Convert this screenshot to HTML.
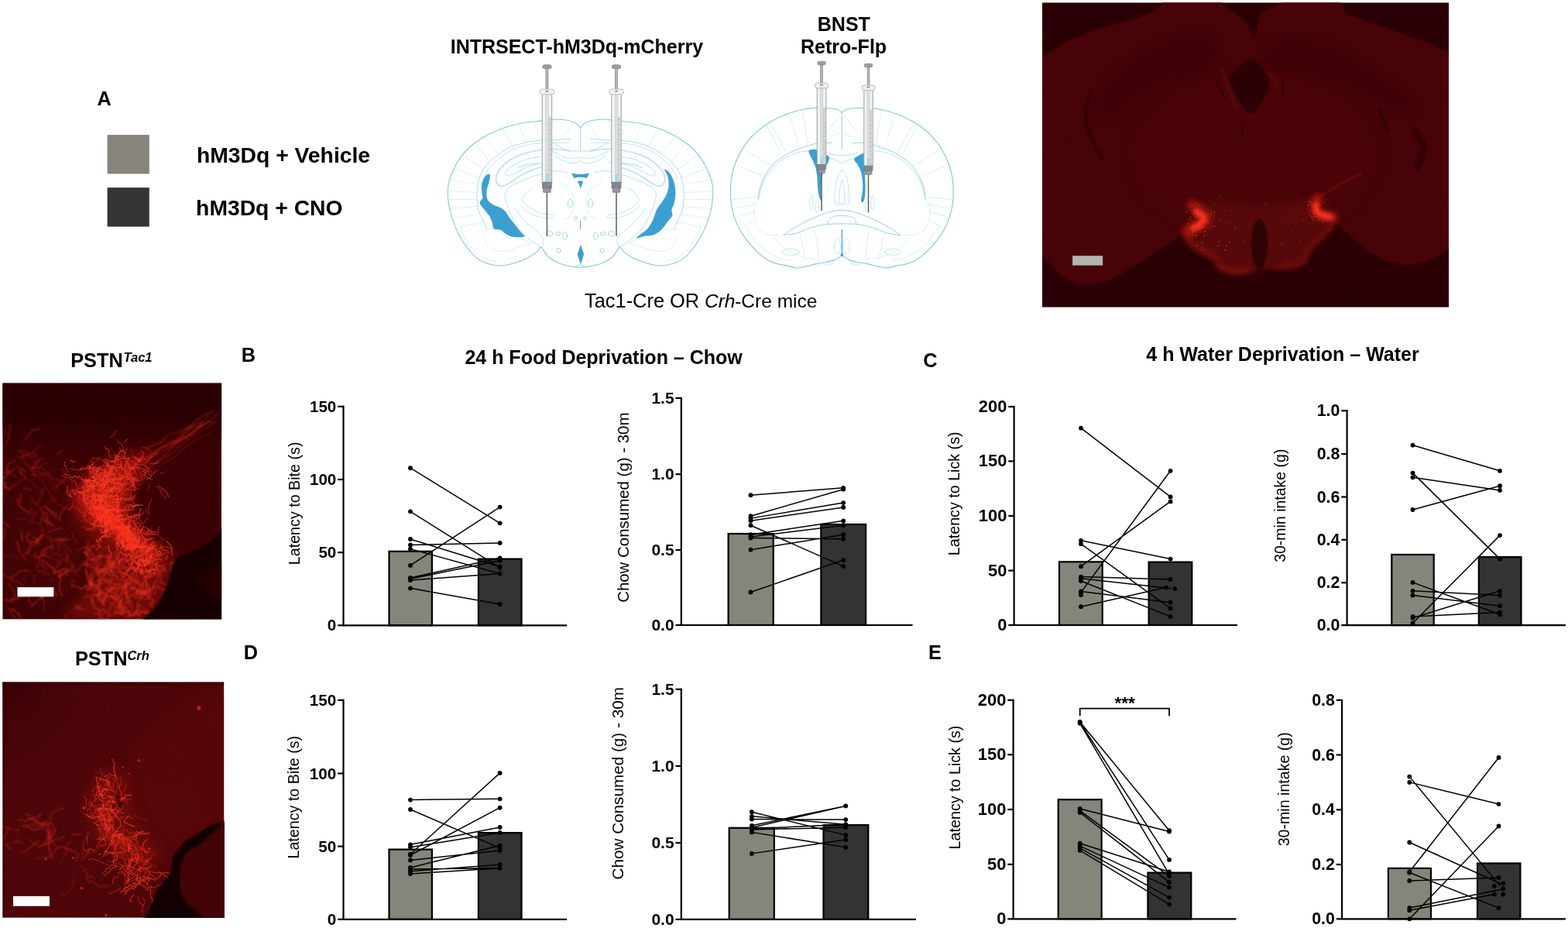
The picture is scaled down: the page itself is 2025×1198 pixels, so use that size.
<!DOCTYPE html>
<html lang="en"><head><meta charset="utf-8"><title>Figure</title>
<style>html,body{margin:0;padding:0;background:#fff}html{width:2025px;height:1198px}body{width:2025px;height:1198px;overflow:hidden}svg{display:block}text{font-family:"Liberation Sans",sans-serif;fill:#000}.b{font-weight:bold}.r{font-weight:normal}.tk{font-weight:bold;font-size:20.3px}.yl{font-weight:normal}</style></head><body>
<svg width="2025" height="1198" viewBox="0 0 2025 1198">
<rect width="2025" height="1198" fill="#fff"/>
<defs>
<filter id="s05" x="-60%" y="-60%" width="220%" height="220%" color-interpolation-filters="sRGB"><feGaussianBlur stdDeviation="0.5"/></filter>
<filter id="s1" x="-60%" y="-60%" width="220%" height="220%" color-interpolation-filters="sRGB"><feGaussianBlur stdDeviation="1"/></filter>
<filter id="s2" x="-60%" y="-60%" width="220%" height="220%" color-interpolation-filters="sRGB"><feGaussianBlur stdDeviation="2"/></filter>
<filter id="s3" x="-60%" y="-60%" width="220%" height="220%" color-interpolation-filters="sRGB"><feGaussianBlur stdDeviation="3"/></filter>
<filter id="s5" x="-60%" y="-60%" width="220%" height="220%" color-interpolation-filters="sRGB"><feGaussianBlur stdDeviation="5"/></filter>
<filter id="s8" x="-60%" y="-60%" width="220%" height="220%" color-interpolation-filters="sRGB"><feGaussianBlur stdDeviation="8"/></filter>
<filter id="s12" x="-60%" y="-60%" width="220%" height="220%" color-interpolation-filters="sRGB"><feGaussianBlur stdDeviation="12"/></filter>
<clipPath id="c1"><rect x="1346" y="3.3" width="525" height="393.4"/></clipPath>
<filter id="s07" x="-20%" y="-20%" width="140%" height="140%" color-interpolation-filters="sRGB"><feGaussianBlur stdDeviation="0.7"/></filter>
<radialGradient id="g2b" gradientUnits="userSpaceOnUse" cx="70" cy="705" r="130"><stop offset="0" stop-color="#5a0908" stop-opacity="0.45"/><stop offset="0.5" stop-color="#500706" stop-opacity="0.3"/><stop offset="1" stop-color="#4a0506" stop-opacity="0"/></radialGradient>
<filter id="nz2" x="0" y="0" width="100%" height="100%" color-interpolation-filters="sRGB"><feTurbulence type="fractalNoise" baseFrequency="0.3" numOctaves="2" seed="4"/><feColorMatrix type="matrix" values="0 0 0 0 0.7  0 0 0 0 0.06  0 0 0 0 0.05  2.4 0 0 0 -1.1"/></filter>
<filter id="nz3" x="0" y="0" width="100%" height="100%" color-interpolation-filters="sRGB"><feTurbulence type="fractalNoise" baseFrequency="0.32" numOctaves="2" seed="9"/><feColorMatrix type="matrix" values="0 0 0 0 0.8  0 0 0 0 0.08  0 0 0 0 0.06  2.4 0 0 0 -1.05"/></filter>
<radialGradient id="v3" gradientUnits="userSpaceOnUse" cx="3" cy="880" r="150"><stop offset="0" stop-color="#2e0005" stop-opacity="0.75"/><stop offset="0.45" stop-color="#380206" stop-opacity="0.4"/><stop offset="1" stop-color="#400308" stop-opacity="0"/></radialGradient>
</defs>
<g clip-path="url(#c1)">
<rect x="1346" y="3.3" width="525" height="393.4" fill="#290005"/>
<path d="M1330.44 80.78C1333.02 50.44 1338.74 77.08 1346 73C1353.26 68.92 1372.79 55.65 1384.89 50.19C1396.99 44.73 1423.95 36.19 1436.74 32.04C1449.53 27.89 1472.52 22.43 1480.82 19.07C1489.12 15.72 1494.82 10.07 1498.97 6.89C1503.12 3.71 1502.6 -3.22 1511.93 -4.78C1521.27 -6.33 1559.98 -6.16 1568.97 -4.78C1577.96 -3.4 1574.5 1.62 1579.34 5.59C1584.18 9.57 1600.26 20.2 1605.27 25.04C1610.28 29.88 1614.86 38.43 1616.94 41.89C1619.01 45.35 1619.89 52 1620.82 50.96C1621.76 49.93 1623.07 38.61 1623.94 34.11C1624.8 29.62 1624.61 20.72 1627.31 17.26C1630 13.8 1636.73 11.12 1644.16 8.19C1651.59 5.25 1672.33 -3.05 1683.05 -4.78C1693.77 -6.51 1717.96 -6.33 1724.53 -4.78C1731.1 -3.22 1729.89 3.71 1732.31 6.89C1734.73 10.07 1735.42 15.38 1742.68 19.07C1749.94 22.77 1773.97 30.14 1786.76 34.63C1799.55 39.12 1827.38 48.35 1838.61 52.78C1849.85 57.2 1864.8 64.78 1871.02 67.82C1877.24 70.86 1883.06 42.78 1885.28 75.6C1887.5 108.41 1889.15 281.25 1887.69 313.92C1886.23 346.59 1880.56 317.39 1874.33 320.6C1868.1 323.8 1849.84 335.2 1840.94 337.96C1832.03 340.72 1816.44 342.51 1807.54 341.3C1798.63 340.1 1783.05 334.16 1774.14 328.95C1765.24 323.74 1747.43 308.15 1740.75 302.23C1734.07 296.31 1726.24 287.39 1724.05 284.53C1721.87 281.67 1724.85 279.4 1724.36 280.76C1723.87 282.13 1723.02 290.78 1720.35 294.79C1717.68 298.79 1708.16 306.89 1704.33 310.81C1700.5 314.73 1694.04 320.61 1691.64 324.17C1689.24 327.73 1688.52 334.85 1686.3 337.52C1684.07 340.19 1680.2 342.92 1674.95 344.2C1669.69 345.48 1652.07 346.69 1646.9 347.14C1641.74 347.58 1639.25 347.31 1636.22 347.54C1633.19 347.77 1627.23 348.29 1624.2 348.87C1621.17 349.46 1617.61 351.36 1613.51 351.94C1609.42 352.53 1598.38 353.87 1593.48 353.28C1588.59 352.69 1579.82 349.82 1576.79 347.54C1573.76 345.26 1573.9 339.09 1570.78 336.19C1567.66 333.28 1558.19 328.94 1553.42 325.77C1548.65 322.6 1538.05 316.1 1534.99 312.41C1531.93 308.73 1531.51 299.48 1530.45 298.12C1529.39 296.77 1529.25 300.48 1527.02 302.23C1524.78 303.98 1520.78 306.48 1513.66 311.25C1506.53 316.01 1484.27 331.29 1473.58 337.96C1462.9 344.64 1443.3 357.33 1433.51 361.34C1423.71 365.35 1408.13 368.47 1400.11 368.02C1392.1 367.58 1380.61 363.21 1373.4 358C1366.18 352.79 1352.25 336.61 1346.01 328.95C1339.78 321.29 1328.72 333.65 1326.64 300.56C1324.57 267.47 1327.86 111.12 1330.44 80.78Z" fill="#460408" filter="url(#s1)"/>
<rect x="1346" y="3.3" width="525" height="393.4" filter="url(#nz2)" opacity="0.07"/>
<ellipse cx="1620" cy="200" rx="150" ry="95" fill="#4d0508" opacity="0.6" filter="url(#s12)"/>
<path d="M1413.41 137.82C1412.98 129.61 1423.35 111.89 1431.56 101.52C1439.77 91.15 1450.14 83.81 1462.67 75.6C1475.2 67.39 1491.62 57.88 1506.75 52.26C1521.87 46.64 1542.4 39.3 1553.42 41.89C1564.43 44.48 1572.86 59.17 1572.86 67.82C1572.86 76.46 1565.3 87.26 1553.42 93.74C1541.53 100.23 1516.69 101.09 1501.56 106.71C1486.44 112.33 1473.91 120.1 1462.67 127.45C1451.44 134.8 1442.36 149.05 1434.15 150.78C1425.94 152.51 1413.84 146.03 1413.41 137.82Z" fill="#38020688" filter="url(#s5)"/>
<path d="M1627.31 70.41C1629.47 63.71 1643.51 52.26 1657.12 49.67C1670.73 47.08 1691.69 49.67 1708.98 54.85C1726.26 60.04 1743.55 69.98 1760.83 80.78C1778.11 91.58 1801.45 108.44 1812.68 119.67C1823.92 130.91 1832.56 145.6 1828.24 148.19C1823.92 150.78 1802.31 141.71 1786.76 135.23C1771.2 128.75 1752.19 116 1734.9 109.3C1717.62 102.6 1698.17 98.28 1683.05 95.04C1667.93 91.8 1653.45 93.96 1644.16 89.86C1634.87 85.75 1625.15 77.11 1627.31 70.41Z" fill="#38020688" filter="url(#s5)"/>
<path d="M1408.22 117.08C1407.27 123.99 1399.93 143.87 1402.52 158.56C1405.11 173.25 1420.24 197.45 1423.78 205.23" stroke="#2b0104" stroke-width="4" fill="none" opacity="0.75" stroke-linecap="round" filter="url(#s1)"/>
<path d="M1825.65 168.93C1827.81 172.39 1837.75 181.9 1838.61 189.67C1839.48 197.45 1832.13 211.28 1830.83 215.6" stroke="#2b0104" stroke-width="9" fill="none" opacity="0.75" stroke-linecap="round" filter="url(#s1)"/>
<path d="M1781.57 143.01C1783.3 147.33 1790.21 164.61 1791.94 168.93" stroke="#2b0104" stroke-width="4" fill="none" opacity="0.75" stroke-linecap="round" filter="url(#s1)"/>
<path d="M1602.68 155.97C1603.11 159.86 1604.84 175.41 1605.27 179.3" stroke="#2b0104" stroke-width="2.5" fill="none" opacity="0.75" stroke-linecap="round" filter="url(#s1)"/>
<path d="M1568.97 101.52C1571.13 105.84 1579.77 123.13 1581.93 127.45" stroke="#2b0104" stroke-width="2.5" fill="none" opacity="0.75" stroke-linecap="round" filter="url(#s1)"/>
<path d="M1655.83 104.11C1656.04 107.14 1656.91 119.24 1657.12 122.26" stroke="#2b0104" stroke-width="2.5" fill="none" opacity="0.75" stroke-linecap="round" filter="url(#s1)"/>
<path d="M1587.12 101.52C1587.12 96.08 1598.05 88.93 1601.38 85.97C1604.71 83 1611.86 75.51 1615.64 76.11C1619.42 76.72 1631.07 86.98 1633.79 91.15C1636.51 95.33 1639.58 107.05 1638.97 111.89C1638.37 116.73 1631.33 128.55 1628.6 132.63C1625.88 136.72 1618.82 146.89 1615.64 146.89C1612.46 146.89 1604.71 137.93 1601.38 132.63C1598.05 127.34 1587.12 106.97 1587.12 101.52Z" fill="#2c0105" filter="url(#s1)"/>
<path d="M1578.05 88.56C1579.56 92.88 1584.1 106.28 1587.12 114.49C1590.14 122.7 1594.68 133.93 1596.19 137.82" stroke="#5a090b" stroke-width="3.5" fill="none" opacity="0.9" stroke-linecap="round" filter="url(#s1)"/>
<path d="M1635.08 92.45C1636.6 93.53 1641.78 95.69 1644.16 98.93C1646.54 102.17 1648.48 109.73 1649.34 111.89" stroke="#5a090b" stroke-width="3.5" fill="none" opacity="0.9" stroke-linecap="round" filter="url(#s1)"/>
<path d="M1530.45 298.12C1531.13 294.17 1537.36 287.31 1540.06 282.77C1542.77 278.23 1545.41 267.1 1550.75 264.07C1556.09 261.04 1571.76 260.06 1580.13 260.06C1588.5 260.06 1607.37 263.18 1613.51 264.07C1619.66 264.96 1622.64 266.74 1626.2 266.74C1629.76 266.74 1633.9 264.96 1640.22 264.07C1646.55 263.18 1665.95 260.95 1673.61 260.06C1681.27 259.17 1690.88 254.63 1697.65 257.39C1704.42 260.15 1721.33 275.78 1724.36 280.76C1727.39 285.75 1723.02 290.78 1720.35 294.79C1717.68 298.79 1708.16 306.89 1704.33 310.81C1700.5 314.73 1694.04 320.61 1691.64 324.17C1689.24 327.73 1688.52 334.85 1686.3 337.52C1684.07 340.19 1680.2 342.92 1674.95 344.2C1669.69 345.48 1652.07 346.69 1646.9 347.14C1641.74 347.58 1638.98 347.31 1636.22 347.54C1633.46 347.77 1629.23 348.29 1626.2 348.87C1623.17 349.46 1617.88 351.36 1613.51 351.94C1609.15 352.53 1598.38 353.87 1593.48 353.28C1588.59 352.69 1579.82 349.82 1576.79 347.54C1573.76 345.26 1573.9 339.09 1570.78 336.19C1567.66 333.28 1558.19 328.94 1553.42 325.77C1548.65 322.6 1538.05 316.1 1534.99 312.41C1531.93 308.73 1529.77 302.08 1530.45 298.12Z" fill="#5c0a0a" opacity="0.75" filter="url(#s5)"/>
<path d="M1532.05 300.13C1532.72 302.13 1532.5 308.14 1536.06 312.15C1539.62 316.15 1547.85 320.61 1553.42 324.17C1558.98 327.73 1565.55 330.06 1569.44 333.51C1573.34 336.96 1572.78 342.08 1576.79 344.87C1580.8 347.65 1587.36 349.47 1593.48 350.21C1599.6 350.94 1610.18 349.43 1613.51 349.27" stroke="#8c160e" stroke-width="9" fill="none" opacity="0.55" filter="url(#s3)"/>
<path d="M1721.69 284.1C1721.02 285.88 1720.91 290.56 1717.68 294.79C1714.45 299.02 1707 304.8 1702.32 309.48C1697.65 314.15 1692.64 318.49 1689.64 322.83C1686.63 327.17 1686.97 332.36 1684.29 335.52C1681.62 338.68 1679.84 340.24 1673.61 341.79C1667.38 343.35 1651.35 344.35 1646.9 344.87" stroke="#84140e" stroke-width="8" fill="none" opacity="0.45" filter="url(#s3)"/>
<path d="M1705.66 253.39C1709.22 251.16 1720.13 244.04 1727.03 240.03C1733.93 236.03 1741.56 232.24 1747.06 229.35C1752.56 226.45 1757.86 223.78 1760.02 222.67" stroke="#6e0d0c" stroke-width="3" fill="none" opacity="0.8" filter="url(#s1)"/>
<path d="M1626.2 282.1C1628.65 281.88 1631.66 287.33 1633.55 292.12C1635.44 296.9 1637.33 303.91 1637.55 310.81C1637.78 317.71 1636.44 327.28 1634.88 333.51C1633.32 339.75 1630.65 347.09 1628.21 348.21C1625.76 349.32 1622.24 345.53 1620.19 340.19C1618.14 334.85 1616.14 323.94 1615.92 316.15C1615.7 308.36 1617.14 299.13 1618.86 293.45C1620.57 287.78 1623.75 282.32 1626.2 282.1Z" fill="#2d0205" filter="url(#s1)"/>
<path d="M1540.06 265.41C1541.84 266.74 1547.85 270.97 1550.75 273.42C1553.64 275.87 1556.98 277.65 1557.43 280.1C1557.87 282.54 1555.64 285.88 1553.42 288.11C1551.19 290.33 1547.41 291.78 1544.07 293.45C1540.73 295.12 1535.17 297.35 1533.39 298.12" stroke="#e02414" stroke-width="15" fill="none" opacity="0.5" stroke-linecap="round" filter="url(#s3)"/>
<path d="M1545.41 273.42C1546.96 274.75 1553.86 278.98 1554.75 281.43C1555.64 283.88 1552.97 285.88 1550.75 288.11C1548.52 290.33 1542.96 293.67 1541.4 294.79" stroke="#ff3320" stroke-width="8" fill="none" opacity="0.9" stroke-linecap="round" filter="url(#s2)"/>
<path d="M1701.66 256.06C1701.21 257.62 1699.21 262.51 1698.99 265.41C1698.76 268.3 1698.54 271.19 1700.32 273.42C1702.1 275.64 1706.11 277.6 1709.67 278.76C1713.23 279.92 1719.68 280.1 1721.69 280.36" stroke="#e02414" stroke-width="13" fill="none" opacity="0.5" stroke-linecap="round" filter="url(#s3)"/>
<path d="M1699.65 264.07C1699.76 265.52 1698.87 270.41 1700.32 272.75C1701.77 275.09 1705.44 276.91 1708.33 278.09C1711.23 279.27 1716.12 279.54 1717.68 279.83" stroke="#ff3320" stroke-width="7.5" fill="none" opacity="0.9" stroke-linecap="round" filter="url(#s2)"/>
<g fill="#ff4a30" opacity="0.45" filter="url(#s07)"><circle cx="1549.9" cy="299.8" r="0.7"/><circle cx="1539.0" cy="276.6" r="0.4"/><circle cx="1566.1" cy="287.7" r="0.6"/><circle cx="1551.9" cy="322.1" r="0.7"/><circle cx="1554.3" cy="275.3" r="0.8"/><circle cx="1556.5" cy="298.7" r="1.0"/><circle cx="1534.4" cy="283.4" r="0.9"/><circle cx="1563.0" cy="293.3" r="0.8"/><circle cx="1548.3" cy="288.6" r="1.0"/><circle cx="1534.9" cy="289.0" r="1.0"/><circle cx="1544.5" cy="261.8" r="0.7"/><circle cx="1552.1" cy="274.7" r="1.1"/><circle cx="1552.0" cy="282.6" r="0.5"/><circle cx="1553.8" cy="313.9" r="0.7"/><circle cx="1543.7" cy="279.3" r="0.8"/><circle cx="1542.7" cy="292.7" r="0.8"/><circle cx="1532.2" cy="274.0" r="0.9"/><circle cx="1565.0" cy="276.6" r="1.1"/><circle cx="1546.5" cy="280.2" r="1.0"/><circle cx="1568.0" cy="280.7" r="0.8"/><circle cx="1547.6" cy="278.6" r="1.0"/><circle cx="1542.4" cy="282.0" r="0.4"/><circle cx="1565.6" cy="259.5" r="0.5"/><circle cx="1551.9" cy="275.3" r="0.5"/><circle cx="1544.8" cy="304.1" r="1.0"/><circle cx="1561.0" cy="290.2" r="0.4"/><circle cx="1547.4" cy="276.3" r="1.0"/><circle cx="1559.6" cy="284.4" r="1.1"/><circle cx="1547.7" cy="290.1" r="0.8"/><circle cx="1554.9" cy="287.4" r="0.7"/><circle cx="1545.0" cy="281.9" r="0.4"/><circle cx="1554.3" cy="279.0" r="1.1"/><circle cx="1556.0" cy="279.5" r="0.7"/><circle cx="1536.2" cy="284.0" r="0.8"/><circle cx="1537.3" cy="280.4" r="1.1"/><circle cx="1539.4" cy="285.5" r="0.9"/><circle cx="1549.6" cy="295.3" r="1.1"/><circle cx="1537.8" cy="284.2" r="0.4"/><circle cx="1538.8" cy="293.4" r="0.4"/><circle cx="1539.5" cy="275.7" r="0.4"/><circle cx="1542.0" cy="277.2" r="0.9"/><circle cx="1540.5" cy="299.8" r="0.9"/><circle cx="1552.2" cy="286.5" r="0.9"/><circle cx="1555.7" cy="284.1" r="0.7"/><circle cx="1542.4" cy="280.7" r="0.7"/><circle cx="1545.7" cy="295.8" r="0.8"/><circle cx="1546.3" cy="296.2" r="0.9"/><circle cx="1560.5" cy="288.4" r="0.9"/><circle cx="1546.6" cy="293.3" r="1.0"/><circle cx="1549.4" cy="293.1" r="0.7"/><circle cx="1547.7" cy="281.2" r="0.6"/><circle cx="1540.4" cy="304.0" r="0.7"/><circle cx="1552.4" cy="280.7" r="0.6"/><circle cx="1538.0" cy="267.5" r="0.7"/><circle cx="1549.7" cy="291.5" r="0.8"/><circle cx="1554.9" cy="304.6" r="1.0"/><circle cx="1551.9" cy="294.1" r="1.0"/><circle cx="1538.8" cy="270.5" r="0.6"/><circle cx="1554.1" cy="292.7" r="1.0"/><circle cx="1547.9" cy="296.1" r="0.7"/><circle cx="1540.9" cy="291.5" r="1.0"/><circle cx="1549.5" cy="286.9" r="1.1"/><circle cx="1568.3" cy="263.8" r="0.7"/><circle cx="1568.6" cy="278.2" r="0.6"/><circle cx="1548.5" cy="265.1" r="0.9"/><circle cx="1541.6" cy="284.9" r="0.6"/><circle cx="1549.5" cy="290.1" r="0.8"/><circle cx="1545.2" cy="305.5" r="0.4"/><circle cx="1560.4" cy="276.4" r="1.0"/><circle cx="1564.4" cy="271.7" r="0.8"/><circle cx="1715.8" cy="275.1" r="0.5"/><circle cx="1696.9" cy="285.2" r="0.8"/><circle cx="1682.8" cy="283.8" r="0.8"/><circle cx="1697.3" cy="279.1" r="1.0"/><circle cx="1685.4" cy="276.0" r="0.6"/><circle cx="1704.6" cy="283.4" r="1.0"/><circle cx="1708.6" cy="286.5" r="1.0"/><circle cx="1706.8" cy="260.0" r="0.4"/><circle cx="1688.6" cy="262.5" r="0.4"/><circle cx="1700.0" cy="280.3" r="0.8"/><circle cx="1692.0" cy="278.2" r="0.9"/><circle cx="1704.0" cy="274.0" r="0.5"/><circle cx="1703.4" cy="276.1" r="1.1"/><circle cx="1703.3" cy="271.3" r="0.8"/><circle cx="1697.9" cy="280.4" r="0.6"/><circle cx="1693.8" cy="265.5" r="0.7"/><circle cx="1703.9" cy="280.7" r="0.5"/><circle cx="1687.6" cy="269.7" r="0.7"/><circle cx="1705.9" cy="276.4" r="0.7"/><circle cx="1688.5" cy="265.5" r="0.7"/><circle cx="1705.0" cy="263.4" r="0.7"/><circle cx="1693.7" cy="280.7" r="0.9"/><circle cx="1688.8" cy="279.9" r="0.7"/><circle cx="1701.3" cy="283.9" r="0.9"/><circle cx="1709.5" cy="277.7" r="0.7"/><circle cx="1716.4" cy="261.1" r="0.7"/><circle cx="1713.8" cy="265.5" r="0.6"/><circle cx="1696.5" cy="274.9" r="1.0"/><circle cx="1691.2" cy="259.8" r="1.0"/><circle cx="1693.8" cy="262.7" r="0.8"/><circle cx="1710.6" cy="280.4" r="0.4"/><circle cx="1710.6" cy="284.8" r="0.4"/><circle cx="1704.5" cy="276.0" r="1.0"/><circle cx="1701.8" cy="275.6" r="1.0"/><circle cx="1713.5" cy="284.6" r="0.9"/><circle cx="1712.4" cy="257.1" r="0.8"/><circle cx="1701.7" cy="271.9" r="0.9"/><circle cx="1686.8" cy="273.1" r="0.5"/><circle cx="1700.9" cy="255.3" r="0.4"/><circle cx="1695.8" cy="283.2" r="1.0"/><circle cx="1701.3" cy="279.0" r="0.6"/><circle cx="1689.8" cy="265.1" r="0.7"/><circle cx="1694.9" cy="279.9" r="0.6"/><circle cx="1697.7" cy="275.6" r="0.8"/><circle cx="1710.2" cy="272.6" r="0.9"/><circle cx="1708.3" cy="284.4" r="0.9"/><circle cx="1696.0" cy="265.4" r="0.7"/><circle cx="1689.0" cy="260.6" r="0.5"/><circle cx="1713.3" cy="281.5" r="1.0"/><circle cx="1691.3" cy="273.1" r="0.9"/><circle cx="1703.8" cy="279.8" r="0.5"/><circle cx="1694.3" cy="270.4" r="0.6"/><circle cx="1692.9" cy="255.5" r="0.6"/><circle cx="1698.4" cy="266.1" r="1.0"/><circle cx="1694.9" cy="270.8" r="0.6"/><circle cx="1711.2" cy="275.3" r="0.7"/><circle cx="1705.0" cy="280.7" r="0.6"/><circle cx="1701.8" cy="269.6" r="1.1"/><circle cx="1688.9" cy="275.4" r="0.7"/><circle cx="1709.5" cy="261.2" r="0.8"/><circle cx="1540.1" cy="303.4" r="1.0"/><circle cx="1546.0" cy="317.2" r="1.1"/><circle cx="1559.4" cy="302.6" r="0.6"/><circle cx="1568.3" cy="273.6" r="1.1"/><circle cx="1584.9" cy="289.4" r="0.5"/><circle cx="1574.2" cy="311.6" r="0.9"/><circle cx="1604.8" cy="270.0" r="0.6"/><circle cx="1587.6" cy="288.3" r="0.7"/><circle cx="1573.8" cy="292.4" r="0.5"/><circle cx="1584.2" cy="287.1" r="0.6"/><circle cx="1546.1" cy="286.9" r="0.4"/><circle cx="1563.0" cy="316.6" r="0.7"/><circle cx="1582.2" cy="323.1" r="1.1"/><circle cx="1553.6" cy="314.3" r="0.5"/><circle cx="1570.0" cy="326.3" r="0.5"/><circle cx="1611.5" cy="274.4" r="0.5"/><circle cx="1594.9" cy="293.7" r="0.9"/><circle cx="1575.8" cy="284.9" r="0.9"/><circle cx="1552.4" cy="273.1" r="0.6"/><circle cx="1576.5" cy="254.1" r="0.9"/><circle cx="1564.5" cy="298.0" r="0.7"/><circle cx="1554.0" cy="322.9" r="0.9"/><circle cx="1562.3" cy="295.4" r="0.9"/><circle cx="1565.6" cy="291.7" r="1.0"/><circle cx="1568.7" cy="292.4" r="1.1"/><circle cx="1587.5" cy="312.5" r="0.9"/><circle cx="1552.1" cy="286.8" r="0.9"/><circle cx="1556.6" cy="304.1" r="0.5"/><circle cx="1606.7" cy="311.9" r="0.9"/><circle cx="1540.2" cy="292.1" r="0.7"/><circle cx="1572.8" cy="317.6" r="1.0"/><circle cx="1600.2" cy="305.6" r="0.6"/><circle cx="1577.4" cy="283.3" r="0.6"/><circle cx="1552.4" cy="312.8" r="0.9"/><circle cx="1549.3" cy="327.8" r="0.5"/><circle cx="1573.7" cy="308.2" r="0.5"/><circle cx="1581.4" cy="271.5" r="0.5"/><circle cx="1583.5" cy="317.3" r="0.9"/><circle cx="1589.7" cy="272.6" r="0.8"/><circle cx="1588.4" cy="314.4" r="0.5"/><circle cx="1646.9" cy="296.0" r="0.5"/><circle cx="1675.0" cy="331.4" r="0.4"/><circle cx="1690.2" cy="264.2" r="1.1"/><circle cx="1654.3" cy="315.3" r="0.8"/><circle cx="1634.7" cy="263.2" r="0.9"/><circle cx="1661.7" cy="334.0" r="0.7"/><circle cx="1646.5" cy="282.8" r="0.4"/><circle cx="1679.2" cy="273.7" r="0.7"/><circle cx="1650.8" cy="297.0" r="0.5"/><circle cx="1669.1" cy="299.1" r="0.8"/><circle cx="1660.5" cy="284.5" r="0.8"/><circle cx="1719.9" cy="290.3" r="0.5"/><circle cx="1683.1" cy="275.7" r="0.4"/><circle cx="1664.8" cy="310.1" r="0.5"/><circle cx="1625.8" cy="290.0" r="0.6"/><circle cx="1698.3" cy="279.8" r="0.5"/><circle cx="1693.8" cy="281.0" r="1.0"/><circle cx="1667.3" cy="271.1" r="0.6"/><circle cx="1692.8" cy="260.9" r="1.0"/><circle cx="1640.9" cy="311.7" r="0.7"/><circle cx="1680.0" cy="303.4" r="0.5"/><circle cx="1679.0" cy="310.1" r="0.7"/><circle cx="1666.4" cy="278.8" r="0.7"/><circle cx="1663.9" cy="287.6" r="0.7"/><circle cx="1676.0" cy="281.8" r="0.5"/><circle cx="1703.3" cy="283.0" r="0.7"/><circle cx="1656.4" cy="316.0" r="0.8"/><circle cx="1675.3" cy="301.3" r="0.5"/><circle cx="1677.5" cy="290.2" r="0.7"/><circle cx="1680.1" cy="311.6" r="0.5"/></g>
</g>
<rect x="1385.1" y="330.2" width="39.1" height="12.4" fill="#b4b4b4"/>
<clipPath id="k2"><rect x="3.3" y="494.5" width="282.9" height="305.1"/></clipPath>
<g clip-path="url(#k2)">
<rect x="3.3" y="494.5" width="282.9" height="305.1" fill="#380205"/>
<rect x="-20" y="460" width="330" height="100" fill="#290005" opacity="0.9" filter="url(#s12)"/>
<rect x="3.3" y="494.5" width="282.9" height="305.1" fill="url(#g2b)"/>
<rect x="3.3" y="494.5" width="282.9" height="305.1" filter="url(#nz2)" opacity="0.12"/>
<path d="M92.03 637.25C93.35 628.49 99.48 622.35 105.18 616.22C110.88 610.08 117.45 605.26 126.22 600.44C134.98 595.62 148.13 590.36 157.77 587.29C167.41 584.22 177.93 581.59 184.07 582.03C190.2 582.47 195.46 584.66 194.58 589.92C193.71 595.18 183.19 605.7 178.81 613.59C174.42 621.48 170.48 629.8 168.29 637.25C166.1 644.7 164.34 650.84 165.66 658.29C166.97 665.74 170.48 674.5 176.18 681.95C181.87 689.4 191.08 696.85 199.84 702.99C208.61 709.13 225.26 712.63 228.77 718.77C232.27 724.9 223.07 731.91 220.88 739.8C218.69 747.69 219.13 756.02 215.62 766.1C212.11 776.18 221.32 794.58 199.84 800.28C178.37 805.98 101.67 805.98 86.77 800.28C71.87 794.58 103.87 776.18 110.44 766.1C117.01 756.02 124.02 748.57 126.22 739.8C128.41 731.04 126.22 721.83 123.59 713.51C120.96 705.18 114.82 697.29 110.44 689.84C106.06 682.39 100.36 677.57 97.29 668.81C94.22 660.04 90.72 646.02 92.03 637.25Z" fill="#9a130c" opacity="0.5" filter="url(#s8)"/>
<path d="M97.29 639.88C98.61 631.99 104.74 622.79 113.07 616.22C121.4 609.64 136.3 603.95 147.25 600.44C158.21 596.93 174.86 590.8 178.81 595.18C182.75 599.56 173.55 616.22 170.92 626.73C168.29 637.25 166.97 650.4 163.03 658.29C159.08 666.18 153.83 671.44 147.25 674.07C140.68 676.69 130.6 675.82 123.59 674.07C116.57 672.31 109.56 669.24 105.18 663.55C100.8 657.85 95.98 647.77 97.29 639.88Z" fill="#d01e12" opacity="0.45" filter="url(#s8)"/>
<path d="M123.59 647.77C126.65 651.71 134.54 663.55 141.99 671.44C149.44 679.32 159.52 687.65 168.29 695.1C177.05 702.55 190.2 712.63 194.58 716.14" stroke="#e42416" stroke-width="30" fill="none" opacity="0.55" stroke-linecap="round" filter="url(#s8)"/>
<path d="M131.48 660.92C134.1 663.55 140.24 670.12 147.25 676.69C154.26 683.27 169.16 696.42 173.55 700.36" stroke="#ff2e1a" stroke-width="15" fill="none" opacity="0.7" stroke-linecap="round" filter="url(#s5)"/>
<g stroke-linecap="round" filter="url(#s07)">
<path d="M153.7 664.1Q153.9 661.1 153.6 658.1T155.3 655.6 156.6 652.9M190.1 715.7Q187.1 715.4 184.1 715.2M173.7 703.5Q176.0 705.5 179.0 705.8T181.5 707.4M160.3 674.4Q161.0 671.5 162.7 669.0M128.6 668.4Q125.8 669.5 122.9 670.0T121.3 672.6 121.0 675.6M141.1 650.3Q143.5 652.0 146.4 653.0T148.5 650.8 150.4 648.6 150.5 645.6M167.5 690.2Q170.2 688.9 173.1 688.1T175.9 687.0 178.9 686.9 181.3 685.2 183.8 683.5 186.0 681.4M139.9 650.9Q138.6 653.6 135.7 654.5T132.8 655.1M150.5 654.5Q148.0 652.8 145.1 653.5T142.5 655.0M124.3 661.8Q123.7 664.7 124.3 667.7T121.8 669.4 119.3 671.1 116.9 669.3" stroke="#ff3c26" stroke-width="0.8" stroke-opacity="0.3" fill="none"/><path d="M148.1 657.6Q150.9 658.8 153.8 658.4T156.8 658.3 159.8 658.6M111.3 617.1Q108.9 615.3 106.9 613.0T104.8 610.9M136.4 659.7Q139.4 659.4 142.1 658.3T145.1 657.9 148.0 657.2 151.0 657.2M166.2 696.7Q166.8 693.8 169.6 692.8T170.6 690.0 171.7 687.1 171.7 684.1 172.8 681.4 174.8 679.1M128.7 658.1Q126.0 656.7 123.7 654.8" stroke="#ff3c26" stroke-width="0.8" stroke-opacity="0.4" fill="none"/><path d="M162.2 709.0Q165.2 708.6 167.9 707.5T169.7 705.0 171.2 702.4M196.0 715.7Q193.8 713.7 192.3 711.1T190.2 709.0 187.2 709.0M137.5 665.5Q137.3 662.5 135.3 660.3T135.2 657.3 133.6 654.8M164.8 708.4Q162.4 706.7 159.6 705.7T157.6 703.4 155.0 701.9M129.0 634.0Q131.8 632.8 134.6 631.8T137.5 631.4M197.3 709.2Q194.6 707.8 191.9 706.7T188.9 706.6 185.9 706.1 183.0 705.4" stroke="#ff3c26" stroke-width="0.8" stroke-opacity="0.5" fill="none"/><path d="M158.7 666.5Q155.7 666.3 152.8 666.9T150.4 668.7 147.7 670.0 145.3 671.7 142.4 672.8 140.1 674.6M184.2 707.6Q185.4 704.9 187.0 702.3T189.1 700.2M186.6 714.7Q187.6 717.5 189.3 720.0T190.5 722.7 189.5 725.6 187.9 728.1M174.2 695.5Q177.1 694.6 179.5 696.4T182.4 695.7 185.4 696.1 188.4 696.6 191.2 697.6M152.1 622.4Q153.9 620.1 155.8 617.7M189.4 663.9Q188.9 661.0 189.1 658.0T188.0 655.2" stroke="#ff3c26" stroke-width="0.8" stroke-opacity="0.6" fill="none"/><path d="M164.1 693.2Q165.5 695.9 166.4 698.7T166.5 701.7 165.3 704.5M138.6 625.9Q135.7 625.3 132.7 624.7T130.1 623.4M148.9 625.5Q146.4 627.2 144.2 629.3T142.5 631.8 142.2 634.7 140.9 637.4M177.6 685.3Q180.6 685.0 183.5 684.2T186.3 685.3 189.1 686.3 190.5 688.9M202.7 723.6Q200.6 721.4 197.9 720.2T194.9 720.4" stroke="#ff3c26" stroke-width="0.8" stroke-opacity="0.7" fill="none"/><path d="M172.2 673.8Q173.2 671.0 173.6 668.0T175.8 666.0 178.3 664.5 179.3 661.6 180.9 659.1 181.9 656.2M183.9 678.4Q186.4 680.1 189.1 681.4T190.7 684.0 193.3 685.4 196.1 686.5 199.1 686.4 202.1 686.3" stroke="#ff3c26" stroke-width="0.8" stroke-opacity="0.8" fill="none"/><path d="M163.4 696.1Q162.2 693.3 159.9 691.4M119.3 604.6Q122.3 604.1 125.2 605.0T128.1 605.8 131.0 606.2 134.0 605.9 137.0 605.8M183.3 707.9Q181.9 710.6 181.0 713.5T179.5 716.0 176.6 717.0M133.2 628.9Q134.6 626.3 135.1 623.3T135.6 620.4M166.1 633.2Q166.1 630.2 168.1 628.0T170.9 626.9 173.6 625.7 174.7 622.9 177.4 621.5M134.0 637.5Q131.2 636.6 128.5 635.2T126.1 633.5 123.3 632.3 120.4 631.4M119.1 660.7Q119.2 663.7 118.9 666.7T116.8 668.9 113.9 669.5 111.3 671.0 108.3 671.6 105.5 672.6M140.5 658.3Q137.5 658.8 134.5 658.7T131.6 658.3 128.6 658.7 125.6 659.0 122.6 659.1M148.9 673.7Q148.8 670.7 150.2 668.0T152.4 666.0 155.0 664.5 158.0 664.9 160.7 666.2" stroke="#ff3c26" stroke-width="0.9" stroke-opacity="0.3" fill="none"/><path d="M190.9 709.4Q193.4 707.8 195.5 705.6T197.7 703.5 200.0 701.7 202.7 700.3 205.2 698.6 207.9 697.3M182.7 707.0Q179.8 706.2 176.8 706.7T173.8 706.7 171.5 704.8 168.5 705.1 165.5 704.7M121.6 645.7Q121.0 648.6 122.3 651.3M120.8 646.1Q120.0 643.2 118.6 640.6T117.3 637.9 118.0 634.9 120.4 633.2 123.0 634.7 124.0 637.6M193.1 719.4Q195.8 720.7 196.9 723.5T196.9 726.5 196.0 729.3 196.0 732.3M154.5 697.4Q156.5 695.2 159.1 693.7T161.0 691.4 163.6 689.9 165.4 687.5 167.1 684.9M157.3 698.4Q160.3 698.4 163.3 697.8T166.2 698.5M160.8 701.8Q160.2 704.8 159.2 707.6T157.7 710.2 155.7 712.4 153.4 714.4 153.3 717.4M130.0 665.6Q130.0 662.6 130.6 659.6T131.8 656.9 132.9 654.1 134.3 651.5 134.7 648.5M188.2 715.0Q189.2 717.8 190.2 720.6T191.8 723.2 194.5 724.5M140.1 623.4Q137.8 625.4 136.4 628.1T134.2 630.1M133.4 619.0Q133.4 616.0 134.2 613.1T134.7 610.1 136.6 607.8" stroke="#ff3c26" stroke-width="0.9" stroke-opacity="0.4" fill="none"/><path d="M153.5 653.2Q151.3 651.1 149.0 649.2T146.2 648.2 143.7 646.7 141.1 645.2 138.1 645.6 135.2 644.8M124.0 640.3Q121.4 641.9 119.4 644.1T117.4 646.3 115.2 648.3 112.3 649.2 110.3 651.4 110.9 654.3M123.5 641.9Q120.6 641.6 117.8 640.4M143.0 675.5Q143.2 672.5 141.4 670.2T138.7 668.7 135.7 668.5 132.8 668.3 130.0 667.2M137.1 633.8Q139.9 634.9 142.9 634.9M157.5 678.2Q159.6 680.3 161.8 682.4T163.3 685.0 165.2 687.3M143.0 647.9Q146.0 647.4 148.9 646.6T151.8 645.7 154.7 645.3 156.9 647.4 158.9 649.6M173.9 701.8Q171.9 699.5 170.1 697.1T168.0 695.0 165.6 693.1 163.6 690.9 162.1 688.3M161.0 625.2Q163.8 626.1 166.8 625.8T169.8 626.3 172.5 627.6 174.9 629.4 177.5 630.9 180.5 630.6M127.8 617.6Q126.7 620.4 128.6 622.7T130.7 624.9 133.5 625.8 135.7 627.8M189.8 709.3Q192.8 709.4 195.3 707.7T198.3 707.9M140.5 682.5Q138.6 684.7 137.2 687.4T135.7 690.0 133.4 692.0 131.2 694.0M170.3 640.7Q168.1 642.7 165.6 644.3M168.0 696.3Q169.3 699.0 171.4 701.1T172.6 703.9 173.4 706.8 173.5 709.8 171.9 712.3 169.2 713.7" stroke="#ff3c26" stroke-width="0.9" stroke-opacity="0.5" fill="none"/><path d="M143.9 682.0Q146.8 682.8 149.8 683.2T152.4 681.7 154.6 679.7M197.7 724.3Q195.0 723.0 192.3 724.3T189.3 724.6 186.3 725.1 184.1 723.2 181.2 722.3M140.0 663.8Q141.8 666.2 143.5 668.7T145.4 670.9M188.8 707.0Q186.0 708.1 184.7 710.8M203.1 727.6Q201.7 725.0 199.0 723.5M111.0 640.0Q113.8 638.8 116.8 638.3T119.7 638.0 121.2 640.6 123.4 642.6 125.7 644.6 128.0 646.5M176.1 693.3Q176.2 696.3 174.3 698.6T172.3 700.8 169.7 702.4 168.0 704.8 169.7 707.3 172.7 707.8M195.4 727.2Q192.4 727.5 189.6 728.6T187.2 726.8 186.0 724.0M225.2 725.4Q222.5 726.7 219.5 727.0M163.7 668.8Q165.7 671.1 168.6 671.7T171.6 672.3 174.6 671.9 176.3 669.5 178.5 667.4 181.4 668.1" stroke="#ff3c26" stroke-width="0.9" stroke-opacity="0.6" fill="none"/><path d="M130.0 645.2Q132.1 643.1 132.6 640.1M157.0 671.6Q159.7 670.2 162.0 668.3T164.9 667.5 167.8 668.3 170.7 669.0M204.1 718.2Q206.7 716.7 209.5 715.6T212.5 715.3 215.0 713.7 218.0 713.1 220.7 712.0M141.4 607.4Q143.3 609.7 143.3 612.7T140.4 613.3 137.5 614.1 134.7 613.0M143.9 631.5Q141.1 632.6 138.2 632.8T135.4 634.1M135.2 647.8Q138.2 648.4 141.0 647.5T144.0 647.7 146.9 648.5M120.2 645.7Q118.3 648.0 117.0 650.7T117.2 653.7 114.6 655.2 111.7 655.9M157.2 697.7Q158.3 700.6 159.0 703.5T160.3 706.2M200.5 728.4Q201.1 731.4 201.2 734.4T201.3 737.4 200.1 740.1M199.2 720.0Q200.1 717.2 202.3 715.2T205.2 716.0 207.9 714.7M128.1 676.1Q129.3 673.4 128.7 670.5T129.5 667.6 131.6 665.5M170.1 716.0Q172.9 714.8 175.2 712.8T177.8 711.3M168.6 635.8Q168.9 638.8 169.4 641.8T170.2 644.7 171.8 647.2 172.1 650.2 172.4 653.2 170.6 655.6M142.1 692.5Q139.1 692.4 136.9 694.4M167.7 695.5Q170.7 695.6 173.7 695.2T175.8 693.1 176.6 690.2 178.3 687.7 178.4 684.7 179.1 681.8M155.0 626.3Q156.6 623.8 159.2 622.4T161.6 620.5 164.2 619.0 166.7 617.3 169.6 616.8 172.4 615.7M173.5 705.0Q171.2 703.1 169.3 700.8" stroke="#ff3c26" stroke-width="0.9" stroke-opacity="0.7" fill="none"/><path d="M155.8 712.0Q158.2 713.8 160.0 716.2T159.1 719.1 156.9 721.1 154.8 723.3 154.0 726.2 153.2 729.1M182.0 705.3Q179.1 706.0 176.1 706.4T173.1 705.7 170.2 706.3 167.3 706.8 164.3 706.6 161.3 706.1M162.0 695.8Q160.7 698.5 157.9 699.6T155.3 701.1M126.2 648.1Q124.5 645.6 122.9 643.1T123.3 640.1M205.4 679.9Q204.5 682.7 204.5 685.7T204.1 688.7M217.5 710.2Q214.9 711.7 212.0 710.7T209.6 709.0 208.3 706.2 207.8 703.3M200.4 710.2Q198.0 708.4 197.1 705.6T195.6 703.0M136.5 677.6Q133.7 678.7 130.7 678.6T127.9 679.7 125.1 678.8 122.1 679.3 119.6 677.7 118.2 675.0" stroke="#ff3c26" stroke-width="0.9" stroke-opacity="0.8" fill="none"/><path d="M166.1 687.7Q168.8 689.1 171.1 691.0M192.7 683.2Q192.8 686.2 191.0 688.7T191.7 691.6 191.6 694.6 189.3 696.5 186.4 697.2M122.6 626.0Q121.1 628.5 118.9 630.6T119.7 633.5 120.1 636.5M152.4 658.8Q149.6 659.8 148.2 662.4T146.1 664.5 143.3 665.8 140.8 667.4M164.7 718.9Q167.5 717.8 168.6 715.0T169.3 712.0 170.7 709.4 173.6 708.9M174.9 709.0Q172.0 710.0 169.0 709.7T166.4 708.3 163.4 707.9 160.8 706.4M170.4 686.8Q172.9 688.3 175.0 690.4T176.3 693.1M142.9 660.6Q143.1 657.6 144.2 654.8T146.6 652.9 149.1 651.4 151.8 650.1M129.2 669.8Q126.5 668.4 123.5 668.4T120.6 667.5M159.4 716.8Q162.0 715.3 163.4 712.6T165.1 710.2 164.9 707.2" stroke="#ff3c26" stroke-width="1.0" stroke-opacity="0.3" fill="none"/><path d="M202.3 727.1Q199.4 727.6 196.6 726.6T193.9 725.2 191.0 726.0 188.1 726.6 185.5 728.2 183.1 730.0M138.0 648.9Q138.5 651.8 139.6 654.6T139.6 657.6 139.5 660.6 139.7 663.6M147.4 686.6Q144.9 688.2 142.6 690.2T140.7 692.4 138.0 693.9 135.0 693.6M131.6 656.7Q134.6 656.7 137.5 657.2M127.1 627.4Q124.2 628.1 121.6 626.7T119.0 625.2M139.0 667.2Q140.5 669.9 142.7 672.0T144.4 674.4 146.0 677.0 148.4 678.7 151.3 679.6M180.6 738.7Q183.6 739.1 186.5 739.8T188.9 737.9 191.4 736.4M128.8 657.9Q131.7 658.7 134.6 659.5T137.0 661.3 138.1 664.1M157.5 686.3Q157.9 689.2 160.9 688.8T162.8 686.5 165.7 686.0 168.7 686.4M177.5 687.9Q180.4 688.6 183.4 689.1T186.3 689.9 189.1 690.7 191.0 688.4 191.3 685.4M188.2 719.0Q189.9 721.5 190.6 724.4T191.9 727.1 193.4 729.7 195.5 731.9 197.4 734.2 200.3 735.1M128.6 659.9Q129.9 662.6 130.7 665.5T131.8 668.3 130.0 670.7 130.2 673.7 129.8 676.6 128.2 679.2M154.8 667.4Q152.1 666.1 151.4 663.2T152.5 660.4 155.1 658.9 157.2 656.7" stroke="#ff3c26" stroke-width="1.0" stroke-opacity="0.4" fill="none"/><path d="M124.8 654.2Q123.5 656.9 123.5 659.9T124.8 662.6 126.1 665.3M157.2 693.8Q158.7 691.2 159.9 688.5T159.8 685.5 159.3 682.5M114.4 670.4Q115.5 673.2 116.6 676.0T119.5 675.2M172.6 683.8Q175.6 683.9 178.6 684.3T181.4 685.2 184.3 684.4M171.4 704.6Q174.1 703.3 176.9 702.2T178.6 699.8 178.8 696.8 180.1 694.1 179.4 691.2 178.4 688.4M180.1 697.6Q178.0 699.7 175.6 701.4M142.1 615.9Q139.7 617.7 137.0 619.0T134.1 619.8M155.2 705.5Q152.5 704.1 150.6 701.8M164.0 704.5Q165.4 701.9 164.3 699.1T165.0 696.2 166.0 693.4 166.7 690.5 166.7 687.5 168.4 684.9M151.9 661.0Q154.8 660.1 157.5 658.9T159.5 656.6 161.0 654.0 163.4 652.3 166.4 651.7 169.3 650.9M193.1 664.8Q192.0 662.0 191.6 659.0T192.1 656.1 192.5 653.1 192.9 650.2 194.4 647.5 195.7 644.8M125.4 658.8Q124.4 655.9 124.6 652.9T126.7 650.8M134.5 638.8Q135.3 641.7 136.0 644.6T136.9 647.5M154.1 633.9Q156.5 632.1 158.4 629.8T160.8 628.0M113.1 674.0Q110.9 672.0 109.5 669.4T107.9 666.9 107.6 663.9 105.4 661.8 103.2 659.7 102.1 657.0M131.4 636.0Q134.4 636.1 136.7 638.0T137.6 640.9" stroke="#ff3c26" stroke-width="1.0" stroke-opacity="0.5" fill="none"/><path d="M154.3 670.3Q154.4 667.3 155.5 664.5T154.2 661.8 153.0 659.1 152.3 656.1 151.9 653.2M152.5 679.8Q155.4 679.1 157.8 680.8T160.8 681.3 163.7 682.3 165.8 684.4 168.6 685.5 171.0 687.2M136.3 649.3Q139.3 649.4 141.7 651.2T143.9 653.3 145.9 655.5 146.5 658.4M169.2 726.5Q170.0 729.4 171.4 732.1T172.7 734.8 175.1 736.6 176.7 739.1 176.5 742.1 174.2 744.0M129.8 675.4Q132.0 677.5 133.5 680.1T135.3 682.5 136.8 685.1 139.1 687.0 141.7 688.5 143.2 691.1M161.1 664.8Q160.8 661.9 160.5 658.9T161.5 656.1 163.9 654.3 166.9 654.3M107.7 620.2Q106.3 617.6 104.0 615.6T101.0 615.2 98.0 614.9 95.0 615.2 92.4 616.6M161.3 745.2Q158.4 744.7 155.9 743.0M115.4 605.0Q112.4 604.7 109.5 604.0T106.5 604.3 103.6 605.2M115.3 604.0Q114.5 606.9 115.5 609.7T116.4 612.6 114.9 615.1M160.5 682.1Q163.5 682.1 166.1 680.6M139.4 659.5Q142.0 657.8 144.9 658.2T147.6 659.5 150.6 658.9 153.4 658.0 156.4 657.8 159.4 658.2M172.0 713.9Q170.2 711.5 168.0 709.4M174.2 668.4Q176.5 670.4 179.3 669.6" stroke="#ff3c26" stroke-width="1.0" stroke-opacity="0.6" fill="none"/><path d="M198.6 723.0Q201.5 722.3 204.4 721.7T207.4 722.0 210.2 723.1M149.6 639.5Q151.5 637.2 153.2 634.7T153.7 631.8 154.3 628.8M177.8 688.9Q180.5 687.7 183.5 687.3T186.2 688.6 189.2 689.2 192.2 688.8 195.1 688.3 197.2 686.2M153.3 644.9Q152.5 642.0 151.5 639.2M135.7 678.0Q135.9 675.0 137.6 672.5T139.3 670.1 138.8 667.1 138.4 664.2 138.6 661.2 140.1 658.6M166.2 708.0Q164.1 705.8 161.3 704.9T158.3 705.0 157.0 702.2 156.5 699.3 157.2 696.4M122.6 640.0Q120.1 641.7 119.9 644.6T117.9 646.9M132.7 687.8Q134.8 685.7 136.5 683.2M170.5 693.6Q168.9 691.1 167.4 688.6T164.4 688.0M140.8 672.2Q143.3 673.9 143.9 676.8T146.2 678.8M173.3 690.8Q174.6 693.4 175.7 696.3T177.6 698.5M137.1 658.7Q140.0 658.1 143.0 657.5T145.9 656.7 148.8 657.1M136.9 646.3Q136.1 649.2 135.0 652.0T132.6 653.8" stroke="#ff3c26" stroke-width="1.0" stroke-opacity="0.7" fill="none"/><path d="M104.1 606.4Q107.1 606.3 109.9 605.4T112.8 604.6 115.3 602.9 117.3 600.6 119.8 598.9M134.2 638.4Q136.1 640.8 138.5 642.5M139.0 665.5Q140.8 668.0 141.7 670.8T142.3 673.8M137.0 630.1Q139.6 631.5 142.0 633.4T144.7 634.7 147.7 634.5M140.8 659.3Q143.8 659.1 146.8 659.2T149.7 660.1 152.5 661.1 155.5 661.2M139.6 704.2Q140.5 707.0 140.6 710.0T142.7 712.2 143.5 715.1 142.6 718.0 141.2 720.6M189.7 721.7Q189.4 724.7 188.2 727.5T186.9 730.2 187.5 733.1M148.8 675.9Q150.8 678.1 153.7 679.0T156.6 679.4 159.6 679.9M194.7 686.8Q192.9 684.4 191.5 681.8M145.8 665.4Q142.9 666.3 140.0 665.9T137.5 664.2 135.7 661.8 134.8 658.9 132.9 656.6M175.4 693.2Q173.3 695.3 170.4 696.2T167.9 697.8 166.0 700.1 165.9 703.1 166.2 706.1 165.1 708.9M134.5 627.1Q133.9 624.2 133.7 621.2T132.7 618.4 132.3 615.4 131.0 612.7M152.6 692.9Q150.2 694.7 148.2 697.0" stroke="#ff3c26" stroke-width="1.0" stroke-opacity="0.8" fill="none"/><path d="M126.7 625.9Q124.4 624.0 122.1 622.0T120.4 619.6M134.2 657.0Q136.9 658.4 138.3 661.0T140.0 663.6 140.5 666.5 140.0 669.5 140.4 672.5M180.9 705.7Q177.9 706.3 174.9 706.7T172.0 707.4 169.1 706.9 166.1 706.3 163.2 705.8 160.4 704.6M196.7 724.7Q197.6 727.6 197.5 730.6T197.8 733.5 198.9 736.4 198.7 739.4M139.6 654.3Q141.0 651.7 142.0 648.9T141.5 645.9 140.8 643.0 140.7 640.0 139.5 637.2 137.1 635.4" stroke="#ff3c26" stroke-width="1.1" stroke-opacity="0.3" fill="none"/><path d="M125.5 638.7Q128.5 639.2 131.4 638.5T134.0 637.0M168.4 712.5Q169.8 709.8 170.9 707.0T173.0 704.9 171.5 702.3 173.0 699.7 173.5 696.7 173.3 693.7M138.6 636.5Q138.5 639.5 137.3 642.3T136.1 645.0 134.6 647.6M137.0 661.5Q139.1 659.3 141.6 657.7T144.4 656.4 147.3 657.2 149.8 658.8 152.5 660.2 155.5 660.0M138.7 617.1Q137.1 614.6 136.0 611.8T134.8 609.0 135.0 606.1 134.3 603.2 132.8 600.5M180.1 704.1Q177.3 705.1 174.8 706.8T172.9 709.1 171.6 711.8 168.9 713.1M131.1 654.2Q134.1 654.8 137.1 654.7M196.4 722.7Q196.4 719.7 194.9 717.1T194.6 714.1 196.1 711.5 197.4 708.8 197.0 705.8M203.1 686.0Q200.3 687.0 198.2 689.1T195.8 690.9 192.8 690.7 190.4 688.9 187.4 688.4M168.4 688.9Q168.0 691.8 165.6 693.7T162.7 694.6 159.8 695.1M169.6 719.6Q170.8 716.9 173.7 716.0T176.7 716.4M148.3 662.9Q149.8 660.4 151.1 657.7T152.4 654.9 153.3 652.1 152.8 649.1 150.4 647.3 147.7 646.0M158.0 686.6Q161.0 686.4 163.6 687.9T166.6 688.2 169.5 687.4M113.4 653.7Q113.2 650.7 113.9 647.8T112.7 645.1" stroke="#ff3c26" stroke-width="1.1" stroke-opacity="0.4" fill="none"/><path d="M166.1 708.9Q168.6 707.3 171.5 706.3T174.3 705.4 177.3 705.5 179.9 703.9 182.5 702.4 185.1 700.9M140.7 666.3Q142.8 668.4 143.2 671.4T143.0 674.4 141.1 676.8 139.7 679.4M132.9 600.5Q135.9 600.4 138.6 601.6T140.7 603.7 143.6 604.3 146.6 604.4 149.6 603.9 152.5 604.8M205.1 736.9Q203.7 734.2 202.0 731.8T201.9 728.8M117.0 640.4Q114.1 641.3 111.5 639.8T109.8 637.3 109.0 634.4 108.3 631.5 107.4 628.7 109.2 626.3M162.4 682.4Q164.0 685.0 166.2 687.0T169.0 688.3 170.4 690.9 172.7 692.9M170.8 684.6Q173.7 683.7 175.9 681.7T175.6 678.7 173.6 676.4 174.7 673.7M134.3 627.8Q135.1 624.9 135.4 621.9M180.1 671.1Q179.5 668.2 179.8 665.2T180.3 662.3 181.3 659.4 181.8 656.5M172.2 666.0Q175.1 665.1 178.0 664.4T181.0 664.6 183.8 663.5 184.6 660.6M121.4 672.0Q121.6 675.0 122.5 677.9T121.4 680.7 119.7 683.2 116.7 683.6 113.8 683.4 110.8 683.4M142.9 655.7Q141.0 653.4 138.2 652.1T135.9 650.2M157.9 690.7Q160.3 692.5 162.9 693.9T164.3 696.6 166.0 699.0M140.6 628.6Q143.4 629.7 146.4 629.6T149.4 629.8 150.2 632.7 151.7 635.3 150.2 637.9 147.5 639.2M125.7 634.0Q127.0 631.3 128.4 628.7T129.9 626.0M122.7 658.4Q125.4 657.1 126.2 654.2T128.0 651.8 129.9 649.5 131.4 646.9M133.9 651.4Q136.3 653.3 137.3 656.1T137.3 659.1" stroke="#ff3c26" stroke-width="1.1" stroke-opacity="0.5" fill="none"/><path d="M133.0 639.7Q130.1 640.1 127.2 639.3T124.2 639.3 121.4 640.4 119.2 642.4 118.7 645.4M186.1 730.8Q188.5 729.0 191.1 727.4T193.4 725.5 192.7 722.6 191.7 719.8 191.5 716.8M134.0 663.4Q133.1 666.2 131.4 668.7T130.9 671.6 131.1 674.6 131.1 677.6 131.3 680.6M127.1 660.1Q129.0 662.4 130.0 665.2T132.6 666.8 134.6 669.0 135.5 671.9 134.6 674.7M123.4 710.8Q125.8 709.2 128.2 707.3T128.4 704.3 127.6 701.5 125.9 699.0 125.9 696.0M157.0 667.0Q157.9 669.8 159.0 672.6M144.3 668.1Q141.5 669.3 138.6 670.1M186.7 715.4Q188.7 713.2 190.2 710.6T192.5 708.7 195.0 707.1 196.8 704.7 199.3 703.0M158.7 703.3Q160.1 706.0 159.6 708.9M142.7 642.9Q145.4 644.1 147.1 646.6T149.5 648.4 151.0 651.0 151.9 653.8 152.8 656.7M130.8 634.1Q127.9 633.3 126.3 630.8T128.7 628.9M150.7 695.1Q151.6 692.2 153.2 689.7T155.3 687.5" stroke="#ff3c26" stroke-width="1.1" stroke-opacity="0.6" fill="none"/><path d="M141.2 619.7Q138.8 618.0 138.2 615.0T138.2 612.0 138.2 609.0M184.7 720.3Q185.3 723.3 185.4 726.3T185.4 729.3M189.3 714.7Q191.9 716.2 194.1 718.2T196.4 720.2M133.2 664.3Q135.9 665.6 137.2 668.3M174.4 737.2Q172.6 734.9 170.1 733.2T167.1 733.8 165.0 735.9 163.3 738.3 160.7 739.9M187.6 734.6Q189.4 737.0 192.3 737.8T194.8 739.4 197.6 740.5 200.3 741.9M136.3 678.9Q134.7 676.3 134.9 673.3T135.0 670.3 134.3 667.4 135.3 664.6" stroke="#ff3c26" stroke-width="1.1" stroke-opacity="0.7" fill="none"/><path d="M143.7 682.9Q140.8 683.5 138.3 685.2T136.3 687.4 133.3 687.9 130.7 686.4 129.2 683.8M165.9 659.1Q166.0 656.1 167.4 653.4T170.3 652.6 173.3 652.9 176.2 652.1 179.1 651.5M161.8 664.2Q164.6 665.2 167.0 667.0T169.8 668.2 172.5 666.8 175.2 665.6 178.1 664.7 181.0 665.5M168.4 719.8Q170.2 717.4 172.2 715.1M117.4 626.1Q119.6 628.2 121.3 630.6T120.8 633.5 120.4 636.5 121.2 639.4M133.3 671.2Q130.7 669.8 128.1 668.2T125.7 666.5 124.4 663.8 121.4 663.7 118.4 663.8M153.7 656.4Q151.1 657.8 148.1 657.8T145.1 657.8 142.2 658.5 139.3 659.1 137.1 661.2 134.3 662.0M144.2 681.7Q147.2 682.2 150.0 681.2T152.9 681.8 154.9 684.1" stroke="#ff3c26" stroke-width="1.1" stroke-opacity="0.8" fill="none"/><path d="M145.8 683.1Q143.6 681.0 141.5 679.0T139.8 676.5 136.9 675.7 134.0 676.6 131.2 677.4M117.3 621.0Q116.6 623.9 116.8 626.9T118.0 629.6 119.1 632.4 118.7 635.4 118.6 638.4M194.3 689.8Q195.9 687.3 195.9 684.3T195.6 681.3 196.2 678.4M121.2 663.7Q121.6 660.8 120.6 658.0T122.5 655.7 122.0 652.7M206.8 737.4Q206.1 740.4 207.7 742.9T208.4 745.8 208.1 748.8 208.2 751.8 210.9 753.2M213.0 697.9Q210.5 696.3 208.2 694.3T206.1 692.2 203.4 690.9 200.5 690.0 197.7 689.1M199.1 738.9Q196.4 740.1 193.4 740.6" stroke="#ff3c26" stroke-width="1.2" stroke-opacity="0.3" fill="none"/><path d="M168.2 628.6Q170.5 630.4 171.7 633.2M164.5 665.4Q164.8 662.4 164.0 659.5T163.3 656.6 162.2 653.8M159.5 705.3Q158.9 702.4 157.3 699.8T155.4 697.5 154.1 694.8 153.9 691.8 152.1 689.4M128.3 619.2Q126.3 616.9 123.3 617.3T120.5 618.5M117.4 664.5Q118.2 661.6 120.0 659.3T121.3 656.5 122.3 653.7M190.5 706.9Q187.9 708.5 187.2 711.4M192.2 710.8Q189.2 710.7 186.5 711.9T185.1 714.6 184.3 717.5 184.6 720.5 183.0 723.0 181.8 725.7M123.6 675.0Q125.7 672.9 128.1 671.1T130.2 669.0 133.0 668.0M185.3 676.0Q186.5 673.2 188.8 671.4T189.5 668.5M171.4 703.1Q173.2 700.8 175.9 699.4M148.3 656.6Q147.3 659.4 145.4 661.7T145.2 664.7 146.4 667.5 148.8 669.2M155.9 667.1Q153.0 667.7 150.2 666.6T147.5 665.4M203.3 720.4Q203.8 717.4 204.1 714.5T205.2 711.6 206.4 708.9 209.1 707.6" stroke="#ff3c26" stroke-width="1.2" stroke-opacity="0.4" fill="none"/><path d="M167.5 714.6Q168.2 717.6 168.5 720.5T170.6 722.7 170.9 725.7 171.2 728.7M186.4 712.6Q189.3 711.8 192.2 711.2M152.8 631.1Q149.8 631.0 146.9 630.8T144.0 631.7M167.2 714.6Q164.5 716.0 162.7 718.4M181.8 715.8Q182.7 718.7 182.2 721.6T180.3 724.0 178.5 726.4M131.2 652.1Q128.3 652.8 126.5 655.2T123.5 655.5 120.5 655.9 117.6 656.6 114.9 657.7 112.2 659.1M194.4 689.3Q197.4 689.2 200.4 689.3T203.2 690.4M205.7 707.4Q208.3 705.9 211.3 705.9T214.3 706.0 217.2 706.7 220.1 707.5 222.8 708.7M128.6 664.4Q126.8 666.7 125.7 669.5T124.6 672.3M174.7 638.9Q173.1 641.4 170.4 642.8T167.6 643.7 165.0 645.3 162.1 645.9 159.1 646.5M173.2 689.4Q173.2 686.4 175.9 685.0T178.3 683.3 179.6 680.6 181.2 678.0 182.8 675.5 181.8 672.6M159.6 694.0Q161.1 691.4 161.9 688.5M196.4 732.8Q193.7 734.2 192.6 737.0T192.3 740.0 194.6 741.9 195.3 744.8 193.3 747.0M173.4 722.3Q174.3 725.2 175.5 728.0T178.4 728.4 181.4 728.6M199.2 727.9Q202.1 728.7 204.8 729.9T207.6 731.1 210.4 730.2 212.9 728.6" stroke="#ff3c26" stroke-width="1.2" stroke-opacity="0.5" fill="none"/><path d="M179.6 722.3Q182.4 723.3 185.3 724.1T188.2 723.5 190.8 725.1 193.7 724.3M147.2 680.6Q150.2 680.4 153.2 680.2T155.9 681.5 158.9 681.7 161.6 680.3M195.3 715.6Q195.8 718.5 194.7 721.3T193.2 723.9 191.6 726.4 190.2 729.1 187.5 730.4M201.8 703.9Q199.4 705.7 196.5 706.6T193.6 707.4 191.6 709.6 190.5 712.4 190.0 715.4M132.1 664.0Q134.2 661.9 137.2 662.0T140.2 661.7 143.1 662.2 145.4 664.2 148.2 665.2M136.2 633.4Q139.0 632.3 141.9 631.5T144.7 632.6 147.2 634.1M129.9 648.7Q128.4 651.3 129.0 654.2T128.9 657.2 127.7 660.0 127.1 662.9M173.4 719.3Q170.6 718.4 168.1 716.6T165.1 716.4 162.1 716.7 159.3 715.7 157.0 713.8 154.2 712.7M121.3 653.9Q122.1 651.1 122.4 648.1T122.8 645.1 123.7 642.2M136.2 665.5Q133.2 665.9 130.9 667.8T128.2 669.2 125.6 670.7 123.0 672.2 121.8 674.9 119.0 676.1M194.9 707.2Q197.9 707.1 200.4 708.7T202.6 710.8 205.4 711.7 207.2 714.2M182.5 705.8Q181.6 708.7 179.7 711.0T177.5 713.1 175.6 715.4 174.7 718.3 172.8 720.5 171.3 723.1M143.9 669.2Q142.1 671.6 139.9 673.6T137.1 674.6 134.3 675.8M202.3 733.2Q201.6 736.1 198.7 736.5T195.7 736.9 192.8 737.7 189.8 737.8 187.0 736.8M161.7 669.4Q160.0 671.8 159.4 674.8T157.2 676.8 155.8 679.5 153.0 680.5M141.0 654.6Q139.4 652.1 136.9 650.4T134.9 648.1 132.1 647.0 130.9 644.3 130.2 641.4 128.2 639.2M214.6 722.4Q215.5 719.6 216.1 716.6" stroke="#ff3c26" stroke-width="1.2" stroke-opacity="0.6" fill="none"/><path d="M132.8 633.6Q134.3 631.0 134.6 628.0T136.6 625.8M159.1 665.5Q156.1 665.4 153.3 666.7T151.9 669.3 151.0 672.2 149.2 674.6 147.9 677.2 145.3 678.8M169.7 710.9Q170.0 707.9 168.6 705.2T167.9 702.3 167.9 699.3 167.8 696.3M131.4 602.0Q128.7 603.3 125.9 604.3M186.4 704.1Q189.4 704.6 191.7 706.5M144.6 658.9Q147.3 657.5 149.7 655.8T151.8 653.7 153.2 651.0 154.4 648.3 155.8 645.6 156.2 642.6M152.7 658.9Q155.6 659.9 158.5 659.8T161.4 659.0 164.4 658.6 167.4 658.5 170.4 658.2 173.3 657.6M222.7 717.2Q222.3 714.3 222.0 711.3T221.8 708.3 220.7 705.5 219.2 702.9 217.1 700.8 215.2 698.5" stroke="#ff3c26" stroke-width="1.2" stroke-opacity="0.7" fill="none"/><path d="M97.0 639.0Q94.9 636.8 94.0 633.9M169.6 704.6Q172.4 705.5 175.2 704.4T178.1 705.2 181.1 705.4 184.1 706.0 187.0 706.8M120.1 645.4Q123.0 645.6 126.0 645.8T129.0 646.2 131.6 644.7 134.2 643.2 136.2 641.0M126.6 622.0Q126.0 625.0 128.2 627.1M158.9 695.1Q157.8 697.9 158.3 700.8T159.0 703.8 157.5 706.4 155.4 708.5M124.5 647.8Q122.2 649.6 120.3 652.0T118.3 654.2 117.3 657.1 117.1 660.1M169.0 691.5Q168.9 688.5 168.1 685.6T166.1 683.4 164.7 680.7 162.5 678.7 159.8 677.4M158.0 688.0Q159.3 685.3 161.5 683.4T163.3 680.9 165.9 679.5 168.6 678.1M196.8 695.2Q193.9 696.0 191.0 696.8T188.8 698.8 186.9 701.2 186.6 704.1 184.8 706.6M126.9 634.5Q128.5 631.9 130.8 630.0T133.6 628.8 135.8 626.8M153.0 689.9Q155.1 692.1 152.6 693.8T152.5 696.8 152.8 699.8 152.8 702.8 152.5 705.8M192.7 721.8Q195.2 720.1 195.9 717.2T198.4 715.6M185.0 680.2Q183.3 682.7 182.3 685.5T180.6 687.9M141.2 689.5Q139.4 691.9 136.4 692.1T133.5 692.7 130.9 694.3 128.4 696.0 126.6 698.4 124.2 700.2M187.3 728.0Q185.4 730.3 182.5 730.8T179.7 729.7 177.7 727.4 175.3 725.5 172.4 726.2 170.1 728.1M183.4 726.5Q186.3 725.9 187.6 723.1T187.7 720.1M167.3 645.0Q164.5 643.9 161.5 643.7T158.5 643.4 155.5 643.6 152.6 644.3 149.6 644.7 146.6 644.7" stroke="#ff3c26" stroke-width="1.2" stroke-opacity="0.8" fill="none"/><path d="M103.7 636.5Q103.7 639.5 101.7 641.8T101.1 644.7 102.4 647.4 103.5 650.2M193.6 740.2Q191.8 742.6 189.3 744.3T186.7 745.8 185.9 748.7 185.2 751.6 185.2 754.6 183.7 757.2M135.6 640.6Q137.2 643.1 138.6 645.8T140.4 648.1 143.2 649.2 146.0 648.1M201.8 731.3Q202.5 728.4 204.3 726.0M156.9 677.3Q159.2 679.3 161.9 680.5T163.3 683.2 162.7 686.1 161.2 688.7 158.6 690.2 156.8 692.6M115.9 635.9Q113.4 634.3 111.0 632.4T109.1 630.1 106.3 628.9M169.0 699.3Q171.2 701.4 173.0 703.8T172.0 706.6 171.7 709.6M198.7 697.3Q198.6 700.3 199.6 703.1T200.8 705.9 201.9 708.6 201.5 711.6 201.2 714.6 201.2 717.6M188.6 735.0Q185.7 734.3 183.4 736.3M138.5 676.7Q139.0 679.7 139.2 682.6T140.5 685.4M139.0 676.7Q141.2 674.8 143.0 672.3T145.1 670.2 148.1 670.0 150.6 671.6M146.0 633.2Q143.6 635.0 140.7 635.6T137.7 636.0 134.9 635.0 131.9 635.1" stroke="#ff3c26" stroke-width="1.3" stroke-opacity="0.3" fill="none"/><path d="M179.3 673.6Q177.5 675.9 174.6 676.4T171.9 675.0 169.5 673.3 169.4 670.3 170.2 667.4 171.5 664.7M162.6 740.0Q164.6 742.3 166.8 744.3T167.8 747.1 170.5 748.4 173.5 748.1 175.9 746.4M136.5 638.7Q139.5 639.0 142.5 639.4T145.3 640.6 148.2 641.3 150.8 642.7 153.4 641.2 156.4 640.9M161.5 720.4Q159.1 722.2 156.3 723.3T153.3 722.9 150.3 722.9 148.0 724.7 145.8 726.8M175.5 663.4Q172.9 664.9 170.0 665.6T167.1 666.5 164.5 668.0M149.4 662.5Q152.4 662.9 153.3 665.8T154.2 668.6 155.9 671.1 157.4 673.7 158.5 676.5 159.8 679.2M121.7 603.5Q121.1 606.4 119.4 608.9T119.9 611.8 120.7 614.7 121.2 617.7 120.4 620.5 121.0 623.5M141.8 656.4Q142.9 659.2 144.4 661.8M173.9 675.1Q176.8 674.9 179.6 676.0T182.5 676.9M151.1 615.0Q150.3 617.8 148.5 620.2T147.6 623.1M133.5 665.6Q136.0 663.9 137.0 661.1T138.0 658.2 139.2 655.5 141.5 653.6M200.4 713.1Q203.3 713.8 206.3 714.3T209.0 713.0M157.3 681.7Q158.0 684.6 158.7 687.5T161.0 689.4 163.3 691.4 166.1 692.4M163.2 696.2Q164.7 698.8 166.3 701.3T166.8 704.2 167.3 707.2 165.3 709.5 162.5 710.4M111.1 649.1Q112.4 651.8 113.7 654.5T115.2 657.1 116.7 659.7 117.7 662.5M136.6 677.0Q139.5 677.7 142.5 678.1M168.3 695.4Q169.9 698.0 172.9 697.7T175.8 696.9 178.3 698.5 178.8 701.5 179.2 704.5 180.5 707.2M197.2 709.3Q194.3 708.9 191.3 708.6T189.0 706.6 186.1 705.8 183.6 704.3 180.6 704.4M184.6 705.8Q183.6 702.9 184.5 700.1T184.7 697.1M149.6 671.8Q148.4 669.0 146.0 667.3T145.2 664.4 143.2 662.1 141.1 660.0 138.7 658.2M184.3 708.2Q182.7 710.7 182.0 713.7T181.3 716.6 179.3 718.8 176.7 720.3 173.7 720.3" stroke="#ff3c26" stroke-width="1.3" stroke-opacity="0.4" fill="none"/><path d="M134.4 641.8Q133.6 644.7 132.1 647.3T129.9 649.3M191.3 744.3Q188.7 745.9 188.0 748.8T188.4 751.8 188.5 754.8 189.4 757.7M162.8 714.2Q163.4 717.2 163.3 720.2M180.7 721.4Q178.2 723.1 177.2 725.9T178.0 728.8 178.1 731.8 179.5 734.5 181.2 737.0M152.7 656.3Q152.0 659.2 151.8 662.2T151.8 665.2 151.1 668.2 149.0 670.3 146.2 671.4 143.5 672.6M188.3 719.4Q189.9 721.9 192.0 724.1M112.2 641.7Q113.7 644.3 115.6 646.7T118.3 647.9 119.6 650.6 120.5 653.5 121.2 656.4M150.8 700.7Q153.7 701.4 156.7 701.1T159.3 702.4 162.3 703.0" stroke="#ff3c26" stroke-width="1.3" stroke-opacity="0.5" fill="none"/><path d="M139.6 658.4Q136.7 659.1 134.8 661.4M135.5 682.3Q133.3 680.2 130.6 678.9T127.6 679.0 124.7 678.4M194.5 710.8Q191.9 712.4 189.0 713.3M151.7 649.5Q151.2 646.6 151.3 643.6T151.8 640.6M127.3 643.2Q129.7 641.4 132.5 640.2T135.4 639.7M160.6 705.5Q163.4 704.4 166.4 704.0T169.0 702.4" stroke="#ff3c26" stroke-width="1.3" stroke-opacity="0.6" fill="none"/><path d="M143.3 681.1Q144.0 678.1 145.1 675.4M138.7 683.1Q136.2 684.8 136.9 687.7T136.0 690.6M147.7 617.2Q147.5 620.2 144.9 621.7T141.9 621.5 138.9 620.8 135.9 620.8M162.1 694.4Q163.9 692.0 165.5 689.5T164.9 686.5 165.0 683.5 165.3 680.5 166.3 677.7 167.9 675.2M179.8 692.7Q180.3 695.7 179.7 698.6T178.5 701.4M135.5 654.5Q132.5 654.1 129.5 654.4T126.6 655.1 123.7 654.8 122.1 652.3M136.7 657.3Q138.4 659.7 141.0 661.2T143.5 662.9 146.1 664.4M150.3 669.1Q151.1 672.0 153.7 673.5T156.5 674.4M172.1 710.8Q173.5 708.1 173.9 705.2T176.0 703.0 176.9 700.1 175.5 697.5 174.3 694.7M185.0 714.5Q182.4 716.1 180.3 718.1T177.6 719.6 175.2 717.8M151.9 710.5Q151.2 707.6 150.6 704.6T150.6 701.6 150.9 698.7 151.5 695.7M129.7 625.2Q127.0 623.8 124.1 623.0T121.6 621.4 118.7 620.4 115.8 621.1 112.9 620.4 110.9 618.2M129.1 642.5Q130.9 644.9 130.7 647.9T131.4 650.9 130.6 653.8 128.8 656.2 126.1 657.5 123.3 656.4M182.2 740.9Q182.7 738.0 183.2 735.0T184.3 732.2" stroke="#ff3c26" stroke-width="1.3" stroke-opacity="0.7" fill="none"/><path d="M183.3 706.3Q182.8 709.3 183.8 712.1M144.6 638.8Q145.0 635.8 143.8 633.1T145.7 630.7M135.9 690.5Q133.1 691.5 131.0 693.6T129.9 696.4 130.2 699.4M125.0 622.7Q128.0 622.2 130.2 620.2T132.6 618.4 134.6 616.2 135.1 613.2M152.7 639.5Q149.8 639.3 147.0 640.6T144.1 641.2 141.4 642.5M197.7 700.0Q195.2 701.7 193.9 704.4T193.7 707.3 191.8 709.7M199.9 735.0Q196.9 734.6 194.3 736.0T191.7 737.6M111.7 651.9Q111.0 648.9 108.6 647.1T108.2 644.1 107.9 641.1 107.9 638.1 105.5 636.4 103.0 634.8" stroke="#ff3c26" stroke-width="1.3" stroke-opacity="0.8" fill="none"/><path d="M195.3 717.0Q193.4 719.4 191.4 721.6T188.8 723.0 185.9 723.8 182.9 724.2 180.0 723.5 177.0 722.9" stroke="#ff3c26" stroke-width="1.4" stroke-opacity="0.3" fill="none"/><path d="M104.8 636.5Q102.3 634.8 99.6 633.4T96.7 632.7 93.8 633.0 91.4 634.9 90.4 637.7 90.1 640.7M122.9 678.5Q123.2 675.5 124.0 672.6T127.0 672.3 129.9 673.0 132.7 674.1" stroke="#ff3c26" stroke-width="1.4" stroke-opacity="0.4" fill="none"/><path d="M110.0 661.4Q109.4 664.3 109.6 667.3M156.5 700.7Q155.7 697.8 154.6 695.0T154.8 692.0 155.7 689.1 156.5 686.2 157.8 683.5 155.3 681.9M154.8 671.3Q151.8 671.2 150.0 673.6T148.0 675.8 146.5 678.4 145.2 681.1 143.9 683.8M153.7 671.2Q154.8 674.0 157.1 675.8T158.2 678.7 158.7 681.6 161.5 682.5M167.0 646.6Q169.9 645.8 172.2 643.8T173.9 641.4M167.0 691.9Q164.0 691.9 161.4 690.5T159.0 688.7 157.0 686.4M136.5 654.0Q139.5 653.8 142.4 653.2T145.4 653.6 147.6 655.6 150.6 656.0 153.2 654.5 154.6 651.9M166.6 678.4Q168.8 680.5 171.5 681.8T174.1 683.2 175.8 680.7 173.9 678.3M171.1 726.5Q172.0 723.6 174.2 721.6T175.8 719.1 178.4 717.5" stroke="#ff3c26" stroke-width="1.4" stroke-opacity="0.5" fill="none"/><path d="M153.3 673.4Q155.0 670.9 157.8 669.9M120.9 658.2Q123.6 659.6 124.9 662.3T126.5 664.8 128.8 666.8 130.0 669.5 131.0 672.3M169.5 702.6Q172.5 703.1 173.9 705.7T175.2 708.4M169.6 655.3Q172.6 654.6 175.1 652.9T178.0 652.2 181.0 652.2 184.0 652.1M165.8 673.0Q165.4 676.0 166.9 678.6T166.7 681.6 165.4 684.2 164.4 687.1M194.9 709.8Q193.3 707.3 191.2 705.1T189.3 702.7M175.6 689.1Q172.8 690.2 170.4 691.9T167.8 693.5 165.3 695.1 163.2 697.3 161.3 699.6 159.7 702.1M147.2 657.7Q149.6 659.6 152.4 660.6M149.4 671.6Q152.1 670.1 155.1 670.1T158.1 669.9 161.0 670.6 163.9 669.9 166.8 670.7 166.6 673.7" stroke="#ff3c26" stroke-width="1.4" stroke-opacity="0.6" fill="none"/><path d="M164.1 702.9Q162.9 705.7 163.2 708.7T161.0 710.8M174.7 735.9Q177.3 734.3 179.2 732.0T180.8 729.5 182.6 727.0M132.7 657.5Q130.0 656.2 129.0 653.4T129.0 650.4 129.5 647.4 128.1 644.8 126.4 642.3 126.1 639.4M182.1 690.7Q183.9 693.2 186.4 694.8T187.9 697.4 187.5 700.4M146.1 667.3Q149.1 667.3 151.8 666.0T154.7 665.2 157.3 663.7M172.0 731.5Q174.1 733.5 176.7 735.0" stroke="#ff3c26" stroke-width="1.4" stroke-opacity="0.7" fill="none"/><path d="M138.4 671.6Q138.2 674.6 137.8 677.5T136.2 680.0 138.0 682.4 137.1 685.3 136.6 688.2" stroke="#ff3c26" stroke-width="1.4" stroke-opacity="0.8" fill="none"/>
<path d="M166.2 582.2Q168.0 584.6 170.6 586.0T172.8 588.1 174.1 590.8 176.9 591.9 179.8 591.4M136.5 606.3Q133.8 607.5 130.9 608.3" stroke="#ff3c26" stroke-width="0.8" stroke-opacity="0.3" fill="none"/><path d="M124.2 618.5Q126.5 616.6 129.3 615.5T131.8 613.9 133.2 611.2 135.0 608.8 136.3 606.1 138.4 604.0M172.6 606.2Q170.8 603.8 169.9 601.0T170.3 598.0 170.7 595.0 170.4 592.1 171.6 589.3M145.2 630.1Q146.6 632.8 148.4 635.1T150.8 637.0 153.8 637.1 156.3 638.8 157.5 641.5 158.7 644.3M94.2 632.5Q91.6 633.9 88.6 633.7T86.0 635.2M148.1 596.2Q145.1 596.4 142.2 595.6M125.8 624.6Q124.0 622.3 121.3 620.9M98.8 639.4Q98.9 636.4 98.7 633.4T100.6 631.0 103.2 629.6 106.2 629.4 108.7 631.0" stroke="#ff3c26" stroke-width="0.8" stroke-opacity="0.4" fill="none"/><path d="M129.1 624.7Q131.9 625.6 134.9 625.2T137.7 624.2 140.7 624.9 143.4 626.2 145.8 628.0 148.4 629.4M153.0 625.0Q156.0 624.7 158.8 625.8T161.8 625.9 164.5 624.8M193.6 624.7Q192.0 627.2 191.3 630.1T192.2 633.0M163.9 633.1Q161.1 632.1 159.0 629.9T157.0 627.7 154.9 625.6 154.4 622.6M160.5 618.1Q160.8 621.1 160.5 624.1T159.2 626.8 157.0 628.8 154.6 630.7M122.2 615.5Q119.2 615.4 116.8 617.2T114.0 618.3 111.9 620.3 111.9 623.3 112.8 626.2 113.0 629.2M152.2 626.8Q151.8 623.8 150.7 621.1T148.1 619.7 145.4 618.2M159.8 632.4Q158.2 629.8 157.0 627.1T154.8 625.0 153.4 622.4M157.8 629.9Q156.2 632.4 153.2 632.9T150.5 631.7" stroke="#ff3c26" stroke-width="0.8" stroke-opacity="0.5" fill="none"/><path d="M125.9 626.6Q122.9 627.3 120.1 628.2T117.1 628.2 114.1 628.4 111.1 628.4 108.3 629.6 105.4 630.3M130.1 638.1Q129.3 641.0 128.8 644.0T129.8 646.8M180.7 606.3Q178.0 605.1 175.7 603.2M120.2 593.6Q119.2 596.4 120.0 599.3T122.1 601.5 123.3 604.3 124.1 607.2 124.5 610.1 125.2 613.1M169.3 610.1Q168.0 612.8 167.6 615.8T168.6 618.7 169.4 621.6 170.4 624.4 169.9 627.3M104.7 622.8Q107.6 623.6 110.2 625.1T113.2 624.7 114.2 621.9 115.1 619.0" stroke="#ff3c26" stroke-width="0.8" stroke-opacity="0.6" fill="none"/><path d="M157.3 627.9Q159.6 626.0 162.1 624.3T163.3 621.6 165.1 619.2 167.2 617.1M153.4 615.7Q155.4 613.5 158.1 612.3" stroke="#ff3c26" stroke-width="0.8" stroke-opacity="0.7" fill="none"/><path d="M176.2 625.7Q178.9 624.3 181.7 625.2T184.7 625.1M155.2 625.8Q157.6 627.6 160.2 629.1T162.4 627.0M150.8 592.7Q149.2 590.2 147.8 587.6T146.4 584.9 145.6 582.0 143.9 579.6 143.1 576.7M122.8 615.4Q125.2 617.1 128.2 617.0T131.2 617.2" stroke="#ff3c26" stroke-width="0.9" stroke-opacity="0.3" fill="none"/><path d="M157.1 604.5Q157.1 607.5 155.6 610.1T154.0 612.6M98.3 643.2Q96.1 645.2 94.3 647.6T93.2 650.4 94.6 653.0 97.0 654.8 99.5 656.5 101.0 659.1M120.5 631.7Q117.7 632.8 114.8 633.2T112.3 634.8 110.8 637.5 110.1 640.4 109.5 643.3 108.4 646.1M123.5 628.3Q120.5 628.6 117.8 630.0T115.5 631.9M122.2 637.7Q120.0 639.7 117.2 640.8T114.4 641.9M160.4 590.0Q160.8 587.0 161.5 584.1M164.0 590.0Q161.0 590.4 158.8 588.3T157.2 585.8 154.8 584.0 152.1 582.7M133.7 655.3Q130.7 655.2 128.2 653.6M183.3 577.7Q186.2 577.2 189.1 578.0T191.2 580.2 193.7 581.8 194.2 584.7 195.3 587.5M174.8 613.5Q175.7 616.4 175.6 619.4T177.2 621.9 179.1 624.2 180.3 626.9M182.0 620.6Q182.8 617.7 182.5 614.7T181.3 611.9 180.2 609.1 178.6 606.6 176.6 604.3 173.9 603.0" stroke="#ff3c26" stroke-width="0.9" stroke-opacity="0.4" fill="none"/><path d="M105.5 645.3Q108.4 645.7 111.2 644.5T113.6 642.8 116.3 641.4 119.2 642.3 122.2 642.4M112.6 626.9Q115.3 625.6 118.1 624.3M112.8 629.6Q115.4 628.2 117.3 625.9M149.6 599.7Q152.5 599.2 155.5 599.5M122.6 609.8Q124.7 612.0 127.5 612.9T130.3 611.9 133.2 611.2 135.7 609.5M153.3 612.7Q151.7 610.2 150.0 607.7T147.1 606.9 144.1 606.6 141.7 608.4 141.5 611.4 139.4 613.5M145.9 603.9Q143.5 602.1 140.6 601.4T137.8 600.3 135.9 598.0 134.1 595.5 131.6 593.9 129.0 592.4M147.9 589.8Q150.9 590.1 153.9 590.1T156.7 589.1 159.5 590.2 161.8 592.1M140.1 619.7Q140.0 622.7 139.0 625.6T139.6 628.5 141.1 631.1 140.0 633.9 138.4 636.4M137.7 600.5Q137.4 603.5 137.0 606.5T136.1 609.3 135.5 612.3 133.5 614.5M152.7 627.2Q151.1 629.8 148.5 631.3T146.4 633.4 143.5 634.2 140.7 635.4 137.8 634.6 135.0 635.6" stroke="#ff3c26" stroke-width="0.9" stroke-opacity="0.5" fill="none"/><path d="M140.4 613.6Q143.4 613.8 146.2 614.9T149.2 615.2M139.0 634.5Q137.1 636.8 135.4 639.3T133.4 641.5 133.5 644.5 133.2 647.5M160.0 585.1Q159.3 582.2 159.6 579.3T158.5 576.5 157.1 573.8 154.9 571.8 152.4 570.1 151.4 567.3M163.2 630.6Q165.9 631.9 168.7 632.9T171.7 632.6 174.5 633.7M123.4 636.2Q122.0 638.9 122.1 641.9T123.7 644.4M150.8 626.1Q153.1 628.0 154.2 630.8T156.5 632.7 158.3 635.1M137.0 617.3Q137.3 620.2 137.6 623.2M172.1 583.9Q169.3 582.9 169.4 579.9M128.8 591.0Q126.5 592.9 124.4 595.0T121.7 596.3 120.0 598.8 118.5 601.4M137.1 621.6Q137.1 624.6 136.0 627.3T133.6 629.2 132.0 631.7M154.6 582.1Q157.5 582.7 160.5 582.5T163.1 581.0 165.0 578.6M172.6 598.2Q175.6 598.7 178.5 599.6M102.6 617.3Q105.4 618.3 108.3 619.2T111.3 619.5 114.2 620.0" stroke="#ff3c26" stroke-width="0.9" stroke-opacity="0.6" fill="none"/><path d="M152.7 595.5Q150.7 597.8 147.8 597.0T145.0 595.9 142.6 594.2M89.7 637.4Q91.7 639.6 93.0 642.3M119.4 630.2Q117.2 628.1 116.2 625.3T115.0 622.6 113.1 620.2M129.4 621.6Q129.4 618.6 129.4 615.6T129.6 612.6M117.8 630.1Q115.0 631.1 112.4 632.5T109.7 633.9 106.8 634.0 104.1 635.4 101.3 636.4M153.6 621.7Q151.0 623.2 148.4 624.7T147.6 627.6 146.5 630.4 144.4 632.5 142.2 634.5 140.8 637.1M150.6 620.8Q147.8 619.8 145.3 618.2T142.7 616.7 141.4 614.0 140.1 611.3 139.7 608.3" stroke="#ff3c26" stroke-width="0.9" stroke-opacity="0.7" fill="none"/><path d="M107.5 639.5Q110.4 640.4 113.3 639.7T115.9 638.1M114.5 650.1Q117.5 650.7 120.4 650.3T122.8 648.5 125.0 646.4 128.0 646.0 130.1 644.0M166.1 594.7Q169.1 595.3 172.0 596.0T174.2 598.1 175.7 600.7 177.6 603.0M132.7 610.2Q133.8 607.4 136.6 606.3M170.6 620.2Q168.9 617.7 168.0 614.8T168.6 611.9 168.4 608.9 169.4 606.1M182.8 596.4Q179.8 595.9 177.0 595.0" stroke="#ff3c26" stroke-width="1.0" stroke-opacity="0.3" fill="none"/><path d="M139.0 616.0Q139.5 618.9 139.9 621.9T139.8 624.9 141.2 627.5M167.4 605.0Q169.0 602.5 172.0 601.8T174.6 600.5 177.6 600.0M137.5 628.4Q140.5 628.3 143.4 629.1T146.1 630.4 148.7 631.8 151.6 631.1M124.6 624.6Q123.4 627.4 120.6 628.6T117.7 628.9 115.1 627.5 112.7 625.7 110.5 623.6 107.7 622.4M187.0 616.6Q185.3 619.1 183.7 621.7T182.9 624.6M112.7 634.1Q113.9 636.8 113.7 639.8T111.9 642.2 109.6 644.2 108.8 647.1 107.5 649.8M173.4 590.7Q173.4 593.7 174.9 596.3T176.5 598.8 175.0 601.4 173.3 603.8 171.6 606.3M146.2 617.3Q143.4 616.2 140.5 616.9T138.4 619.0M186.7 596.6Q187.6 599.5 188.4 602.4T190.8 604.0 193.4 605.7 194.5 608.4 195.7 611.2M144.8 638.9Q146.4 636.4 147.3 633.5T149.4 631.4 152.3 630.8 155.2 629.8 157.3 627.7M192.7 606.4Q194.9 608.4 197.7 609.6T200.2 611.2M148.0 632.7Q149.6 635.2 152.5 634.5T155.4 635.3M118.8 626.7Q121.7 625.9 124.6 626.2T127.4 627.3M112.9 631.3Q111.0 633.6 108.1 634.2T105.5 635.7 102.6 636.1 99.6 636.3 96.6 636.5M116.3 636.1Q115.7 633.2 116.0 630.2" stroke="#ff3c26" stroke-width="1.0" stroke-opacity="0.4" fill="none"/><path d="M139.2 606.6Q136.5 607.8 134.4 610.0T131.4 610.3M160.0 623.7Q162.9 623.1 165.9 623.6T168.6 622.4 171.3 621.1 173.3 618.9 176.3 618.2 179.0 619.4M148.0 616.4Q148.2 613.4 148.6 610.4T150.2 607.9 151.6 605.2M148.8 630.9Q145.8 630.5 142.9 631.0M139.2 600.5Q138.9 603.5 141.5 605.0T144.5 605.2 147.5 604.9 150.0 606.5M155.3 601.3Q153.6 603.8 154.3 606.7T155.0 609.6 153.9 612.4 153.7 615.4 152.7 618.2 151.5 621.0M141.3 608.0Q144.2 608.9 146.9 610.2M151.9 586.6Q153.6 589.0 155.4 591.5T156.8 594.1 157.0 597.1 158.3 599.8M130.2 633.2Q129.5 630.3 130.4 627.5T131.9 624.9 133.2 622.2 133.3 619.2M128.4 609.4Q125.4 609.3 122.5 608.5M157.7 615.8Q160.5 614.9 163.2 616.2T165.1 618.6 168.0 619.0 171.0 619.5M109.9 628.6Q112.2 630.4 113.7 633.1T113.6 636.1M158.3 603.0Q155.5 602.0 152.5 602.4" stroke="#ff3c26" stroke-width="1.0" stroke-opacity="0.5" fill="none"/><path d="M90.2 604.5Q93.0 605.6 96.0 606.0T99.0 606.2 101.9 606.9 104.6 605.7 106.8 603.6M162.6 602.6Q162.7 599.6 162.3 596.6T162.0 593.6 160.6 591.0 160.5 588.0 162.2 585.5M126.2 645.6Q129.2 645.3 132.2 645.2T135.2 645.1 137.9 643.8 140.9 643.3 143.8 643.9 146.8 643.8M102.3 616.2Q99.4 616.9 96.9 615.4T94.0 616.2 91.0 616.4M178.2 615.0Q175.9 613.0 175.3 610.1T174.0 607.3 173.4 604.4M143.5 564.3Q146.2 563.2 147.7 560.5T148.5 557.6 150.8 555.7M164.8 593.4Q165.2 596.4 166.4 599.2T167.7 601.9 168.1 604.8 168.5 607.8 167.3 610.5 167.0 613.5M112.7 630.8Q112.2 633.7 110.8 636.4M130.3 614.5Q133.3 614.5 136.2 613.8T139.2 614.4 142.1 613.6 144.8 612.3 147.3 610.6M183.5 588.5Q185.6 590.7 187.1 593.3T189.3 595.2 189.2 598.2M145.1 612.4Q144.5 609.4 144.2 606.5T146.2 604.2 148.2 601.9M140.9 619.7Q138.2 621.2 136.4 623.6T134.7 626.1M174.0 620.4Q177.0 620.9 180.0 620.6T182.6 619.2 185.3 617.8 187.3 615.6 187.7 612.6 187.0 609.7M142.7 610.0Q140.4 611.9 138.8 614.4T137.2 617.0 135.9 619.7 135.2 622.6" stroke="#ff3c26" stroke-width="1.0" stroke-opacity="0.6" fill="none"/><path d="M140.2 601.9Q139.9 598.9 137.9 596.6T137.3 593.7 134.4 593.1M142.8 611.4Q140.0 610.3 137.0 610.8M141.6 607.2Q140.9 610.2 140.2 613.1T139.2 615.9 139.6 618.9 141.3 621.3 143.2 623.7 143.6 626.6M145.3 619.4Q147.6 617.5 150.6 617.3T153.6 617.4 156.6 616.9 159.5 616.4 162.4 615.6 165.3 616.4M114.6 610.8Q116.7 608.7 119.6 608.0T122.6 607.8 125.5 608.4 128.4 609.3 131.1 610.7M170.0 629.3Q171.9 626.9 172.4 623.9T172.9 621.0 172.7 618.0 170.6 615.8 170.6 612.8M143.3 604.2Q145.4 602.0 147.1 599.6T150.1 599.5 153.1 599.7" stroke="#ff3c26" stroke-width="1.0" stroke-opacity="0.7" fill="none"/><path d="M124.0 603.6Q126.8 604.7 129.7 605.5T132.7 605.7 135.2 607.3 137.7 609.0M131.0 621.3Q130.5 624.3 130.7 627.3M130.2 604.0Q128.3 606.3 125.6 607.6T124.8 610.5 125.2 613.5 125.8 616.4 127.1 619.1M136.8 608.7Q134.8 606.5 131.8 606.0M85.8 619.4Q88.4 620.9 90.6 623.0T93.2 624.4M122.2 624.4Q119.6 623.0 116.8 622.0T113.8 621.6 110.8 621.6M138.9 597.8Q138.5 600.8 139.0 603.8T141.9 604.5 144.9 604.8 147.6 603.5M164.4 607.5Q162.1 605.6 161.8 602.6T162.5 599.7 163.2 596.8 162.8 593.8M136.6 602.0Q136.5 605.0 134.8 607.5M166.3 613.7Q163.4 614.6 160.7 615.8T158.2 617.5 155.7 619.1 152.9 620.3" stroke="#ff3c26" stroke-width="1.1" stroke-opacity="0.3" fill="none"/><path d="M108.4 627.0Q111.0 625.4 112.9 623.2T114.1 620.4M127.4 642.8Q128.8 645.4 128.7 648.4T129.4 651.4 128.4 654.2 126.6 656.6M108.5 638.6Q107.7 641.5 108.2 644.4M160.7 618.5Q163.5 617.5 166.3 618.6T168.2 620.9 170.7 622.6M131.2 626.0Q131.0 629.0 131.1 632.0T131.8 635.0 133.4 637.5 136.2 638.4 139.2 638.6 142.2 639.2M141.9 609.3Q139.9 611.6 141.1 614.4T143.0 616.8 144.8 619.1 146.4 621.7 147.0 624.6 148.0 627.4M122.2 607.5Q125.1 606.7 128.0 605.9T131.0 606.5 133.8 607.4 135.8 609.7 137.6 612.1M148.9 605.4Q151.2 607.4 152.3 610.2T154.6 612.2 157.4 613.3 160.4 613.4 163.3 612.8 166.3 612.6M135.9 624.3Q135.3 621.3 135.7 618.3" stroke="#ff3c26" stroke-width="1.1" stroke-opacity="0.4" fill="none"/><path d="M191.4 596.3Q192.5 593.5 194.4 591.1T196.9 589.4 199.4 587.8 202.1 586.5 204.7 585.0M144.9 630.7Q147.5 629.1 149.5 626.9M129.8 619.4Q131.9 617.3 134.8 616.6T136.9 614.4M119.6 635.9Q122.1 637.5 125.1 637.6T128.0 638.4 131.0 638.7 134.0 638.9 136.3 640.8M162.7 604.2Q162.4 607.2 161.2 609.9T160.0 612.6 158.0 614.9 156.6 617.5 155.3 620.2M137.7 626.8Q140.0 628.7 142.0 631.0T144.4 632.8M171.3 588.8Q174.0 590.1 176.4 591.9T178.9 593.5 181.7 594.6M167.0 606.9Q168.9 604.5 171.9 604.3T174.8 603.7 177.7 603.1 180.1 601.3 182.6 599.6 185.0 597.8M165.7 604.4Q164.4 607.1 162.7 609.6T162.5 612.6 162.6 615.6 161.3 618.3M142.6 638.1Q145.2 639.7 146.9 642.1T148.9 644.4 150.8 646.7M141.3 611.4Q138.5 610.4 136.1 608.6T133.4 607.3 130.5 606.4 127.7 605.4 125.2 603.7M183.9 590.3Q182.7 593.1 180.4 594.9M125.7 608.7Q123.5 606.6 120.7 605.7T118.0 604.2 116.0 602.0 113.8 599.9M188.5 610.9Q187.1 608.2 184.1 608.1M152.9 588.8Q150.5 590.6 149.9 593.5T147.4 595.2 144.4 595.8 141.5 596.4 139.0 594.7" stroke="#ff3c26" stroke-width="1.1" stroke-opacity="0.5" fill="none"/><path d="M140.3 606.3Q141.8 608.9 143.8 611.2T145.3 613.8M204.1 627.2Q206.1 629.4 209.0 630.4T211.3 632.2 213.5 634.3 215.9 636.1 216.8 639.0 216.9 642.0M142.7 590.9Q141.7 588.1 140.6 585.3T141.0 582.3 139.0 580.1 136.5 578.5 135.4 575.7M160.5 571.0Q163.1 569.5 164.5 566.8M87.6 616.8Q84.6 616.7 82.3 614.8T79.7 613.2M156.3 602.9Q155.3 600.1 153.1 598.1T152.3 595.2 151.7 592.2 151.5 589.2M135.5 628.3Q132.7 627.3 129.8 626.6M114.7 626.5Q117.7 626.3 120.4 627.6M88.7 609.5Q86.6 607.4 85.6 604.6T84.2 601.9 83.2 599.1 84.1 596.3M145.9 605.9Q144.0 603.6 144.2 600.6M159.6 616.4Q157.4 614.3 154.7 612.9M126.4 612.6Q127.4 615.4 128.8 618.0T131.0 620.1 132.8 622.5 135.8 622.7 138.7 623.3M110.0 642.6Q111.9 644.9 111.9 647.9T114.0 650.1 116.7 651.4 117.8 654.2" stroke="#ff3c26" stroke-width="1.1" stroke-opacity="0.6" fill="none"/><path d="M125.7 640.2Q128.4 641.4 131.4 642.1T134.3 641.9 137.3 641.5 140.2 640.6 143.2 640.7M184.4 584.0Q184.9 587.0 183.6 589.7T181.5 591.8 179.3 593.9 177.4 596.2M170.6 618.7Q171.4 621.6 172.1 624.5T173.1 627.3 173.7 630.3 175.1 632.9M166.2 591.5Q163.3 592.0 160.3 591.7T157.3 591.4 154.5 592.4 151.5 592.8 149.5 595.0 147.6 597.3M166.4 618.5Q166.6 615.5 166.4 612.5T166.5 609.5 167.5 606.7 170.0 605.0 172.7 603.7M143.3 605.1Q145.4 607.1 146.6 609.9T147.6 612.7 148.9 615.5 150.4 618.1 153.2 619.0" stroke="#ff3c26" stroke-width="1.1" stroke-opacity="0.7" fill="none"/><path d="M115.7 608.1Q115.8 605.1 116.7 602.2T118.0 599.5M112.0 655.4Q110.6 658.1 108.4 660.1M147.4 616.6Q146.3 619.4 145.1 622.2T143.1 624.4 140.3 625.5M138.6 608.8Q135.7 609.6 132.8 610.3T130.1 611.6 127.1 612.1 124.6 613.8 122.9 616.2 124.1 619.0" stroke="#ff3c26" stroke-width="1.2" stroke-opacity="0.3" fill="none"/><path d="M145.7 618.6Q146.0 621.6 146.8 624.5T148.2 627.2 149.8 629.7 151.9 631.9 153.8 634.2 155.6 636.6M127.7 614.5Q128.4 611.6 127.6 608.7M166.3 629.9Q163.9 631.7 161.4 633.5T159.8 636.0 157.2 637.5M202.3 627.8Q203.8 630.5 206.5 631.7T207.8 634.4 208.6 637.3 210.8 639.4 212.9 641.5 214.2 644.2M140.6 629.5Q137.8 630.6 135.2 629.1T133.3 626.8M187.2 584.0Q184.2 584.0 182.0 582.1M181.6 610.8Q184.0 612.7 186.7 614.1T189.5 614.9 192.0 616.6 194.7 617.8 196.9 619.8M211.6 610.1Q208.7 609.8 206.3 611.7M144.3 647.5Q146.1 649.9 148.7 651.4T151.6 652.2 154.3 653.6M146.9 655.3Q144.2 656.8 142.7 659.3M153.7 629.1Q155.9 631.1 156.1 634.1T157.4 636.7 159.9 638.5 162.9 638.3 165.7 639.5M120.9 639.2Q123.9 639.2 126.6 638.0T129.2 636.5 132.0 635.4 135.0 634.7 136.2 632.0M150.9 635.3Q153.6 633.9 156.4 632.8T159.1 634.1" stroke="#ff3c26" stroke-width="1.2" stroke-opacity="0.4" fill="none"/><path d="M142.9 619.5Q140.0 618.7 138.6 616.1T137.6 613.2 137.1 610.3M100.1 628.8Q98.5 626.2 97.7 623.3T95.7 621.1 92.8 620.4 90.6 618.3 89.1 615.8M171.0 619.1Q173.9 619.8 176.7 618.8T179.3 617.3 182.1 616.2 184.6 614.6 186.9 612.7 188.0 609.9M90.1 656.7Q92.6 655.1 94.2 652.5M151.0 607.7Q149.0 605.4 146.7 603.5T143.9 602.3 141.1 601.4 139.8 598.7 140.0 595.7 138.7 593.0M151.4 612.1Q148.4 612.1 145.5 612.8T142.5 612.9M130.6 640.6Q132.6 638.4 135.5 637.7T137.1 635.1 139.7 633.6M157.7 619.3Q154.8 619.7 151.8 619.1M161.7 599.5Q161.4 602.5 160.7 605.4T162.1 608.1 164.7 609.6 165.3 612.5M112.6 624.3Q113.5 627.1 113.8 630.1T114.7 633.0M156.8 598.4Q155.6 601.1 157.0 603.7T159.4 605.5 160.6 608.3 163.2 609.6M137.1 618.3Q136.4 621.2 134.5 623.6T132.5 625.8 131.2 628.5 132.6 631.1 134.4 633.5M174.7 617.9Q171.8 618.7 169.5 616.7M184.5 599.5Q187.2 600.9 189.3 603.0T190.6 605.7 190.7 608.7 192.1 611.4 194.0 613.6 196.5 615.4M149.9 625.7Q148.2 623.3 146.7 620.7T146.5 617.7M154.2 578.1Q155.0 581.0 157.5 582.6T160.2 584.1 163.2 584.5M124.9 617.4Q127.0 615.3 128.7 612.8T131.3 611.3 134.1 612.4M202.1 607.2Q199.9 609.3 198.0 611.6T195.4 613.1 194.1 615.8 191.7 617.5 189.5 619.6M142.0 619.6Q144.5 618.0 147.4 617.0T150.2 618.0 153.2 618.4 155.6 620.1 156.2 623.1" stroke="#ff3c26" stroke-width="1.2" stroke-opacity="0.5" fill="none"/><path d="M148.6 590.9Q149.2 588.0 152.0 587.0T154.1 584.9 156.2 582.7 158.0 580.3M92.3 615.1Q89.9 613.4 86.9 613.1T84.2 611.9M153.8 614.6Q156.2 616.5 158.3 618.5M147.4 587.5Q150.3 588.3 153.2 589.2M108.0 619.5Q110.7 620.9 113.3 622.3T115.8 624.0 118.8 624.4 121.6 625.5 121.3 628.5 118.8 630.2M159.2 626.7Q156.2 627.0 153.2 627.4T150.2 627.9 147.9 629.8M116.2 617.3Q115.5 620.3 113.8 622.7T111.9 625.0 109.8 627.2M144.1 611.0Q142.4 608.6 142.2 605.6T142.4 602.6 140.5 600.3 138.3 598.3 135.8 596.5 133.8 594.4M116.9 627.6Q114.0 628.4 111.0 628.0M121.6 614.1Q120.4 616.8 121.1 619.8T122.9 622.1 124.3 624.8 124.6 627.8M136.0 618.8Q133.4 620.4 131.1 622.2M87.8 627.4Q87.0 630.3 86.8 633.3T85.8 636.1 87.7 638.4 89.9 640.4 92.8 641.0M109.2 631.8Q108.7 634.8 106.8 637.1M152.6 587.9Q150.8 590.3 149.1 592.8T147.5 595.3 144.5 595.8" stroke="#ff3c26" stroke-width="1.2" stroke-opacity="0.6" fill="none"/><path d="M164.3 617.1Q163.7 614.1 164.3 611.2M181.5 596.3Q179.4 594.1 176.9 592.4T175.2 589.9M124.6 621.9Q127.1 623.4 128.8 625.9T131.6 626.9 134.0 625.1 136.9 624.3 139.4 622.7 141.5 620.5M113.9 661.6Q116.7 662.8 119.5 663.7T121.3 666.1 123.6 668.1 126.4 669.2 128.7 671.0 131.7 671.7M125.2 619.2Q122.8 620.9 119.8 620.6T116.9 619.9 113.9 619.7 111.4 621.5 109.1 623.3" stroke="#ff3c26" stroke-width="1.2" stroke-opacity="0.7" fill="none"/><path d="M131.1 617.5Q129.2 615.2 126.7 613.6T124.2 611.9 121.6 610.4 118.6 610.5" stroke="#ff3c26" stroke-width="1.3" stroke-opacity="0.3" fill="none"/><path d="M134.7 615.0Q133.1 617.6 132.3 620.4M174.3 627.8Q173.1 625.1 172.8 622.1M116.5 605.2Q119.2 603.9 122.2 604.0M125.6 614.1Q124.6 616.9 123.3 619.6T121.4 621.9 120.4 624.8 118.8 627.3 118.4 630.3 116.8 632.8M116.0 597.5Q117.6 595.0 118.9 592.3T121.7 591.4 124.7 591.5 127.5 592.7M169.0 613.8Q171.3 611.8 173.1 609.4T173.2 606.4 172.9 603.5 172.8 600.5M123.9 631.1Q121.4 629.5 119.8 627.0T118.8 624.1 116.0 623.1M144.6 649.7Q146.5 652.0 149.0 653.6T151.1 651.4 152.2 648.6 152.4 645.7 151.7 642.7" stroke="#ff3c26" stroke-width="1.3" stroke-opacity="0.4" fill="none"/><path d="M148.6 591.0Q151.3 592.3 153.7 594.0T155.7 596.3 157.5 598.6M125.9 606.5Q124.0 604.1 121.3 602.8T118.3 603.2 115.4 602.8 112.4 603.1M178.9 603.3Q181.4 605.1 184.3 605.5T187.1 606.7 189.8 608.0 192.5 609.3M125.5 620.1Q123.0 618.3 121.1 616.1T119.2 613.7 117.5 611.2 117.1 608.3 115.6 605.7" stroke="#ff3c26" stroke-width="1.3" stroke-opacity="0.5" fill="none"/><path d="M154.0 603.5Q151.0 603.5 148.3 602.4T145.3 602.0M116.1 604.0Q119.1 604.1 120.3 606.9T120.8 609.8 123.0 611.9M193.8 598.4Q196.7 598.8 199.7 598.4T202.6 597.8 204.5 595.5M124.7 618.6Q122.8 620.9 120.7 623.0T117.8 623.9 116.5 626.6 115.6 629.5 114.3 632.2 114.4 635.2M155.2 622.3Q152.3 623.0 149.3 623.5M106.2 619.7Q108.6 621.5 111.6 621.6T114.6 621.7M144.4 621.2Q142.0 619.4 139.4 617.8T136.6 616.8" stroke="#ff3c26" stroke-width="1.3" stroke-opacity="0.6" fill="none"/><path d="M96.6 595.9Q93.6 596.0 90.9 594.7M128.8 604.0Q126.5 606.0 125.4 608.8T124.2 611.5 122.6 614.1 120.5 616.2 117.6 615.3M158.3 624.2Q155.4 625.1 152.4 625.0T149.6 624.1 146.6 623.9 145.0 621.3 143.2 618.9M173.6 604.2Q170.7 603.5 167.7 603.7T165.7 601.5 164.6 598.7 164.5 595.7 165.6 592.9 167.7 590.8M155.7 600.7Q156.6 603.6 158.0 606.2" stroke="#ff3c26" stroke-width="1.3" stroke-opacity="0.7" fill="none"/>
</g><g stroke-linecap="round" filter="url(#s1)">
<path d="M125.8 734.4Q127.7 731.5 129.3 728.5T129.8 725.2 129.7 721.8 131.5 718.9M125.1 767.5Q126.8 770.5 129.7 772.3M146.3 777.9Q147.4 781.2 148.6 784.3T149.0 787.7M100.9 735.8Q97.6 735.0 94.2 735.8T90.9 735.6 87.6 734.4 84.3 734.1M143.7 805.6Q145.2 808.6 147.3 811.3T150.2 813.0 153.6 813.8M121.4 730.7Q121.3 734.1 121.0 737.5T119.3 740.5M122.2 714.0Q124.5 716.5 127.4 718.3T130.8 718.2 134.1 719.1 137.5 719.3 140.7 720.2 143.4 718.0M117.3 730.5Q117.8 727.1 118.4 723.8T119.6 720.6 122.4 718.8 125.7 717.8" stroke="#f43422" stroke-width="1.0" stroke-opacity="0.4" fill="none"/><path d="M167.5 705.4Q164.6 707.3 161.7 709.1T159.5 711.6 157.5 714.3 156.2 717.5M188.6 763.7Q190.9 761.2 191.8 757.9T190.3 754.9 188.7 751.9 187.7 748.7 187.5 745.3M230.6 751.6Q233.7 753.0 236.7 751.5T240.1 751.7 243.5 751.7 246.8 751.1 250.1 750.2 252.9 748.2M118.5 746.6Q118.7 743.2 117.8 740.0T117.4 736.6 118.6 733.4 119.7 730.1M178.0 782.2Q178.2 778.8 180.0 776.0T180.3 772.6 177.4 770.8M170.6 728.4Q167.9 730.5 164.8 732.0T161.4 732.1 158.1 732.9 154.7 733.2 151.3 732.9M141.6 785.0Q140.7 788.3 139.7 791.5T139.7 794.9M131.9 745.0Q129.2 742.8 125.9 742.4T122.7 743.5 119.3 743.1 115.9 743.4 112.5 742.9M142.5 760.4Q140.4 763.1 139.1 766.3T137.8 769.4 135.7 772.1 133.2 774.4 131.5 777.3M118.7 682.1Q115.3 682.2 111.9 682.2T108.8 681.0 105.8 679.4M126.1 712.8Q129.4 713.7 131.9 711.5T133.2 708.3 136.2 706.8 139.5 707.6 142.8 708.5" stroke="#f43422" stroke-width="1.0" stroke-opacity="0.5" fill="none"/><path d="M166.1 757.3Q168.6 759.7 171.1 762.0T172.9 764.9M172.7 731.1Q169.8 729.4 167.2 727.2T164.3 725.4 162.4 722.6 162.9 719.3 162.7 715.9 160.5 713.3M182.4 736.4Q184.4 739.2 185.9 742.2T188.9 743.9 192.2 744.8M144.6 761.8Q141.3 762.7 138.7 764.9T135.6 766.2 132.3 766.9 128.9 767.1 125.8 768.5 123.6 771.2M133.6 742.8Q131.1 740.6 128.1 738.8T124.9 740.0M152.0 767.8Q148.6 768.3 145.7 770.1T142.8 771.9 140.1 774.0 136.9 775.0 133.5 775.6 130.3 776.6M107.2 723.6Q108.6 726.7 111.0 729.2T113.5 731.5 116.5 733.0M151.1 740.4Q153.6 738.1 155.9 735.6T158.6 733.5 162.0 733.6 165.2 734.6M145.6 791.9Q148.7 790.5 151.9 791.5T155.3 791.6 158.7 791.5 162.1 791.4" stroke="#f43422" stroke-width="1.0" stroke-opacity="0.6" fill="none"/><path d="M212.4 760.8Q212.5 764.2 213.4 767.5T213.5 770.9 215.6 773.5M157.0 721.3Q153.7 720.3 150.3 720.3T147.1 721.4 144.0 720.2 141.4 718.0 138.0 718.4M143.7 727.8Q141.1 730.0 137.9 731.0T135.3 733.3 132.4 735.1" stroke="#f43422" stroke-width="1.0" stroke-opacity="0.7" fill="none"/><path d="M208.9 709.0Q209.2 705.6 209.5 702.3M193.4 745.7Q190.2 746.9 187.7 749.1M187.9 763.7Q185.0 765.4 181.6 765.2T178.7 763.5 175.5 762.2M140.3 762.6Q137.1 761.5 133.7 761.5T130.4 760.4M205.7 737.6Q208.7 739.3 210.9 741.9T214.2 742.6M144.0 755.5Q146.6 757.6 150.0 756.8T153.0 755.2 156.3 754.4 158.7 752.0 161.5 750.2M188.9 786.3Q188.3 789.7 189.5 792.9M181.9 801.5Q184.9 799.9 186.6 797.0T189.7 795.6 193.0 795.0M113.6 722.1Q111.9 725.0 110.7 728.2T107.3 728.9 104.6 731.0 102.8 733.8 100.0 735.8 98.9 739.0M80.0 717.9Q77.1 716.1 73.8 715.3T70.4 715.5 67.3 714.1M207.2 775.1Q207.5 771.7 209.0 768.7T209.6 765.3 208.8 762.0 206.9 759.2 205.3 756.2M111.7 742.7Q111.6 739.3 110.0 736.3M194.5 742.8Q191.2 743.8 187.9 744.6T184.7 743.5 182.8 740.7 181.7 737.5 179.4 734.9M153.3 776.9Q155.4 779.5 157.5 782.2T159.6 784.9 162.1 787.2M64.6 741.7Q61.5 740.5 58.1 741.1T55.7 738.7 52.6 737.3 49.5 736.0M173.8 701.6Q176.1 704.1 178.9 706.0T181.8 707.7 184.2 710.1 184.9 713.4 184.8 716.8 185.1 720.2" stroke="#f43422" stroke-width="1.1" stroke-opacity="0.4" fill="none"/><path d="M193.2 741.0Q193.0 737.6 193.8 734.3T194.4 730.9 194.2 727.5 195.9 724.6 197.3 721.5 198.2 718.2M169.7 759.2Q170.1 755.8 173.0 754.0M158.9 756.4Q156.0 758.2 152.7 759.2T149.4 760.0 146.1 759.3 143.0 757.8 141.5 754.8 139.5 752.0M181.1 747.6Q184.3 746.3 186.9 744.2T190.3 744.0 193.7 744.2 197.1 743.7 200.4 744.5M71.3 721.9Q73.8 724.2 76.8 725.8T79.3 723.5 82.5 722.3 85.8 721.9M141.1 722.1Q142.3 725.3 145.2 727.0T148.6 726.9 151.8 725.7 154.9 724.3 158.3 724.4 161.0 726.5M201.4 761.6Q200.2 764.8 200.9 768.1M88.5 715.3Q88.5 718.7 86.4 721.4T85.5 724.7 87.0 727.8 89.0 730.5 92.2 731.5 95.5 730.7M134.0 740.0Q131.3 737.9 128.3 736.3T126.3 733.5 126.6 730.1 126.5 726.7 125.4 723.5 123.9 720.5M186.9 811.3Q183.6 812.1 181.7 814.9T180.3 818.0 180.2 821.4 181.6 824.5 183.8 827.1M164.5 796.5Q161.3 795.4 158.3 793.9T155.6 791.8 152.6 790.2 149.3 789.3M122.9 741.4Q125.7 739.5 128.4 737.4T131.6 736.4 135.0 735.8 138.0 734.2M172.6 761.5Q173.4 758.2 175.2 755.3T176.1 752.0M122.9 734.9Q124.1 731.7 124.4 728.3T124.6 724.9 125.7 721.7 127.2 718.7 129.7 716.4 132.1 713.9M126.0 731.3Q122.8 730.2 120.0 728.3T116.6 727.8 113.2 728.1 109.9 728.5 106.5 728.9M168.5 734.1Q168.8 730.7 168.4 727.4M140.4 729.9Q138.0 732.3 135.5 734.5" stroke="#f43422" stroke-width="1.1" stroke-opacity="0.5" fill="none"/><path d="M142.8 721.8Q144.9 724.4 146.4 727.5T147.9 730.5 149.5 733.6 150.5 736.8 150.3 740.2M167.5 789.3Q164.3 790.5 160.9 790.1T158.0 788.4 155.2 786.4 152.7 784.1 149.8 782.3M161.0 729.3Q157.6 729.3 154.2 729.1T150.9 730.1 148.2 732.2 145.8 734.6M168.2 732.9Q166.4 735.8 164.5 738.5T162.5 741.3 160.0 743.6 156.7 744.3M104.3 781.2Q101.5 783.3 98.3 784.2T95.2 785.7M135.0 790.0Q132.6 792.4 131.4 795.6T132.6 798.7 135.3 800.9 137.8 803.2M125.7 759.0Q123.7 756.2 120.6 754.8T118.6 752.0 115.8 750.1M182.0 789.3Q181.0 792.5 179.3 795.4T178.7 798.8M106.4 785.8Q103.3 784.6 100.1 783.4T98.0 780.7M135.1 739.9Q135.8 743.3 135.7 746.6M129.2 726.8Q131.5 729.3 134.9 729.5T137.7 727.6 139.1 724.5 140.3 721.3 139.8 718.0 139.9 714.6M209.8 735.0Q212.2 737.5 215.3 738.8M113.2 809.3Q110.0 808.4 106.7 807.4T103.6 808.7 100.2 809.3 96.9 809.9M127.4 729.8Q125.5 732.6 124.0 735.7T121.6 738.1 119.0 740.3 116.3 742.3M180.9 771.3Q182.7 768.4 184.0 765.3T187.3 764.2 190.6 764.6 194.0 765.2" stroke="#f43422" stroke-width="1.1" stroke-opacity="0.6" fill="none"/><path d="M189.1 739.0Q185.7 738.9 182.5 737.7T179.3 736.6 176.2 735.2 172.8 735.6M173.9 807.0Q177.1 806.1 180.1 804.4T182.6 802.1 185.7 800.6 189.1 800.4 191.6 798.1 193.9 795.6M111.5 718.4Q111.3 715.0 109.8 711.9M158.2 763.6Q160.2 760.8 161.6 757.7T163.0 754.6 164.0 751.3 164.7 748.0" stroke="#f43422" stroke-width="1.1" stroke-opacity="0.7" fill="none"/><path d="M174.8 750.9Q177.9 752.4 180.2 754.9T181.1 758.2 182.4 761.3 184.5 764.0M157.2 760.7Q157.6 764.1 156.6 767.3T154.4 769.9 151.4 771.4M113.1 770.4Q112.2 767.1 113.0 763.8T114.1 760.6 114.1 757.2M182.9 755.4Q184.2 758.5 183.2 761.8T181.6 764.8 180.0 767.8 178.3 770.7M154.4 775.1Q152.6 772.2 151.1 769.2T149.4 766.2 148.5 763.0 145.6 761.2 142.4 760.2 139.2 758.8M173.4 790.4Q170.2 789.1 166.8 789.3M63.6 749.0Q67.0 749.1 69.3 746.6M93.9 727.6Q94.3 731.0 93.5 734.3T94.8 737.4 96.7 740.2 99.8 741.6M146.3 759.0Q143.3 760.5 139.9 760.9T136.9 759.3M83.2 733.0Q80.4 735.0 77.9 737.3T74.6 738.2 71.2 738.6 68.2 737.2M99.2 701.2Q97.5 698.3 95.8 695.3T94.4 692.2 93.9 688.9 92.8 685.6M90.4 749.7Q93.8 749.1 96.7 750.9M141.3 761.7Q144.1 759.7 147.4 759.4T150.8 759.6 154.2 759.7 157.4 758.5 160.8 758.0 163.5 755.9M125.3 808.6Q127.7 811.0 130.2 813.3T132.1 816.1 132.4 819.5" stroke="#f43422" stroke-width="1.2" stroke-opacity="0.4" fill="none"/><path d="M208.2 795.6Q206.0 792.9 203.3 791.0T199.9 790.3 197.3 788.2M92.8 759.4Q92.1 756.1 93.0 752.8M136.5 754.5Q137.3 751.2 137.3 747.8M145.6 765.3Q148.8 764.1 151.7 762.3T153.8 759.7 157.0 758.6M160.6 739.5Q163.6 737.9 165.9 735.4T169.2 734.8M141.4 777.9Q144.6 779.0 147.0 781.4T150.2 782.5 153.3 783.9 155.5 786.6 158.4 788.2 161.5 789.8M170.7 775.4Q167.6 777.0 164.4 778.0T161.0 777.9 159.0 780.7 159.9 784.0 158.8 787.2 157.3 790.3M105.5 714.0Q108.7 712.9 112.1 713.0T115.1 711.4 116.2 708.1 119.0 706.3 122.4 706.0M152.4 763.5Q150.6 766.4 151.1 769.7T153.2 772.4 154.1 775.7 154.2 779.1 153.5 782.4M109.0 755.6Q111.6 757.8 114.1 760.1T117.5 759.8 120.7 760.9 124.0 761.8 126.9 763.6 128.9 766.3M141.9 762.4Q139.2 764.5 136.5 766.5T133.6 768.3 131.8 771.2 130.7 774.4 131.6 777.6 133.0 780.8M121.6 726.2Q122.0 722.8 120.6 719.7T120.0 716.4 119.1 713.1 117.4 710.1M146.9 738.5Q146.3 741.8 144.5 744.7T142.2 747.2 138.9 748.0 135.7 749.2 133.1 751.4 129.9 752.5M157.7 783.7Q155.7 781.0 155.8 777.6T157.3 774.5M112.1 724.7Q112.9 721.4 113.0 718.0T112.7 714.6 112.9 711.2 113.4 707.8 111.8 704.9M168.9 746.6Q171.7 744.7 173.8 742.0T175.7 739.2M203.6 757.0Q206.1 759.2 209.3 760.5T212.6 761.3 215.4 763.3M131.9 751.9Q128.6 752.4 126.2 754.8T124.6 757.9 122.6 760.6 121.8 763.9 121.8 767.3 123.7 770.2M170.5 745.8Q173.0 748.1 174.9 751.0T177.3 753.4 179.9 755.6" stroke="#f43422" stroke-width="1.2" stroke-opacity="0.5" fill="none"/><path d="M163.8 761.2Q162.8 757.9 161.7 754.7T160.8 751.4M68.5 705.7Q65.1 706.2 61.8 707.0T58.6 708.2 55.9 710.2 54.0 713.1 52.1 715.8M161.6 787.4Q160.1 790.5 157.1 792.0T153.9 790.9 150.6 790.2 148.2 792.7 145.5 794.7M229.2 767.9Q231.8 770.1 233.4 773.2T236.4 774.7 239.7 775.5 243.1 775.6 245.9 777.6M135.9 740.3Q139.2 739.5 142.3 738.0T145.6 737.1M141.3 793.6Q138.6 791.7 136.5 788.9T133.8 787.0 130.4 787.6 128.3 790.2 125.7 792.5 122.5 793.5M191.3 761.9Q194.3 760.3 196.8 757.9T198.9 755.2 200.2 752.1 201.1 748.8M143.7 792.3Q142.0 795.3 139.8 797.9T136.5 798.6 133.2 799.5 131.2 802.2 129.2 805.0M185.1 773.5Q188.5 773.6 191.6 772.4M148.4 746.3Q145.8 748.5 143.5 751.0T141.9 754.0M187.2 763.8Q184.5 765.8 181.1 766.2T177.7 765.6 176.1 768.6 174.8 771.7M196.9 774.2Q196.1 777.5 197.0 780.8M159.9 757.2Q162.9 755.7 165.3 753.3M182.9 730.0Q180.8 727.3 177.6 726.2T174.5 724.8 171.5 723.3 168.2 722.4 165.2 723.9 162.5 726.1M164.6 774.0Q163.2 770.9 162.4 767.6T162.8 764.2 165.4 762.0M86.4 743.4Q85.1 740.3 84.4 736.9" stroke="#f43422" stroke-width="1.2" stroke-opacity="0.6" fill="none"/><path d="M180.1 786.7Q178.7 789.8 176.6 792.5T174.1 794.8 170.7 795.0 167.7 793.6M161.1 753.0Q164.5 752.8 167.9 752.7T170.7 750.8 173.9 749.4 177.2 749.2 180.6 748.8M189.7 736.5Q190.4 739.8 189.9 743.2M163.5 755.4Q160.3 756.5 157.0 755.5T153.7 755.1M154.7 748.1Q158.1 748.5 161.5 748.2T164.8 748.8 167.8 750.5 171.0 751.7 174.3 752.2 177.7 752.5M146.0 748.4Q144.0 751.2 140.7 750.2T137.3 750.0 134.3 748.5 131.0 747.8 127.7 748.7 125.9 751.5M198.2 760.2Q201.3 758.7 203.3 756.0T205.4 753.3" stroke="#f43422" stroke-width="1.2" stroke-opacity="0.7" fill="none"/><path d="M142.5 732.4Q145.9 732.8 149.3 733.0T152.7 732.8M183.7 758.1Q182.9 761.4 183.7 764.7M151.3 714.3Q148.1 713.1 145.0 714.3T141.7 715.3M161.2 756.4Q159.4 759.3 157.5 762.1T157.2 765.5 154.5 767.5 155.3 770.8M156.8 732.8Q155.0 729.9 153.7 726.8T153.8 723.4 152.8 720.1 151.4 717.0 150.2 713.8 150.0 710.4M181.9 768.3Q185.1 766.9 188.4 766.1T191.2 764.2 194.4 763.1 197.3 765.0 199.8 767.2M161.7 749.9Q164.3 752.0 167.0 754.2T169.5 756.4 172.5 758.1M172.7 769.5Q175.2 771.9 178.3 773.2M162.6 805.1Q164.1 802.0 166.6 799.7" stroke="#f43422" stroke-width="1.3" stroke-opacity="0.4" fill="none"/><path d="M171.3 758.8Q169.4 761.6 167.1 764.1T164.8 766.6 164.4 770.0 165.6 773.2 166.0 776.6 166.1 780.0M191.0 770.2Q188.8 767.6 188.1 764.3T188.4 760.9 188.5 757.5 190.0 754.4 188.5 751.4M168.9 743.9Q170.9 741.2 173.1 738.6T174.7 735.6 176.5 732.6 177.0 729.3M135.8 757.1Q137.1 760.2 139.4 762.7T142.3 764.5 145.5 765.6 148.5 767.2 151.5 768.8M126.0 738.6Q124.0 735.8 121.7 733.3T118.7 731.9 115.7 730.2 112.6 728.8 109.6 727.2M163.4 763.6Q163.3 767.0 163.1 770.3T162.5 773.7M155.8 725.2Q158.6 727.2 159.6 730.4T162.3 732.4 165.0 734.5M83.2 794.2Q85.5 796.8 85.3 800.2T83.0 802.7 79.9 804.0 76.6 804.8M177.6 788.1Q174.9 790.1 172.5 792.6T170.6 795.4M190.2 748.3Q187.0 749.7 185.0 752.4T182.4 754.5 180.0 757.0M137.8 727.8Q141.2 727.8 144.6 728.6T147.9 727.8 151.0 726.4 153.9 724.7 157.2 723.8M112.9 741.4Q111.6 738.2 111.3 734.8T112.2 731.5 114.3 728.9M233.9 745.5Q233.2 748.8 232.0 752.0T230.2 754.8 228.3 757.7M138.6 774.3Q135.2 774.2 132.4 772.2M194.7 799.1Q191.4 800.1 188.1 800.6T185.5 802.8 182.9 805.0 181.0 807.8 178.4 810.0 176.0 812.4M233.4 769.7Q230.8 772.0 229.5 775.1T227.4 777.8 224.7 779.8 221.4 780.8M141.5 777.1Q141.1 780.4 142.6 783.5T143.3 786.8M129.3 734.3Q129.6 737.7 130.8 740.8M168.4 776.9Q170.1 779.9 170.6 783.2T171.0 786.6" stroke="#f43422" stroke-width="1.3" stroke-opacity="0.5" fill="none"/><path d="M123.8 755.5Q120.5 754.7 117.1 755.2M116.1 742.1Q116.2 745.5 117.6 748.6T117.4 752.0 117.2 755.4 118.2 758.6 116.8 761.7M113.8 699.4Q114.7 702.7 112.7 705.4T113.8 708.6 116.3 710.9 117.3 714.2 119.7 716.6 122.7 718.2M183.3 766.1Q186.2 764.4 189.3 762.8T192.4 761.5 195.7 760.9 197.9 758.2 198.2 754.9 198.8 751.5M189.5 734.6Q191.4 737.4 193.6 740.0T193.7 743.4M162.5 767.7Q163.6 764.5 162.3 761.3T161.1 758.2M159.5 759.1Q161.7 756.4 165.0 755.6T168.1 754.3M127.4 760.7Q128.1 764.1 128.2 767.5T127.8 770.8 129.5 773.8 132.1 775.9 133.2 779.2M134.7 742.5Q132.7 745.2 130.6 747.9T128.7 750.7 126.8 753.5 126.8 756.9 126.6 760.3M253.8 742.5Q252.8 745.7 251.0 748.6T249.6 751.7 246.9 753.8 244.5 756.2 241.7 758.1M192.7 774.3Q191.4 771.2 191.6 767.8T192.3 764.5 192.9 761.1 192.1 757.8 192.2 754.4M147.6 753.6Q150.9 753.8 154.0 755.3M110.5 737.6Q112.1 740.6 112.8 744.0T114.2 747.1 115.6 750.1 118.3 752.2M205.8 746.4Q204.5 743.2 203.4 740.0T203.8 736.6 204.4 733.3 207.4 731.6 210.6 732.7 214.0 732.6M155.6 784.5Q156.4 781.2 155.2 778.1M227.3 723.0Q224.9 725.4 222.3 727.6T220.4 730.4 220.7 733.8 218.9 736.7M137.8 808.9Q134.6 807.7 132.3 805.3T129.8 803.0 129.5 799.6 129.2 796.2 128.7 792.8 128.8 789.4" stroke="#f43422" stroke-width="1.3" stroke-opacity="0.6" fill="none"/><path d="M129.4 762.9Q132.5 764.4 135.5 765.9T136.6 769.1 134.9 772.1 134.8 775.5 134.3 778.8 134.1 782.2M155.8 778.5Q157.6 775.6 158.7 772.4M160.0 723.5Q163.4 723.3 166.7 722.6T169.5 720.7 171.9 718.2M178.1 793.6Q181.1 792.0 184.0 790.2T187.4 790.5 190.6 791.6 193.9 792.3 197.1 791.2 200.5 791.6" stroke="#f43422" stroke-width="1.3" stroke-opacity="0.7" fill="none"/><path d="M116.2 754.9Q119.2 753.3 122.5 752.4M166.1 746.4Q169.5 746.1 172.8 745.6M129.8 786.6Q133.2 787.1 136.5 787.8M156.3 783.3Q154.2 780.7 151.2 779.0T148.3 777.3 144.9 777.2M100.4 709.5Q103.8 709.7 106.6 707.7T109.9 707.0 113.3 707.1M169.3 780.4Q166.6 782.6 163.4 783.4T160.5 785.3 157.2 785.5 153.8 785.5 150.7 786.9 147.3 787.5M189.4 726.6Q186.4 724.9 183.8 722.8T180.6 721.5 178.2 719.1M157.2 769.4Q159.1 766.6 160.7 763.6T162.4 760.6 164.1 757.7M216.3 757.2Q214.2 754.6 210.9 753.6T208.6 751.2 205.4 750.0 202.2 748.7M195.7 792.6Q193.6 789.9 190.6 788.3T187.5 786.9 184.8 784.8 182.2 782.6 179.3 780.9 176.2 779.4M121.5 683.2Q123.6 680.6 125.3 677.6T128.0 675.6 131.0 674.0M145.1 742.7Q148.4 742.0 151.5 743.5T151.9 746.8 153.1 750.0 154.2 753.2M152.7 718.2Q149.5 717.4 146.1 717.6T142.9 718.9 139.6 719.8 136.4 718.8 133.1 717.7 129.9 718.8M159.2 778.8Q162.5 777.9 165.5 776.2T168.2 774.2M139.2 720.7Q139.6 724.1 141.9 726.6T145.0 727.8 148.4 728.0 151.8 728.4M167.5 723.0Q164.2 722.4 160.8 722.2M169.8 802.7Q168.7 805.9 168.1 809.3T170.4 811.8 171.4 815.1 170.3 818.3M182.4 753.7Q185.0 756.0 185.9 759.2T187.3 762.3 188.5 765.5 189.5 768.8" stroke="#f43422" stroke-width="1.4" stroke-opacity="0.4" fill="none"/><path d="M125.2 732.3Q125.3 735.7 126.4 738.9T127.3 742.2 128.8 745.3 128.8 748.7 129.9 751.9 131.1 755.1M125.3 767.9Q128.2 766.1 131.2 764.5M199.9 777.6Q197.7 775.0 195.0 773.0T193.8 769.8 194.1 766.4M149.4 753.2Q146.0 752.6 142.7 753.3T139.3 753.8M160.7 782.1Q163.5 784.0 164.7 787.2T164.4 790.5 167.3 792.3 168.5 795.5M187.5 745.8Q185.9 742.8 184.1 739.9T181.2 738.2 177.8 738.1 174.4 738.3 171.3 739.8 169.1 742.5M142.8 730.2Q141.7 733.4 143.1 736.5T144.5 739.6 147.0 741.9 149.6 744.1 151.8 746.7M148.5 815.7Q151.8 816.7 155.1 815.8T158.2 814.4 160.9 812.4M171.4 733.1Q168.6 735.1 165.7 736.9T162.8 738.6 159.6 739.8 156.6 741.5M147.5 723.6Q145.1 726.0 144.6 729.4T143.0 732.4 139.7 733.4 136.5 734.3 133.9 736.5M117.3 758.7Q115.5 755.8 114.3 752.6T114.5 749.2 112.5 746.4" stroke="#f43422" stroke-width="1.4" stroke-opacity="0.5" fill="none"/><path d="M130.7 705.7Q127.7 704.2 124.3 704.6T120.9 705.2 117.6 704.6M127.1 743.7Q127.5 740.3 129.0 737.3T131.6 735.1 134.0 732.7M165.7 765.7Q162.4 765.9 159.0 765.9M210.0 822.0Q212.9 820.2 216.3 820.2T219.6 819.4M143.1 764.2Q144.7 761.2 146.2 758.1T147.2 754.9M137.4 737.8Q138.6 734.6 141.0 732.2T144.4 731.8 146.9 729.5M111.5 755.3Q109.8 758.2 106.6 759.5T103.2 759.3 100.1 757.9 96.9 756.7 93.6 756.4M128.8 753.1Q127.2 756.1 128.7 759.2T128.5 762.6 128.3 765.9 127.8 769.3 126.8 772.5 126.1 775.9M118.5 770.2Q118.8 773.6 120.5 776.5T121.9 779.6M196.7 784.2Q195.1 781.1 193.5 778.2M168.5 749.2Q167.5 745.9 165.7 743.1T162.5 742.0 159.4 740.5 156.3 739.1 154.0 736.6M130.2 717.3Q127.0 718.6 124.2 720.4T121.1 721.9 117.8 722.6 114.4 723.1 111.9 725.4M128.5 755.8Q125.5 757.3 122.1 757.2T119.0 755.8 116.5 753.5 115.9 750.2 118.0 747.5 120.2 744.9M117.4 771.5Q118.0 774.9 119.0 778.1T120.4 781.2 122.0 784.2 124.9 786.1 127.7 787.9M152.4 757.9Q149.1 758.9 145.9 759.9T142.5 759.7 139.3 758.6M181.8 788.5Q184.8 790.1 188.1 791.0T191.2 792.4" stroke="#f43422" stroke-width="1.4" stroke-opacity="0.6" fill="none"/><path d="M188.8 766.8Q185.9 768.6 183.4 770.9T180.9 773.2M168.4 758.8Q171.8 758.9 175.1 759.9T177.5 762.3 180.9 762.8 184.3 762.9 186.5 765.5M180.8 758.9Q179.8 762.2 177.1 764.3T174.6 766.5 171.3 767.5 168.5 769.5 165.6 771.2M178.8 781.4Q177.4 784.5 176.7 787.9T175.9 791.2 173.0 792.9M123.1 725.9Q120.6 723.6 117.8 721.7T115.9 718.9 113.7 716.2 111.0 714.2 110.5 710.8" stroke="#f43422" stroke-width="1.4" stroke-opacity="0.7" fill="none"/><path d="M128.6 734.5Q131.6 736.1 135.0 735.7T138.4 735.3 141.6 736.5 144.7 737.8 148.1 737.3M125.5 818.8Q127.3 815.9 128.1 812.6T128.6 809.3 127.7 806.0 129.1 802.9M100.1 785.2Q103.3 786.5 106.6 787.1T110.0 786.8M142.2 724.8Q145.5 725.8 148.4 724.0T150.3 721.2 152.2 718.4 153.1 715.1 152.7 711.7 152.1 708.4M160.4 742.6Q157.6 740.7 155.5 738.0T154.3 734.9 153.0 731.7M127.4 723.3Q128.2 720.0 129.9 717.1M176.3 748.5Q179.1 750.4 181.7 752.6T184.4 754.7" stroke="#f43422" stroke-width="1.5" stroke-opacity="0.4" fill="none"/><path d="M201.7 737.9Q200.0 740.8 197.6 743.2M177.5 745.7Q180.0 743.4 182.2 740.8T183.8 737.8 184.4 734.5M145.1 738.8Q143.3 735.9 142.9 732.5T142.6 729.1 140.4 726.5 138.8 723.5M174.5 760.9Q176.7 763.5 179.3 765.8T182.7 765.8 185.8 767.2M159.5 773.0Q157.0 775.3 155.0 778.1T154.6 781.5 154.8 784.9M203.3 745.7Q205.1 742.8 206.3 739.6T207.2 736.3 210.4 735.1 213.3 736.9" stroke="#f43422" stroke-width="1.5" stroke-opacity="0.5" fill="none"/><path d="M185.5 737.6Q183.0 735.3 179.8 734.1T178.3 731.1 178.5 727.7 181.2 725.6 184.4 724.5 187.7 725.3M198.2 809.2Q201.6 809.0 205.0 808.8T208.3 808.0 210.9 805.8 213.3 803.3 215.5 800.7M143.5 743.8Q141.0 741.6 138.4 739.3T135.2 738.4 132.1 736.9M165.8 799.4Q166.3 796.1 166.8 792.7T168.7 789.9M124.9 768.9Q128.1 767.7 130.9 765.9M164.2 723.3Q166.4 725.9 167.3 729.2T170.1 731.1" stroke="#f43422" stroke-width="1.5" stroke-opacity="0.6" fill="none"/><path d="M152.1 775.2Q149.8 772.6 147.1 770.6T143.8 769.9 140.4 769.7 137.0 770.1 134.8 772.6M150.1 775.9Q148.2 773.1 145.4 771.1T143.6 768.3M90.6 736.9Q87.4 737.9 84.1 738.9T81.3 740.9 78.5 742.7 75.5 744.4" stroke="#f43422" stroke-width="1.5" stroke-opacity="0.7" fill="none"/>
<path d="M30.9 743.8Q31.0 747.4 31.3 750.9M10.4 587.6Q8.0 590.3 5.1 592.4M18.8 621.7Q17.9 625.2 15.8 628.2T13.9 631.2 12.0 634.3 9.6 637.0 6.8 639.3 3.7 641.0 2.1 644.3" stroke="#ee3020" stroke-width="1.0" stroke-opacity="0.3" fill="none"/><path d="M92.6 715.4Q91.8 711.9 89.9 708.8T86.6 707.6 84.3 704.8 82.2 701.8 79.9 699.0 77.8 696.1 75.6 693.3" stroke="#ee3020" stroke-width="1.0" stroke-opacity="0.4" fill="none"/><path d="M50.1 723.2Q50.1 726.8 49.2 730.3T46.5 732.7" stroke="#ee3020" stroke-width="1.0" stroke-opacity="0.5" fill="none"/><path d="M51.3 675.4Q47.7 675.7 44.2 674.6T40.6 674.7 37.2 673.5 34.4 671.3 31.3 669.5 27.7 669.2 24.1 669.5 21.0 671.3M54.0 634.2Q51.4 631.7 48.8 629.3T45.8 627.2 43.2 624.7 41.0 621.9 38.3 619.5 34.7 619.2 31.3 618.3M75.4 797.0Q72.6 799.4 69.4 801.0T65.8 801.0 62.5 802.4 59.0 803.4 57.7 806.8 57.8 810.4M57.1 685.4Q54.4 683.0 53.0 679.7T52.7 676.1 53.0 672.5" stroke="#ee3020" stroke-width="1.1" stroke-opacity="0.3" fill="none"/><path d="M-18.6 578.5Q-20.7 581.4 -23.5 583.7T-24.9 587.0M53.5 683.5Q54.9 686.9 57.3 689.6T59.7 692.2 62.8 694.0 65.0 696.9 66.7 700.1 67.2 703.6 67.1 707.2 66.0 710.7M24.2 721.9Q21.0 720.2 19.0 717.2M64.6 645.6Q68.2 645.6 71.8 645.9" stroke="#ee3020" stroke-width="1.1" stroke-opacity="0.4" fill="none"/><path d="M53.1 671.1Q55.2 668.2 55.7 664.6T54.8 661.2 53.3 657.9 50.2 656.0M128.0 768.7Q124.5 768.0 120.9 768.1T117.3 768.5 114.1 770.0 110.5 769.9 107.0 771.0M20.0 615.3Q17.2 613.1 14.0 611.4T11.1 609.3 9.5 606.0 9.6 602.4 11.5 599.4 14.6 597.5M7.8 572.1Q9.9 569.1 11.3 565.8T11.3 562.2 12.7 558.9 12.9 555.3 12.8 551.7 11.7 548.3M60.4 687.8Q63.6 686.2 67.1 685.2T70.6 684.8 73.6 682.8 77.1 682.0 80.6 681.1M23.6 582.1Q27.1 582.7 30.7 583.3T34.2 584.0 37.7 585.0 41.3 585.2 44.8 585.9 48.1 587.4M54.6 773.3Q55.3 769.8 56.6 766.4T59.0 763.7 61.8 761.5 65.3 760.6 68.6 762.0M81.5 605.0Q83.4 608.0 84.3 611.5T83.8 615.1M-5.2 607.9Q-3.2 610.9 -1.5 614.0T0.5 617.0 2.6 620.0 5.4 622.2 6.7 625.5 8.1 628.9" stroke="#ee3020" stroke-width="1.1" stroke-opacity="0.5" fill="none"/><path d="M4.6 673.3Q7.4 675.6 9.8 678.3M69.7 738.4Q73.2 737.8 76.7 736.7T80.1 735.6 83.7 735.2 87.2 734.8 90.1 737.0M40.6 784.9Q41.5 781.4 44.4 779.3T46.8 776.6 49.5 774.2 52.3 772.0 53.3 768.5 52.7 764.9 51.6 761.5 53.5 758.4M37.4 759.6Q34.3 761.5 34.7 765.1T36.1 768.4 37.3 771.8 38.1 775.3 39.6 778.6 41.6 781.6M13.2 631.9Q9.7 631.0 6.4 629.6T6.2 626.0 4.0 623.2 1.2 621.0 -1.7 618.8 -0.7 615.3 0.0 611.8 -0.6 608.3M27.1 637.3Q26.9 640.9 26.3 644.5T25.9 648.1" stroke="#ee3020" stroke-width="1.1" stroke-opacity="0.6" fill="none"/><path d="M61.6 729.0Q64.9 730.4 67.6 732.7T69.5 735.8 71.1 739.0 73.7 741.5 76.9 743.3 78.7 746.4M71.9 650.9Q75.4 651.3 78.9 652.3T81.3 654.9 84.7 656.2 88.0 657.6 91.6 658.1M15.2 718.7Q11.7 717.9 8.1 717.9T4.7 718.9M9.7 575.9Q6.1 575.4 2.6 574.8T-0.9 574.0M95.4 835.2Q92.5 837.3 90.7 840.4T88.3 843.1 86.5 846.2 83.7 848.5 81.1 850.9 77.5 851.6 73.9 852.0M-1.2 702.3Q-3.8 704.8 -7.2 705.7T-10.8 706.4 -14.3 705.6M54.8 717.7Q51.2 717.9 47.8 718.9T44.2 718.6 40.8 717.5 37.8 715.4 35.6 712.6 34.1 709.3 31.3 707.1M78.2 672.4Q76.5 669.2 75.0 666.0T72.9 663.0" stroke="#ee3020" stroke-width="1.2" stroke-opacity="0.3" fill="none"/><path d="M19.8 594.1Q16.4 595.1 13.5 597.2T11.1 599.9 9.0 602.9 8.3 606.4 8.0 610.0M84.3 709.9Q85.7 713.2 85.9 716.8T86.5 720.3 88.8 723.1 91.6 725.4 92.6 728.8M67.9 679.5Q65.5 676.7 64.4 673.3T62.5 670.3 62.0 666.7 61.1 663.2 59.9 659.8M118.3 756.5Q119.3 753.1 122.0 750.7M50.6 761.3Q52.7 764.2 54.4 767.4T55.0 771.0 56.3 774.3 56.8 777.9 56.6 781.5 57.4 784.9 56.7 788.5M56.2 660.1Q56.9 663.6 59.2 666.4T59.9 669.9 61.1 673.3 61.9 676.8 62.2 680.4M3.0 699.8Q4.6 696.6 6.0 693.3T5.5 689.7 6.6 686.3M43.3 614.9Q44.0 611.4 44.5 607.8T44.0 604.2 41.5 601.6M74.0 587.8Q75.8 584.7 78.9 582.8T81.6 580.5M85.1 697.0Q81.7 698.2 78.1 698.1T74.5 698.1 71.5 700.0" stroke="#ee3020" stroke-width="1.2" stroke-opacity="0.4" fill="none"/><path d="M31.6 567.6Q34.4 565.2 36.2 562.1T38.4 559.3 40.9 556.7 43.9 554.7 47.5 554.4 51.1 554.0M10.1 753.6Q12.8 756.0 15.1 758.8T17.1 761.8 18.8 765.0 19.5 768.5 18.3 771.9 16.1 774.7 15.5 778.3M23.1 801.5Q21.5 798.3 18.5 796.2T15.8 793.9 14.0 790.8 15.8 787.6 18.5 785.2M33.5 616.7Q31.2 613.9 28.4 611.7T25.5 609.5 23.8 606.3M55.6 773.2Q53.1 770.5 51.3 767.4T49.4 764.4 48.1 761.0 46.0 758.1M31.1 757.3Q28.6 754.7 25.4 753.0T22.5 751.0 19.0 750.0 15.6 748.9 12.9 746.4 9.9 744.5 6.5 743.4 3.0 742.4M10.4 613.5Q7.2 615.1 3.8 616.3T0.2 616.7 -3.1 618.2 -6.0 620.3 -6.7 623.8M13.9 607.4Q11.3 610.0 9.3 613.0T7.1 615.9 4.7 618.5 1.2 619.2 -2.4 619.2 -6.0 618.9 -9.5 619.9M12.1 678.1Q9.0 680.0 6.9 682.9T4.3 685.4 1.2 687.3 -1.5 689.7" stroke="#ee3020" stroke-width="1.2" stroke-opacity="0.5" fill="none"/><path d="M32.5 716.0Q34.8 713.3 37.5 710.8T38.4 707.4 39.7 704.0 38.6 700.5 36.3 697.8 35.2 694.3 36.0 690.8 37.0 687.4M38.3 662.4Q35.4 660.2 32.1 658.9T29.3 656.6 26.7 654.1 24.6 651.2 23.0 648.0 23.1 644.4M28.4 604.6Q30.7 607.4 33.4 609.8" stroke="#ee3020" stroke-width="1.2" stroke-opacity="0.6" fill="none"/><path d="M62.1 677.2Q60.1 674.2 57.4 671.7T54.5 669.7M63.9 597.6Q60.3 597.4 56.9 598.3T53.9 600.3 51.5 603.0 48.0 603.8M38.9 612.7Q42.4 612.0 45.9 612.8T49.5 613.1 53.1 613.0 56.7 612.9 59.9 611.3 63.4 610.4 67.0 610.0" stroke="#ee3020" stroke-width="1.3" stroke-opacity="0.3" fill="none"/><path d="M88.3 692.0Q85.2 693.9 82.0 695.6T79.0 697.4 76.8 700.3 75.5 703.7 76.2 707.2 76.5 710.8M60.0 736.4Q58.8 733.0 55.9 730.8T54.5 727.5 53.2 724.2 50.7 721.6 48.0 719.1 46.0 716.2 45.1 712.7M-5.1 611.8Q-5.9 608.2 -6.6 604.7T-8.9 601.9 -11.3 599.3 -12.3 595.8M8.8 561.3Q6.8 558.3 4.0 556.0T2.2 552.9 -1.4 552.5 -4.9 553.1 -8.4 554.0 -12.0 554.5 -15.5 555.1M41.1 663.4Q40.7 659.8 40.8 656.2M48.8 660.5Q45.5 662.0 43.9 665.1T42.3 668.4 41.7 671.9M21.2 603.8Q17.6 604.3 15.3 607.0T12.3 609.0 9.0 610.4 5.4 610.3 3.3 607.3M40.0 632.8Q37.1 630.6 33.5 630.4T30.1 631.4" stroke="#ee3020" stroke-width="1.3" stroke-opacity="0.4" fill="none"/><path d="M66.0 719.8Q62.8 718.2 59.2 718.3T56.7 715.7M71.8 630.0Q74.0 627.2 76.5 624.6T78.9 621.9 81.9 619.9 84.5 617.4M69.6 742.2Q69.9 738.6 70.9 735.2T72.4 731.9 75.2 729.7 78.7 728.9M65.4 697.5Q68.9 696.3 72.4 696.5T76.0 696.5 79.6 696.2 83.2 696.8 86.8 697.1 90.2 695.9M50.6 699.7Q48.5 696.7 45.4 694.9T42.0 693.7M92.5 629.6Q94.6 632.6 97.2 635.0T100.0 637.3 101.1 640.7 102.7 643.9 106.1 645.3M39.1 738.0Q35.7 736.7 32.1 736.7T28.6 737.0 25.0 737.8 22.4 740.2 19.4 742.3 16.5 744.4 13.2 745.7M111.3 762.3Q113.6 759.6 115.2 756.3T117.2 753.3 118.5 750.0 121.3 747.7" stroke="#ee3020" stroke-width="1.3" stroke-opacity="0.5" fill="none"/><path d="M21.0 698.4Q22.5 701.7 23.9 705.0T24.2 708.6 25.7 711.8M79.9 769.9Q79.8 766.3 77.6 763.4T76.0 760.2 76.8 756.7 77.0 753.1 78.0 749.6 77.2 746.1 77.5 742.5 76.2 739.2M70.3 763.0Q72.2 766.1 73.6 769.4" stroke="#ee3020" stroke-width="1.3" stroke-opacity="0.6" fill="none"/><path d="M44.4 741.9Q44.0 745.5 43.9 749.1T42.8 752.5M28.3 613.3Q27.7 609.8 27.1 606.2T25.4 603.1 22.8 600.6 20.1 598.2M56.4 759.0Q54.9 762.2 54.6 765.8T53.0 769.1 52.2 772.6M32.8 617.0Q29.3 617.6 26.8 620.2T24.3 622.8 21.2 624.7 18.3 626.9 15.1 628.4 11.6 629.4 8.0 629.6 5.3 632.0" stroke="#ee3020" stroke-width="1.4" stroke-opacity="0.3" fill="none"/><path d="M34.0 722.8Q31.7 720.0 29.3 717.4T27.0 714.5M-1.7 592.4Q-4.6 590.2 -7.0 587.6T-8.2 584.2 -6.9 580.8 -6.8 577.2 -7.7 573.7M4.5 738.4Q2.7 741.5 0.6 744.4T-1.6 747.3 -3.0 750.6 -4.3 754.0 -5.5 757.4 -6.5 760.8M24.3 591.6Q27.6 590.3 30.7 588.5T34.1 587.2 37.5 588.3 40.9 589.5 44.3 590.7M57.7 653.0Q60.4 655.3 63.1 657.7T65.8 660.1 68.8 662.1 72.3 662.7M77.2 672.7Q77.2 669.1 77.8 665.5T78.4 662.0 80.9 659.4 83.5 656.9 85.5 654.0M-5.2 633.7Q-8.8 633.1 -12.4 633.1T-15.0 635.5" stroke="#ee3020" stroke-width="1.4" stroke-opacity="0.4" fill="none"/><path d="M40.9 643.8Q42.0 647.2 44.8 649.5T47.2 652.1M9.6 784.6Q13.1 785.6 16.3 787.3T19.1 789.5 22.3 791.1 24.7 793.8 26.5 797.0 26.1 800.6 25.2 804.1M40.9 605.9Q43.5 603.4 45.5 600.4T47.0 597.1 49.7 594.8 52.6 592.5M69.6 678.9Q66.4 677.2 63.6 675.0T60.4 673.2 57.8 670.8M-2.2 719.8Q-5.0 722.1 -7.0 725.1T-10.5 725.9 -14.1 725.3 -17.4 723.8 -20.7 722.6M73.0 669.0Q72.0 665.5 68.8 663.9T66.2 661.3 64.0 658.5 60.8 656.8 58.0 654.6M-6.9 678.8Q-9.7 681.1 -10.4 684.6T-11.3 688.1 -12.5 691.5" stroke="#ee3020" stroke-width="1.4" stroke-opacity="0.5" fill="none"/><path d="M54.9 722.6Q57.3 725.2 60.2 727.4T62.9 729.8 65.8 731.9 68.5 734.3M47.5 697.8Q49.9 695.1 52.3 692.4T55.4 690.5M28.6 698.0Q28.1 694.4 28.3 690.8T27.1 687.5" stroke="#ee3020" stroke-width="1.4" stroke-opacity="0.6" fill="none"/><path d="M41.8 583.1Q45.0 581.6 47.7 579.2T50.1 576.5 53.4 575.1M49.1 651.8Q49.7 648.3 50.6 644.8T52.5 641.8 53.3 638.3 55.0 635.1 55.3 631.5" stroke="#ee3020" stroke-width="1.5" stroke-opacity="0.3" fill="none"/><path d="M49.0 696.3Q47.5 699.6 45.7 702.7T42.6 704.5" stroke="#ee3020" stroke-width="1.5" stroke-opacity="0.4" fill="none"/><path d="M33.4 769.6Q29.8 769.3 26.3 770.3T23.2 772.1 19.7 772.8 16.1 773.0 13.0 774.9 9.4 774.9 5.9 775.6M53.4 689.4Q54.7 692.7 52.7 695.7T49.7 697.6 46.2 698.7 43.0 700.3M-15.1 576.9Q-13.1 579.9 -14.4 583.2T-13.7 586.8 -12.7 590.2 -11.2 593.5 -10.0 596.9M-13.4 579.2Q-12.7 582.7 -12.8 586.3T-12.5 589.9 -11.3 593.3 -10.2 596.7 -8.9 600.1 -7.6 603.5M39.9 698.6Q43.5 699.1 46.8 700.5T49.8 702.5M50.6 719.5Q53.8 717.8 56.8 715.9T58.5 712.7 59.9 709.4" stroke="#ee3020" stroke-width="1.5" stroke-opacity="0.5" fill="none"/>
<path d="M177.12 593.92C179.61 593.65 188.05 594.31 192.11 592.3C196.16 590.29 197.96 584.75 201.45 581.86C204.95 578.97 208.96 576.89 213.07 574.96C217.18 573.03 221.75 571.83 226.11 570.29C230.47 568.75 235.27 567.9 239.22 565.73C243.17 563.55 246.28 560.06 249.82 557.24C253.36 554.43 258.7 550.25 260.48 548.85" stroke="#e02a1a" stroke-width="1.1" stroke-opacity="0.56" fill="none"/><path d="M152.65 603.73C155.3 602.58 163.27 599.19 168.54 596.84C173.8 594.5 179.67 593.11 184.23 589.66C188.78 586.21 191.13 579.31 195.86 576.13C200.59 572.95 206.85 572.17 212.6 570.59C218.35 569.01 225.25 569.21 230.38 566.66C235.5 564.1 238.37 558.01 243.36 555.25C248.36 552.49 257.53 550.96 260.36 550.11" stroke="#e02a1a" stroke-width="1.1" stroke-opacity="0.36" fill="none"/><path d="M182.3 609.17C184.79 607.61 192.44 603.21 197.22 599.78C202 596.35 206.52 592.51 210.98 588.57C215.44 584.63 219.42 579.95 223.95 576.14C228.49 572.32 233.45 569.17 238.2 565.69C242.95 562.21 247.63 558.61 252.46 555.26C257.29 551.9 262.39 548.97 267.18 545.56C271.98 542.15 278.9 536.61 281.24 534.81" stroke="#e02a1a" stroke-width="1.1" stroke-opacity="0.59" fill="none"/><path d="M159.53 602.76C162.64 601.92 172.39 600.02 178.21 597.69C184.03 595.37 189.23 592.08 194.46 588.82C199.68 585.57 204.21 581.23 209.56 578.16C214.9 575.1 221.75 574.38 226.54 570.43C231.32 566.49 233.22 558.05 238.26 554.5C243.3 550.95 251.5 552.35 256.76 549.15C262.03 545.95 267.66 537.63 269.84 535.33" stroke="#e02a1a" stroke-width="1.1" stroke-opacity="0.41" fill="none"/><path d="M177.69 587.05C179.82 585.43 185.77 579.93 190.46 577.38C195.15 574.84 201.22 574.45 205.82 571.77C210.43 569.1 213.31 563.74 218.09 561.33C222.86 558.92 229.59 559.57 234.48 557.33C239.36 555.09 243.12 551.09 247.39 547.9C251.66 544.71 255.64 541.05 260.13 538.19C264.61 535.32 271.93 531.96 274.3 530.72" stroke="#e02a1a" stroke-width="1.1" stroke-opacity="0.53" fill="none"/><path d="M161.36 607.95C163.73 606.43 170.83 601.87 175.56 598.84C180.3 595.8 185.05 592.79 189.76 589.73C194.48 586.66 199.01 583.31 203.86 580.46C208.72 577.61 213.92 575.31 218.89 572.64C223.86 569.97 229.23 567.94 233.67 564.44C238.1 560.93 240.95 554.95 245.48 551.6C250.01 548.25 258.3 545.56 260.87 544.35" stroke="#e02a1a" stroke-width="1.1" stroke-opacity="0.58" fill="none"/><path d="M187.94 598.63C189.63 596.71 194.05 589.92 198.08 587.07C202.1 584.22 207.66 583.77 212.08 581.54C216.5 579.31 220.51 576.45 224.59 573.68C228.67 570.92 232.31 567.48 236.54 564.94C240.76 562.41 245.9 561.3 249.94 558.47C253.98 555.65 256.46 550.39 260.77 547.99C265.08 545.59 273.3 544.73 275.81 544.07" stroke="#e02a1a" stroke-width="1.1" stroke-opacity="0.57" fill="none"/><path d="M201.46 612.19C202.57 609.96 205 601.87 208.14 598.83C211.27 595.79 216.65 596.28 220.25 593.97C223.84 591.65 226.43 587.76 229.68 584.93C232.94 582.09 236.4 579.56 239.8 576.94C243.2 574.33 246.53 571.6 250.08 569.23C253.64 566.85 257.28 564.61 261.13 562.69C264.98 560.78 271.17 558.56 273.17 557.73" stroke="#e02a1a" stroke-width="1.1" stroke-opacity="0.33" fill="none"/><path d="M173.46 615.76C176.35 614.52 185.52 611.62 190.78 608.33C196.03 605.05 200.03 599.8 205 596.07C209.97 592.34 215.63 589.7 220.6 585.96C225.56 582.23 229.97 577.62 234.79 573.66C239.61 569.7 244.39 565.67 249.53 562.21C254.67 558.75 260.31 556.07 265.64 552.9C270.97 549.73 278.86 544.83 281.51 543.21" stroke="#e02a1a" stroke-width="1.1" stroke-opacity="0.45" fill="none"/>
<path d="M84.14 624.68C82.67 623.93 78.33 621.6 75.31 620.18C72.3 618.76 68.57 618.19 66.07 616.17C63.57 614.15 62.81 610.09 60.33 608.05C57.85 606 54.8 604.63 51.19 603.91C47.59 603.19 41.92 604.88 38.71 603.7C35.49 602.52 33.94 599.4 31.9 596.83C29.87 594.26 27.4 589.73 26.5 588.31" stroke="#c8241a" stroke-width="1.1" stroke-opacity="0.36" fill="none"/><path d="M88.03 634.58C87.11 632.5 85.54 624.89 82.52 622.13C79.51 619.37 73.86 619.7 69.93 618C66.01 616.31 61.86 614.88 58.97 611.97C56.08 609.06 54.91 604.12 52.59 600.55C50.26 596.98 47.14 594.34 45 590.55C42.87 586.75 42.36 581.04 39.78 577.78C37.19 574.51 31.19 572.1 29.47 570.97" stroke="#c8241a" stroke-width="1.1" stroke-opacity="0.20" fill="none"/><path d="M72.43 649.05C71.39 647.54 68.22 643.08 66.2 640.01C64.17 636.94 62.12 633.89 60.26 630.63C58.39 627.37 57.37 623.11 54.98 620.47C52.59 617.82 48.53 617.14 45.92 614.74C43.32 612.34 41.66 608.84 39.38 606.08C37.09 603.31 33.95 601.54 32.19 598.15C30.44 594.77 29.39 587.81 28.83 585.74" stroke="#c8241a" stroke-width="1.1" stroke-opacity="0.38" fill="none"/><path d="M86.04 623.33C85.51 621.88 84.04 617.37 82.84 614.63C81.64 611.89 81.22 608.22 78.83 606.87C76.45 605.52 71.41 607.28 68.51 606.52C65.62 605.77 63.29 604.35 61.46 602.34C59.64 600.33 59.35 596.52 57.57 594.45C55.78 592.39 53.14 591.34 50.77 589.97C48.41 588.59 44.61 586.82 43.38 586.19" stroke="#c8241a" stroke-width="1.1" stroke-opacity="0.23" fill="none"/><path d="M78.04 636.04C76.4 635.23 70.67 633.8 68.22 631.23C65.78 628.65 65.61 623.4 63.37 620.58C61.13 617.77 57.32 616.8 54.8 614.32C52.27 611.83 51.04 607.84 48.25 605.67C45.46 603.5 40.47 603.9 38.07 601.28C35.66 598.66 35.87 592.97 33.81 589.95C31.75 586.92 27.06 584.26 25.71 583.12" stroke="#c8241a" stroke-width="1.1" stroke-opacity="0.25" fill="none"/><path d="M74.2 627.89C72.98 626.76 68.97 623.78 66.91 621.08C64.84 618.38 64.63 613.51 61.8 611.71C58.98 609.9 52.37 612.53 49.95 610.25C47.53 607.97 49.05 601.06 47.27 598.03C45.48 595 41.53 594.52 39.25 592.07C36.98 589.62 35.72 585.97 33.62 583.32C31.51 580.66 27.79 577.35 26.62 576.16" stroke="#c8241a" stroke-width="1.1" stroke-opacity="0.34" fill="none"/>
</g>
<path d="M227.45 721.4C231.18 717.89 237.31 717.01 244.54 713.51C251.77 710 261.64 705.18 270.84 700.36C280.04 695.54 294.94 665.74 299.76 684.58C304.58 703.43 319.05 791.95 299.76 813.43C280.48 834.9 200.06 819.13 184.07 813.43C168.07 807.73 198.31 789.33 203.79 779.25C209.26 769.17 213.87 760.4 216.93 752.95C220 745.5 220.44 739.8 222.19 734.54C223.95 729.28 223.73 724.9 227.45 721.4Z" fill="#160002" filter="url(#s1)"/>
<path d="M252.43 747.69C252.43 741.56 262.95 735.42 270.84 731.91C278.73 728.41 294.94 719.64 299.76 726.66C304.58 733.67 304.58 766.97 299.76 773.99C294.94 781 278.73 773.11 270.84 768.73C262.95 764.34 252.43 753.83 252.43 747.69Z" fill="#2a0104" opacity="0.8" filter="url(#s5)"/>
</g>
<rect x="22.5" y="758.1" width="46.9" height="12.2" fill="#fff"/>
<clipPath id="k3"><rect x="3.3" y="880.4" width="286" height="304.4"/></clipPath>
<g clip-path="url(#k3)">
<rect x="3.3" y="880.4" width="286" height="304.4" fill="#4a0609"/>
<rect x="3.3" y="880.4" width="286" height="304.4" fill="url(#v3)"/>
<rect x="-20" y="866" width="330" height="17" fill="#2c0005" opacity="0.85" filter="url(#s2)"/>
<rect x="-12" y="860" width="17" height="340" fill="#2c0005" opacity="0.7" filter="url(#s2)"/>
<path d="M164.24 984.96C168.8 956.22 201.64 931.13 224.45 916.53C247.27 901.93 288.32 873.19 301.1 897.37C313.87 921.55 312.05 1028.3 301.1 1061.61C290.15 1094.91 252.74 1092.63 235.4 1097.19C218.07 1101.75 208.94 1107.68 197.08 1088.98C185.22 1070.28 159.67 1013.71 164.24 984.96Z" fill="#5a080a" opacity="0.6" filter="url(#s12)"/>
<rect x="3.3" y="880.4" width="286" height="304.4" filter="url(#nz3)" opacity="0.14"/>
<path d="M117.7 1012.34C123.18 1003.67 134.58 995.46 142.34 993.18C150.09 990.9 159.67 991.81 164.24 998.65C168.8 1005.49 166.97 1022.83 169.71 1034.24C172.45 1045.64 174.27 1056.59 180.66 1067.08C187.05 1077.57 204.38 1088.98 208.03 1097.19C211.68 1105.4 208.03 1113.16 202.56 1116.35C197.08 1119.55 184.31 1118.18 175.18 1116.35C166.06 1114.53 156.94 1111.79 147.81 1105.4C138.69 1099.02 126.83 1088.07 120.44 1078.03C114.05 1067.99 109.95 1056.13 109.49 1045.18C109.03 1034.24 112.23 1021.01 117.7 1012.34Z" fill="#98140d" opacity="0.35" filter="url(#s8)"/>
<path d="M134.13 1050.66C135.49 1054.76 137.32 1067.99 142.34 1075.29C147.36 1082.59 160.59 1091.26 164.24 1094.45" stroke="#e82616" stroke-width="11" fill="none" opacity="0.4" stroke-linecap="round" filter="url(#s5)"/>
<g stroke-linecap="round" filter="url(#s07)">
<path d="M160.7 1080.2Q158.6 1082.3 156.8 1084.7T154.4 1086.5 152.0 1088.4 149.7 1090.3 146.7 1090.4 143.8 1090.9 140.8 1090.5M122.3 1044.0Q125.3 1044.6 128.1 1043.6M115.4 1031.2Q116.3 1034.1 114.7 1036.6T114.3 1039.6 114.0 1042.6 115.5 1045.2 118.1 1046.7 119.8 1049.1 121.8 1051.4M148.9 1042.4Q151.2 1040.5 153.0 1038.1T154.0 1035.3 156.1 1033.2 158.8 1031.7 161.7 1031.2 164.7 1031.3 167.7 1031.6 170.5 1032.7M168.9 1096.9Q171.8 1097.6 174.2 1099.4T175.9 1101.9 175.2 1104.8 172.5 1106.2 170.4 1108.3 167.4 1108.4 164.8 1106.9M144.3 1067.1Q145.6 1069.7 147.0 1072.4T149.1 1074.5" stroke="#ff3c26" stroke-width="0.8" stroke-opacity="0.3" fill="none"/><path d="M122.9 1043.6Q122.1 1046.5 121.6 1049.4M166.6 1090.1Q164.3 1088.2 163.4 1085.3T162.2 1082.6 160.9 1079.9 160.1 1077.0 160.1 1074.0 159.1 1071.1M137.8 1059.7Q135.6 1057.6 133.0 1056.3M172.7 1052.9Q175.5 1053.9 178.0 1055.6T180.9 1055.3 183.6 1056.6 186.2 1058.2 188.7 1059.8 191.3 1061.2M155.5 1078.6Q153.2 1080.5 151.3 1082.8T149.0 1084.7" stroke="#ff3c26" stroke-width="0.8" stroke-opacity="0.4" fill="none"/><path d="M145.1 1032.9Q143.8 1030.2 141.3 1028.5T138.3 1028.2M136.7 1025.4Q134.1 1026.9 131.1 1027.2T128.2 1026.4 127.9 1023.4 127.0 1020.6 125.9 1017.8 127.4 1015.2" stroke="#ff3c26" stroke-width="0.8" stroke-opacity="0.5" fill="none"/><path d="M138.0 1080.3Q135.8 1082.3 133.0 1083.3T130.5 1085.0 129.0 1087.6 127.6 1090.2 125.5 1092.4M164.4 1090.0Q167.0 1091.6 169.9 1092.1T172.9 1091.7 175.8 1091.1M136.2 1036.4Q134.0 1038.4 133.1 1041.3T130.9 1043.3 128.7 1045.4 125.9 1046.4 124.0 1048.7M175.0 1097.2Q176.8 1099.6 178.6 1102.0T178.4 1105.0 180.5 1107.1" stroke="#ff3c26" stroke-width="0.8" stroke-opacity="0.6" fill="none"/><path d="M150.4 1072.7Q148.0 1074.5 145.9 1076.7T144.3 1079.2 144.1 1082.2M146.4 1065.4Q143.4 1065.2 140.4 1065.1T137.7 1066.4 136.0 1068.9 136.4 1071.8 136.6 1074.8" stroke="#ff3c26" stroke-width="0.8" stroke-opacity="0.7" fill="none"/><path d="M191.3 1098.8Q190.3 1096.0 189.3 1093.1T189.1 1090.1M150.1 1022.2Q147.1 1021.6 144.2 1020.9T141.3 1020.1 138.4 1019.6 135.4 1019.0 132.4 1019.0 129.6 1020.1M151.9 1051.9Q153.5 1049.3 154.1 1046.4T154.1 1043.4 152.2 1041.1 149.6 1039.6 147.3 1037.7 146.0 1035.0 146.1 1032.0 147.4 1029.3M140.2 1011.0Q140.3 1008.0 140.0 1005.0T137.7 1003.0 134.9 1002.0 132.7 1000.0 130.0 998.6 127.3 997.4 124.3 996.9 121.4 997.5M154.9 1080.9Q157.9 1081.1 160.7 1082.0T163.4 1083.4 166.3 1084.1 168.3 1086.3M138.8 1006.6Q138.3 1009.5 137.9 1012.5T137.8 1015.5 138.6 1018.4 139.6 1021.2M154.9 1073.4Q156.7 1075.9 158.2 1078.5T159.7 1081.1 162.2 1082.6 165.2 1083.2 167.0 1085.6 168.9 1088.0 169.6 1090.9M156.5 1107.7Q158.7 1105.6 159.7 1102.8T160.5 1099.9 161.1 1096.9 161.2 1093.9 160.7 1091.0 158.9 1088.6 159.0 1085.6 158.1 1082.8M146.2 1028.9Q147.5 1026.2 149.3 1023.8T150.8 1021.2 151.8 1018.3M143.7 1086.4Q146.6 1087.2 149.5 1087.6T152.5 1088.1 155.3 1087.2 158.3 1086.7 161.2 1086.1" stroke="#ff3c26" stroke-width="0.9" stroke-opacity="0.3" fill="none"/><path d="M138.4 1049.3Q137.0 1052.0 134.0 1051.8T131.1 1052.6 128.3 1053.5 125.3 1054.0 122.3 1053.6 119.5 1054.6 116.5 1055.1M146.6 1109.7Q147.5 1106.8 148.6 1104.0M125.8 1021.1Q128.7 1020.7 131.6 1021.5T134.3 1022.8 136.9 1024.4 139.5 1025.8 142.5 1025.8M175.8 1085.2Q175.6 1082.2 175.7 1079.2T173.4 1077.4 170.4 1077.6 167.4 1077.6 165.2 1079.6 162.3 1080.3 159.4 1081.2M138.5 1059.3Q141.2 1058.0 144.0 1056.9T146.9 1056.3M139.7 1086.6Q142.3 1088.2 144.6 1090.1T146.9 1092.0 147.5 1095.0 148.9 1097.6 149.8 1100.5 149.8 1103.5 147.5 1105.3M140.1 1046.9Q137.1 1046.2 134.1 1046.4T131.4 1045.1 128.5 1044.7 125.6 1044.0 122.8 1042.7" stroke="#ff3c26" stroke-width="0.9" stroke-opacity="0.4" fill="none"/><path d="M167.0 1051.5Q165.8 1054.2 163.8 1056.5T161.2 1057.9 160.4 1060.8 160.6 1063.8M149.2 1025.5Q147.1 1023.3 146.6 1020.3T146.2 1017.4 146.7 1014.4 145.6 1011.6 142.9 1010.3 140.0 1009.5 137.0 1009.6M155.9 1029.1Q155.8 1026.1 156.3 1023.2T156.1 1020.2M146.9 1058.1Q144.2 1059.2 141.3 1060.3T138.4 1059.9 136.1 1057.9 133.4 1056.6 131.0 1058.3 128.2 1059.5 125.3 1060.0 122.9 1061.8M160.4 1096.7Q157.5 1095.9 155.8 1093.4M139.8 1084.3Q142.3 1082.7 144.6 1080.8T146.8 1078.7 149.2 1077.0 152.1 1076.2 155.1 1076.2 158.1 1076.9M137.3 1019.4Q135.0 1017.5 132.1 1016.8T129.1 1016.3 126.5 1014.8 123.5 1014.8 121.8 1017.2 120.4 1019.9 118.3 1022.0M135.7 1075.6Q137.7 1077.8 139.0 1080.5T140.8 1083.0 143.0 1085.0 145.9 1085.6 147.6 1088.1 149.8 1090.1M160.0 1084.4Q157.1 1083.8 154.3 1082.8T152.7 1080.2M118.9 1036.9Q118.3 1039.9 116.9 1042.5T114.6 1044.5 112.5 1046.5" stroke="#ff3c26" stroke-width="0.9" stroke-opacity="0.5" fill="none"/><path d="M144.9 1037.2Q145.5 1034.3 147.0 1031.7T150.0 1031.3 152.9 1032.1 155.8 1031.8 158.7 1031.0 161.7 1030.5 163.7 1032.7 165.2 1035.4M137.2 1049.9Q138.5 1052.6 140.1 1055.2T142.4 1057.0 145.3 1058.0M148.3 1002.7Q148.6 999.7 147.8 996.8T147.4 993.8 147.5 990.8 148.4 988.0M132.2 1024.7Q129.6 1026.1 126.6 1026.0T123.6 1025.6 120.7 1026.6 117.8 1026.8M124.5 1023.7Q125.7 1020.9 125.4 1017.9T124.8 1015.0M135.6 1031.6Q137.5 1029.3 140.1 1027.8T142.9 1028.6 145.9 1029.1 148.8 1030.0 151.3 1031.5M130.1 1082.9Q127.1 1083.1 124.2 1083.9M154.3 1018.1Q154.0 1015.1 152.8 1012.4T151.8 1009.6 149.3 1007.8 147.1 1005.8 144.5 1004.4M142.8 1064.9Q145.2 1066.7 146.7 1069.3T148.1 1072.0 150.8 1073.2 153.8 1073.1 156.7 1072.3M146.4 1106.6Q146.1 1103.6 146.0 1100.6T147.3 1097.9 148.1 1095.0 147.1 1092.2 145.8 1089.5 143.6 1087.5M133.9 1021.4Q130.9 1021.6 127.9 1021.7T125.5 1023.5 124.6 1026.3 123.4 1029.1 122.8 1032.0 120.9 1034.3 118.3 1035.9M178.1 1088.0Q176.9 1085.3 174.4 1083.6T171.4 1083.4 168.5 1082.8 165.8 1084.1M126.5 1053.6Q128.5 1055.8 130.4 1058.2T133.3 1058.7 135.5 1060.8 136.7 1063.5 137.8 1066.4 138.0 1069.3 139.8 1071.8 141.9 1074.0" stroke="#ff3c26" stroke-width="0.9" stroke-opacity="0.6" fill="none"/><path d="M154.0 1082.0Q151.7 1080.1 149.0 1078.8T146.5 1077.2M139.8 1020.1Q136.8 1019.8 134.0 1018.9T132.0 1021.1 130.8 1023.8 129.2 1026.4 127.4 1028.8M144.7 1033.3Q147.0 1035.2 149.4 1036.9T151.7 1038.9M164.3 1086.8Q166.2 1089.2 166.0 1092.2T167.4 1094.8 169.7 1096.8M137.0 1089.9Q134.4 1091.4 131.4 1091.3T128.4 1091.9M141.4 1070.9Q140.2 1068.1 138.0 1066.1T135.5 1064.4 132.6 1063.9 130.8 1061.4" stroke="#ff3c26" stroke-width="0.9" stroke-opacity="0.7" fill="none"/><path d="M157.5 1034.9Q157.8 1031.9 157.0 1029.0T157.6 1026.1 156.6 1023.2M141.9 1042.4Q139.2 1043.5 136.3 1044.3T133.3 1044.3 130.4 1043.6 128.5 1041.2M179.5 1107.2Q182.4 1106.3 185.4 1106.4M155.3 1095.0Q156.9 1092.5 159.0 1090.3T160.5 1087.7 162.9 1085.9 165.6 1084.6 168.6 1084.4 171.3 1083.0 174.0 1081.9M133.1 1044.9Q133.6 1047.9 134.1 1050.8T133.6 1053.8 134.2 1056.7 136.4 1058.8M122.1 1033.3Q121.1 1030.5 123.1 1028.2T126.0 1027.3 128.9 1026.8 131.7 1027.9 133.7 1030.1 136.5 1031.3 139.0 1032.9M145.5 1055.9Q143.5 1058.1 141.0 1059.8T138.4 1061.2 135.6 1062.3 133.5 1064.4 131.4 1066.6M140.0 1023.6Q138.1 1021.3 136.3 1018.9T133.5 1017.9 131.1 1016.0 129.2 1013.8 127.9 1011.0 126.4 1008.4 124.4 1006.2M128.2 1086.7Q127.8 1089.7 125.3 1091.4T125.1 1094.4 126.0 1097.3 124.0 1099.6 121.3 1100.8 118.5 1101.8 115.7 1102.9 113.2 1101.2" stroke="#ff3c26" stroke-width="1.0" stroke-opacity="0.3" fill="none"/><path d="M151.2 1051.2Q148.4 1050.2 145.5 1049.3T142.6 1050.1 139.7 1050.7 136.8 1051.6 134.1 1052.9 131.2 1053.5 128.8 1051.7 126.4 1049.9M137.3 1009.1Q136.1 1011.9 135.4 1014.8T135.0 1017.8 134.9 1020.8 135.1 1023.8 134.4 1026.7 133.1 1029.4M134.0 1038.6Q131.0 1038.3 128.2 1039.2T125.2 1039.5 122.2 1040.1 119.3 1039.5 116.3 1039.4M146.1 1023.0Q144.7 1020.3 143.6 1017.5T142.7 1014.7 141.2 1012.0 140.8 1009.1 139.7 1006.3 140.7 1003.4 142.7 1001.3M160.3 1022.7Q159.0 1020.0 161.1 1017.9T162.7 1015.3 162.5 1012.3M129.5 1062.0Q129.2 1059.0 128.5 1056.1T127.6 1053.2 125.4 1051.2 123.0 1049.4M126.2 1015.3Q125.1 1012.5 127.4 1010.6T129.3 1008.3 129.6 1005.3 131.2 1002.7 131.8 999.8 130.9 996.9 130.4 994.0 129.9 991.0" stroke="#ff3c26" stroke-width="1.0" stroke-opacity="0.4" fill="none"/><path d="M128.7 1072.6Q130.0 1075.3 129.0 1078.2T127.8 1080.9 127.9 1083.9M133.3 1078.7Q132.7 1075.8 132.6 1072.8M131.3 1078.6Q133.6 1080.5 135.9 1082.4T136.4 1085.4 136.4 1088.4 137.6 1091.1M148.7 1099.8Q146.0 1101.1 143.0 1100.8T140.2 1101.8 137.6 1103.3 134.6 1103.3M153.3 1079.9Q155.2 1082.2 157.6 1084.0T159.3 1086.4 160.8 1089.0 163.4 1090.6 166.1 1091.9 167.8 1094.4 168.2 1097.3M143.0 1053.1Q143.6 1056.1 145.0 1058.7T146.7 1061.2 146.5 1064.2 145.4 1067.0 145.7 1069.9 144.7 1072.8" stroke="#ff3c26" stroke-width="1.0" stroke-opacity="0.5" fill="none"/><path d="M148.7 1052.0Q148.3 1049.1 146.2 1046.9T144.7 1044.3 141.8 1043.7 138.8 1044.1 136.0 1043.2 134.3 1040.7 131.7 1039.2M125.5 1016.8Q127.9 1015.0 130.9 1014.4M139.2 1058.8Q136.8 1057.0 134.3 1055.4T132.2 1053.3 132.1 1050.3 130.9 1047.5 129.6 1044.8 128.1 1042.2M123.9 1064.1Q126.8 1064.5 129.8 1065.1T132.3 1066.7 133.9 1069.3 136.1 1071.3 139.1 1071.7 142.0 1072.2M108.7 1044.7Q109.9 1041.9 110.9 1039.1T111.6 1036.2 111.4 1033.2 110.4 1030.4 108.5 1028.1M162.7 1070.0Q164.2 1072.6 166.1 1074.9T169.1 1075.1 172.0 1075.6 175.0 1075.1 177.8 1074.0 180.8 1074.3 183.8 1074.5 186.6 1075.4" stroke="#ff3c26" stroke-width="1.0" stroke-opacity="0.6" fill="none"/><path d="M134.1 1053.8Q132.5 1051.3 129.8 1049.8T127.5 1047.9 127.4 1044.9 130.0 1043.4 132.4 1041.6 133.1 1038.7 133.3 1035.7M179.5 1099.5Q177.7 1097.1 175.7 1094.9T175.0 1091.9M139.0 1054.7Q141.0 1056.9 143.7 1058.3T146.3 1059.7" stroke="#ff3c26" stroke-width="1.0" stroke-opacity="0.7" fill="none"/><path d="M151.2 1016.0Q153.9 1014.6 156.4 1013.0T158.0 1010.5M136.8 1000.2Q137.8 1003.0 136.4 1005.7T137.0 1008.6 138.5 1011.2 141.1 1012.7M129.4 1055.3Q127.6 1053.0 125.0 1051.5T122.0 1051.3 119.3 1050.0 116.6 1051.4M150.4 1073.9Q147.9 1075.6 145.4 1077.2T142.8 1078.7 140.0 1079.9 137.1 1080.7 134.2 1081.4 131.9 1083.3M148.4 1075.5Q148.2 1078.5 147.2 1081.4T146.9 1084.3 146.1 1087.2 144.2 1089.6 141.9 1091.4 140.1 1093.9 138.3 1096.3 135.9 1098.1M118.2 1040.6Q116.8 1037.9 115.3 1035.3M147.3 1069.8Q144.3 1069.5 141.3 1069.2T138.4 1069.9M154.5 1079.7Q154.3 1082.7 152.9 1085.4T151.8 1088.2 150.2 1090.7 148.3 1093.0 145.5 1094.2M191.7 1111.6Q188.8 1112.5 185.9 1113.0T183.1 1112.0 181.3 1109.5 178.6 1108.2 175.6 1107.9 172.7 1108.5" stroke="#ff3c26" stroke-width="1.1" stroke-opacity="0.3" fill="none"/><path d="M175.9 1094.8Q172.9 1094.4 170.0 1095.2T167.0 1095.2M151.5 1082.6Q154.1 1081.0 156.4 1079.1T157.6 1076.4 159.0 1073.7 159.3 1070.7 160.2 1067.8M158.2 1085.8Q156.7 1083.2 154.5 1081.2T153.7 1078.4 154.1 1075.4M143.5 1066.3Q141.1 1068.1 138.8 1070.0T136.0 1071.2" stroke="#ff3c26" stroke-width="1.1" stroke-opacity="0.4" fill="none"/><path d="M134.6 1038.4Q137.6 1038.1 140.2 1039.6T143.0 1038.6M151.3 1034.3Q148.3 1034.8 145.8 1036.5T142.8 1036.3 139.9 1035.6 137.0 1035.2 134.0 1034.6 131.3 1033.4M135.7 1052.8Q135.8 1055.8 135.4 1058.8T134.7 1061.7 135.3 1064.7 135.5 1067.6 135.9 1070.6M146.9 1080.1Q149.7 1079.2 152.7 1078.9T155.7 1078.4 158.2 1080.0 159.0 1082.9M151.2 1052.0Q152.1 1049.2 152.8 1046.3T155.5 1044.8 157.8 1043.0 159.6 1040.5M166.3 1095.6Q167.6 1092.9 170.1 1091.2" stroke="#ff3c26" stroke-width="1.1" stroke-opacity="0.5" fill="none"/><path d="M164.1 1081.9Q166.7 1080.4 169.7 1080.3T172.7 1080.1 175.5 1079.3 177.6 1077.2 180.0 1075.3 182.8 1074.4 185.4 1072.9M156.2 1066.9Q156.3 1063.9 155.6 1061.0T154.1 1058.4 152.5 1055.9 150.5 1053.6 148.2 1051.7M143.0 1045.8Q145.9 1044.8 148.9 1045.1T151.3 1046.8 154.1 1048.1 157.0 1048.6 159.9 1049.5M146.8 1086.0Q144.6 1088.0 142.5 1090.1T140.7 1092.6 139.3 1095.2 137.4 1097.6 136.4 1100.4 134.7 1102.9 133.5 1105.6M121.1 1061.7Q123.3 1063.8 125.7 1065.5T127.5 1068.0 129.0 1070.5 129.0 1073.5M132.9 1030.9Q131.7 1028.1 130.0 1025.7T128.5 1023.0 128.0 1020.1 127.1 1017.2M157.1 1066.0Q154.4 1067.2 152.3 1069.4T151.2 1072.2 150.5 1075.1M131.1 1059.1Q129.4 1056.6 126.9 1055.0T124.0 1054.2 121.1 1053.7 118.1 1053.2 115.1 1052.9" stroke="#ff3c26" stroke-width="1.1" stroke-opacity="0.6" fill="none"/><path d="M140.8 1049.2Q141.5 1052.2 141.7 1055.1T142.0 1058.1 142.9 1061.0M132.1 1034.0Q129.2 1033.0 127.6 1030.5M190.1 1083.9Q187.4 1085.2 185.7 1087.7T184.9 1090.5 183.9 1093.4 184.3 1096.4 186.4 1098.4 189.1 1099.8 192.0 1100.6M128.7 1080.6Q131.0 1082.5 133.7 1083.8T136.7 1084.5M157.6 1099.4Q154.7 1100.0 151.7 1100.6T148.8 1101.2 145.9 1101.9 143.1 1100.8 140.1 1100.3 137.4 1099.1 134.7 1100.4" stroke="#ff3c26" stroke-width="1.1" stroke-opacity="0.7" fill="none"/><path d="M143.8 1032.7Q146.6 1031.6 149.6 1031.9T152.6 1031.6 155.6 1031.8 158.1 1033.5 161.0 1034.1 163.1 1036.3 165.3 1038.3M123.4 1042.2Q126.1 1043.5 128.7 1045.0T131.7 1045.0 134.6 1044.4 137.6 1044.5 140.6 1044.0 143.0 1042.2 144.3 1039.5M147.2 1018.3Q144.5 1019.5 142.4 1021.7T139.4 1022.4M146.6 1028.9Q143.7 1028.3 140.7 1027.7T138.1 1026.1M137.3 1067.7Q136.6 1064.8 135.5 1062.0T133.9 1059.5 132.2 1057.0 129.9 1055.1 127.2 1056.3 125.7 1058.9 124.4 1061.6M142.4 1016.3Q140.1 1014.3 137.1 1014.0T134.6 1012.5 133.0 1009.9 133.0 1006.9 130.9 1004.7 128.2 1003.5 125.2 1003.5M151.3 1096.8Q149.4 1094.4 149.5 1091.4M148.0 1008.1Q147.2 1011.0 146.1 1013.8T143.8 1015.7 140.8 1015.7 138.4 1017.5 137.5 1020.4 136.7 1023.3M168.8 1110.6Q170.8 1108.3 171.2 1105.3T170.4 1102.4 167.5 1101.4M155.0 1075.5Q154.6 1078.5 154.9 1081.5T154.4 1084.4 153.0 1087.1 152.3 1090.0 150.7 1092.5M138.8 1068.9Q135.8 1069.1 132.9 1070.0T129.9 1070.0 127.0 1070.4 124.0 1070.6M145.7 1073.2Q143.4 1075.1 140.5 1075.9T137.8 1077.3 135.3 1079.0 133.7 1081.5 131.9 1083.9 130.7 1086.7M131.3 1053.3Q129.8 1050.7 128.6 1048.0T129.1 1045.0 129.3 1042.0" stroke="#ff3c26" stroke-width="1.2" stroke-opacity="0.3" fill="none"/><path d="M126.2 1029.1Q124.7 1031.8 123.2 1034.3M122.7 1046.5Q125.2 1044.9 128.2 1044.4T131.1 1043.8 134.0 1044.6 136.6 1046.2M147.9 1054.3Q147.8 1051.3 149.8 1049.1T151.2 1046.4M169.1 1101.1Q171.7 1099.6 174.0 1097.7T176.8 1096.6 179.8 1096.3 182.7 1095.6 185.2 1097.3 187.7 1098.9 189.8 1101.0" stroke="#ff3c26" stroke-width="1.2" stroke-opacity="0.4" fill="none"/><path d="M157.7 1057.2Q154.7 1057.4 152.3 1055.6T149.3 1055.3 146.3 1054.8 143.5 1053.8 141.3 1051.8 139.8 1049.1 139.5 1046.2M131.4 1055.7Q129.8 1053.1 129.0 1050.2T130.5 1047.7 132.0 1045.1 133.3 1042.4 133.5 1039.4M124.0 1056.7Q121.0 1056.2 118.1 1055.6T115.3 1054.4 112.5 1053.4M134.3 1002.5Q137.1 1001.3 139.7 999.8T142.7 999.8 145.4 1001.0 148.2 1002.1 150.7 1003.8 150.6 1006.8M139.0 1056.5Q139.9 1059.3 141.3 1061.9T142.4 1064.8 142.6 1067.8 141.8 1070.7 139.5 1072.6 137.7 1075.0M157.6 1081.7Q160.1 1083.4 163.1 1083.5T166.0 1084.2M155.6 1054.3Q158.5 1054.8 161.5 1055.0T164.4 1054.1 167.3 1054.8 169.8 1056.5M133.6 1041.9Q135.9 1043.8 137.7 1046.2T140.6 1047.2 143.5 1047.5 146.3 1046.2 148.3 1044.1 150.9 1042.5" stroke="#ff3c26" stroke-width="1.2" stroke-opacity="0.5" fill="none"/><path d="M143.3 1040.4Q144.2 1043.3 144.3 1046.3T145.7 1048.9 147.8 1051.0 150.3 1052.7M121.0 1056.6Q118.0 1056.1 115.3 1054.7T113.1 1052.7 110.5 1051.2M169.2 1086.2Q167.1 1088.3 165.9 1091.1T165.4 1094.1 165.8 1097.0 167.0 1099.8M132.6 1027.5Q131.4 1024.8 128.7 1023.5" stroke="#ff3c26" stroke-width="1.2" stroke-opacity="0.6" fill="none"/><path d="M129.2 1019.3Q127.4 1016.9 126.4 1014.0T125.5 1011.2 124.9 1008.2 124.4 1005.3 124.0 1002.3M159.7 1060.5Q162.3 1062.0 164.8 1063.6T167.6 1064.9 170.4 1065.9 173.3 1066.6M151.4 1103.9Q151.9 1106.9 150.9 1109.7T148.2 1111.0 146.2 1113.3M159.3 1077.7Q156.4 1077.2 153.4 1077.8T150.4 1078.0 147.4 1078.3 146.2 1081.1 145.2 1083.9 143.7 1086.5" stroke="#ff3c26" stroke-width="1.2" stroke-opacity="0.7" fill="none"/><path d="M141.1 1070.2Q139.6 1067.5 138.3 1064.8T137.8 1061.9M138.8 1033.2Q139.3 1036.2 140.7 1038.9T141.1 1041.8 142.0 1044.7 143.5 1047.3 144.8 1050.0M155.6 1022.4Q154.7 1019.6 153.7 1016.7T154.2 1013.8 155.6 1011.1 155.8 1008.1 155.9 1005.1 156.8 1002.3M121.6 1042.6Q120.2 1039.9 118.4 1037.5T116.5 1035.3M162.4 1081.9Q160.6 1084.3 160.8 1087.3T162.6 1089.7" stroke="#ff3c26" stroke-width="1.3" stroke-opacity="0.3" fill="none"/><path d="M148.5 1098.3Q148.7 1095.3 149.5 1092.4T148.6 1089.5M176.5 1082.6Q176.0 1079.7 175.8 1076.7T176.1 1073.7M132.9 1030.9Q135.9 1030.7 138.7 1029.9T141.6 1029.1M113.1 1080.1Q112.5 1083.1 112.8 1086.1T113.7 1088.9" stroke="#ff3c26" stroke-width="1.3" stroke-opacity="0.4" fill="none"/><path d="M150.1 1005.2Q149.2 1002.3 149.1 999.3T148.1 996.5 147.3 993.6 146.9 990.7 147.6 987.7 147.3 984.8 146.1 982.0 144.1 979.8M143.0 1018.7Q140.0 1019.1 137.0 1018.7T134.1 1019.5 131.5 1020.9M134.6 1027.1Q131.9 1025.8 129.6 1023.9M133.2 1032.9Q132.4 1030.0 130.6 1027.5" stroke="#ff3c26" stroke-width="1.3" stroke-opacity="0.5" fill="none"/><path d="M154.6 1036.6Q154.6 1033.6 156.5 1031.2T159.2 1029.9 161.5 1028.0 164.1 1026.5 167.1 1026.4 169.8 1027.8M170.3 1080.8Q173.2 1079.8 175.7 1078.2T178.3 1076.7 181.3 1076.3 184.2 1076.7 187.2 1076.3 190.2 1076.0 193.0 1075.1M146.4 1045.6Q143.4 1046.2 140.7 1045.0T138.2 1043.3 137.9 1040.4 138.2 1037.4 140.2 1035.2 141.4 1032.4 143.7 1030.5 144.4 1027.6M122.3 1098.1Q119.6 1097.0 116.6 1096.2T114.3 1098.1 111.3 1098.5 108.6 1097.1" stroke="#ff3c26" stroke-width="1.3" stroke-opacity="0.6" fill="none"/><path d="M128.2 1005.9Q131.2 1006.0 134.1 1006.9T137.1 1006.9 139.7 1008.4 139.8 1011.4 141.1 1014.1M141.0 1034.4Q144.0 1034.4 147.0 1034.5T149.8 1035.4 152.0 1033.4 155.0 1033.0 157.8 1031.9 160.8 1031.6" stroke="#ff3c26" stroke-width="1.3" stroke-opacity="0.7" fill="none"/>
<path d="M164.6 1138.4Q166.2 1135.4 166.4 1132.0T166.8 1128.7 167.3 1125.3 169.2 1122.5 170.3 1119.2M163.8 1119.0Q162.5 1115.8 160.6 1113.1T160.7 1109.7 157.7 1107.9 154.6 1106.5 154.1 1103.2M156.2 1113.5Q152.9 1114.3 149.5 1114.5T146.2 1113.8 143.1 1112.3 139.8 1111.6M166.4 1110.8Q166.5 1114.2 167.5 1117.4T167.3 1120.8 166.9 1124.1 166.7 1127.5 165.0 1130.5 164.6 1133.8M166.0 1119.8Q164.0 1122.5 164.3 1125.9T165.1 1129.2" stroke="#f43422" stroke-width="1.0" stroke-opacity="0.4" fill="none"/><path d="M171.1 1144.8Q168.5 1142.6 167.1 1139.5T165.7 1136.4 164.4 1133.3 162.3 1130.5 160.6 1127.6 158.2 1125.2 156.4 1122.3M164.9 1135.3Q163.4 1138.3 161.7 1141.2T161.9 1144.6 162.5 1148.0 162.5 1151.4 163.0 1154.7M181.1 1136.7Q178.2 1135.0 174.9 1135.7T171.6 1136.5 168.3 1137.2 165.5 1139.1 162.3 1140.2 158.9 1140.7" stroke="#f43422" stroke-width="1.0" stroke-opacity="0.5" fill="none"/><path d="M192.6 1144.5Q195.6 1146.1 198.9 1145.4T202.0 1143.9 205.2 1142.7 208.2 1141.0 211.5 1140.8" stroke="#f43422" stroke-width="1.0" stroke-opacity="0.6" fill="none"/><path d="M187.1 1139.2Q185.1 1136.4 185.4 1133.0T185.4 1129.6M203.8 1124.7Q207.1 1125.6 208.6 1128.7M161.8 1109.9Q161.7 1113.3 162.6 1116.5T164.3 1119.5 165.9 1122.5 168.2 1124.9 170.9 1127.0 173.9 1128.6M178.8 1105.8Q180.9 1103.2 183.4 1100.8M186.4 1148.8Q189.6 1147.7 192.7 1149.1T195.8 1150.3 199.1 1151.2M181.5 1122.0Q180.9 1118.7 179.6 1115.5T177.9 1112.6 176.6 1109.4 175.2 1106.4 173.5 1103.4 171.9 1100.4" stroke="#f43422" stroke-width="1.1" stroke-opacity="0.4" fill="none"/><path d="M180.4 1119.9Q181.6 1123.1 181.4 1126.5T180.2 1129.7M191.3 1129.7Q190.6 1133.0 191.0 1136.4M189.8 1135.0Q186.9 1136.8 183.7 1137.7T180.3 1137.4 176.9 1137.4M166.0 1133.7Q165.4 1137.1 164.6 1140.4M169.7 1127.8Q168.5 1124.7 168.1 1121.3T168.4 1117.9 167.5 1114.6 167.2 1111.2 165.2 1108.5" stroke="#f43422" stroke-width="1.1" stroke-opacity="0.5" fill="none"/><path d="M145.3 1140.9Q146.0 1137.5 146.7 1134.2T149.6 1132.4 153.0 1132.0M176.3 1133.4Q179.7 1133.6 182.9 1132.3T185.9 1130.8 187.3 1127.7 188.8 1124.7 190.6 1121.8 192.9 1119.3 195.6 1117.3M164.5 1116.3Q167.2 1118.4 170.5 1119.4T173.3 1121.2 176.7 1121.8 179.9 1123.0 182.1 1125.6M189.1 1142.7Q190.8 1139.7 191.9 1136.5T191.6 1133.1 191.8 1129.8 192.7 1126.5 194.1 1123.4M158.1 1119.8Q159.7 1122.8 162.2 1125.1T165.4 1126.1 168.3 1127.9 171.3 1129.5 174.7 1129.8 178.0 1130.6" stroke="#f43422" stroke-width="1.1" stroke-opacity="0.6" fill="none"/><path d="M193.4 1137.3Q190.5 1135.6 187.3 1134.5T183.9 1134.5 180.5 1134.3 177.1 1133.5M183.9 1109.6Q183.4 1106.2 183.0 1102.8T182.8 1099.4 181.6 1096.2 179.3 1093.8 176.4 1092.0M184.9 1158.2Q186.4 1161.2 187.1 1164.6T185.7 1167.7 184.5 1170.8 183.9 1174.2 183.8 1177.6 183.2 1180.9M189.5 1128.0Q187.6 1125.3 185.4 1122.6T182.8 1120.4 179.8 1118.9 177.6 1116.3 176.0 1113.3 175.9 1109.9" stroke="#f43422" stroke-width="1.2" stroke-opacity="0.4" fill="none"/><path d="M150.2 1119.0Q147.8 1116.6 146.6 1113.4T147.1 1110.0 148.7 1107.0 150.4 1104.1 153.6 1102.9 156.8 1101.9 159.7 1100.1 163.0 1099.4M166.3 1144.1Q163.3 1145.8 161.2 1148.4T161.3 1151.8 161.0 1155.2M155.8 1146.3Q153.2 1148.4 150.2 1150.1T146.9 1151.1 144.0 1152.8 140.6 1152.8M161.5 1121.0Q162.7 1124.1 165.0 1126.7T166.0 1129.9 165.9 1133.3 167.0 1136.6M178.2 1156.3Q177.5 1159.6 178.8 1162.7T180.3 1165.8 183.2 1167.4 185.1 1170.3M139.1 1116.6Q136.1 1115.0 133.0 1113.7T129.9 1112.3 126.6 1111.3 123.4 1110.1 120.3 1108.9 116.9 1109.2 113.5 1109.5" stroke="#f43422" stroke-width="1.2" stroke-opacity="0.5" fill="none"/><path d="M190.6 1112.1Q192.8 1109.4 195.4 1107.2M154.6 1115.7Q157.6 1117.2 160.8 1118.2T164.0 1119.4 165.9 1122.2 168.3 1124.6M173.8 1127.0Q175.6 1124.2 178.7 1122.6T181.5 1120.8 183.7 1118.1 186.3 1116.0 188.5 1113.4 189.8 1110.2 191.3 1107.2M166.9 1111.5Q170.1 1110.3 172.8 1108.2T174.3 1105.2 175.9 1102.2M179.7 1121.1Q183.1 1120.7 186.5 1120.4T189.6 1121.6 191.6 1124.4 193.6 1127.2 195.9 1129.6 198.5 1131.8 201.5 1133.4M194.3 1119.6Q191.0 1120.5 187.8 1121.7T184.8 1123.3 181.6 1124.4M192.3 1146.6Q191.4 1143.3 189.8 1140.3T187.4 1138.0 184.5 1136.1 181.1 1136.5" stroke="#f43422" stroke-width="1.2" stroke-opacity="0.6" fill="none"/><path d="M159.5 1117.5Q157.1 1119.8 154.4 1122.0M175.8 1145.1Q172.6 1144.2 169.3 1143.1T166.1 1144.0 163.1 1145.6 160.3 1147.6 157.8 1150.0 156.6 1153.1M172.6 1155.6Q170.2 1158.0 168.5 1161.0T170.3 1163.9M202.4 1158.0Q205.7 1157.5 209.0 1158.5T212.4 1158.6 215.8 1158.9 218.9 1160.1 221.6 1162.3 222.3 1165.6M166.3 1099.5Q166.6 1096.1 166.9 1092.7M187.0 1131.6Q190.0 1133.2 193.2 1134.2T196.6 1134.7 199.6 1136.3" stroke="#f43422" stroke-width="1.2" stroke-opacity="0.7" fill="none"/><path d="M165.7 1129.7Q162.4 1128.7 159.1 1128.2T155.9 1127.1" stroke="#f43422" stroke-width="1.3" stroke-opacity="0.4" fill="none"/><path d="M160.8 1126.9Q161.2 1130.3 161.6 1133.6T162.4 1136.9M151.3 1116.3Q148.1 1117.5 144.7 1117.0T141.8 1118.6 139.3 1121.0 136.5 1123.0 134.3 1125.6 131.7 1127.7" stroke="#f43422" stroke-width="1.3" stroke-opacity="0.5" fill="none"/><path d="M174.4 1131.5Q171.5 1133.2 168.5 1134.8T165.4 1136.1 162.7 1138.2M175.1 1133.3Q176.9 1136.2 178.8 1139.1T179.5 1142.4M164.3 1122.5Q165.6 1119.3 165.7 1116.0T167.2 1112.9 169.0 1110.0M170.4 1125.5Q171.7 1122.4 172.9 1119.2T174.9 1116.5 176.0 1113.2 177.3 1110.1 177.7 1106.7 177.7 1103.3 177.2 1099.9M182.0 1120.6Q179.7 1123.1 178.0 1126.0T177.1 1129.3 177.5 1132.6 176.1 1135.7" stroke="#f43422" stroke-width="1.3" stroke-opacity="0.6" fill="none"/><path d="M180.6 1139.0Q181.5 1135.7 180.9 1132.4M188.8 1133.4Q192.2 1134.0 195.6 1133.8" stroke="#f43422" stroke-width="1.3" stroke-opacity="0.7" fill="none"/><path d="M179.6 1128.1Q178.1 1131.2 176.7 1134.2T175.7 1137.5 173.8 1140.3 171.8 1143.1M178.1 1131.6Q176.2 1128.8 173.0 1127.7T170.1 1125.9" stroke="#f43422" stroke-width="1.4" stroke-opacity="0.4" fill="none"/><path d="M158.7 1125.9Q155.3 1125.6 152.0 1126.5M170.5 1102.0Q169.8 1105.4 170.0 1108.8T171.9 1111.6M153.5 1118.4Q150.1 1118.6 147.1 1120.2T143.9 1121.3 142.0 1124.1 139.6 1126.6 137.0 1128.8 134.0 1130.4" stroke="#f43422" stroke-width="1.4" stroke-opacity="0.5" fill="none"/><path d="M165.5 1119.9Q167.4 1117.1 169.0 1114.1T171.1 1111.4 173.5 1109.1 176.9 1108.7 180.3 1109.4M171.0 1139.2Q173.3 1141.8 176.7 1142.1T179.9 1141.0 183.0 1142.4 185.8 1144.4 188.8 1146.0 190.7 1148.7M187.5 1132.3Q186.3 1135.5 183.3 1137.1T180.7 1139.2 177.5 1140.5 175.5 1143.3 172.9 1145.4M200.1 1136.0Q203.2 1134.5 205.5 1132.0T207.2 1129.1 210.1 1127.3 213.3 1126.2 216.7 1126.8 219.8 1128.2 222.9 1129.6M195.7 1125.3Q198.8 1126.5 202.2 1126.7T205.6 1126.5 209.0 1126.9 211.7 1129.0 214.4 1131.1 216.6 1133.7 219.3 1135.8M195.2 1143.7Q193.9 1146.9 194.4 1150.2T194.2 1153.6 194.4 1157.0 196.3 1159.8 196.8 1163.2 197.3 1166.6" stroke="#f43422" stroke-width="1.4" stroke-opacity="0.6" fill="none"/><path d="M162.9 1151.8Q164.6 1148.9 167.5 1147.1T170.8 1146.4 174.0 1147.5" stroke="#f43422" stroke-width="1.4" stroke-opacity="0.7" fill="none"/>
</g><g stroke-linecap="round" filter="url(#s1)">
<path d="M94.1 1133.2Q95.2 1136.6 94.9 1140.2T93.9 1143.7 91.9 1146.6 90.1 1149.8 87.7 1152.4 84.6 1154.2 81.1 1155.0 77.5 1155.3" stroke="#ee3020" stroke-width="1.0" stroke-opacity="0.4" fill="none"/><path d="M58.3 1090.6Q54.9 1091.9 51.3 1091.7T47.8 1091.1 44.6 1089.3 41.7 1087.3 39.7 1084.3 37.2 1081.7" stroke="#ee3020" stroke-width="1.0" stroke-opacity="0.5" fill="none"/><path d="M10.9 1066.8Q9.8 1070.2 8.8 1073.6T7.6 1077.0 5.8 1080.2 3.8 1083.1 1.9 1086.2 1.9 1089.8 1.2 1093.3 0.3 1096.8 -0.6 1100.3 -3.2 1102.8 -6.2 1104.7" stroke="#ee3020" stroke-width="1.0" stroke-opacity="0.6" fill="none"/><path d="M40.0 1064.2Q43.3 1062.7 46.9 1063.1T50.5 1063.0 54.1 1063.0 57.6 1062.1 60.8 1060.4 63.6 1058.2 63.9 1054.6" stroke="#ee3020" stroke-width="1.1" stroke-opacity="0.3" fill="none"/><path d="M28.5 1066.5Q32.0 1065.8 35.5 1065.1T39.1 1064.5 42.6 1063.5M65.3 1062.2Q61.7 1062.7 58.2 1063.2T54.8 1064.5 51.5 1065.9 48.0 1066.5 44.4 1065.9 40.8 1065.9M46.0 1107.9Q49.5 1108.5 52.9 1107.4T56.3 1106.1 59.9 1106.2 63.5 1106.7 67.0 1106.3M48.9 1095.7Q51.6 1093.3 54.6 1091.3T56.7 1088.4 59.2 1085.8 62.3 1084.0 65.1 1081.7 67.0 1078.7 69.0 1075.6 71.0 1072.7 72.4 1069.3M9.4 1089.9Q13.0 1089.5 15.8 1087.3T19.4 1087.6 23.0 1087.2 26.6 1087.4 30.2 1087.4" stroke="#ee3020" stroke-width="1.1" stroke-opacity="0.4" fill="none"/><path d="M62.1 1100.1Q63.2 1096.6 62.8 1093.0T63.7 1089.5 63.2 1086.0 63.2 1082.4 63.5 1078.8 63.7 1075.2 62.0 1072.0 62.0 1068.4 61.9 1064.8M121.4 1133.1Q118.0 1131.8 114.6 1130.6T111.9 1128.3 109.7 1125.4 107.5 1122.6M73.6 1094.5Q71.5 1091.6 69.2 1088.8T67.0 1086.0 65.4 1082.8 63.9 1079.5 62.7 1076.1 60.4 1073.3 58.2 1070.4 54.9 1069.0" stroke="#ee3020" stroke-width="1.1" stroke-opacity="0.5" fill="none"/><path d="M23.6 1077.0Q23.5 1080.6 22.4 1084.0T21.2 1087.4M69.8 1071.7Q66.3 1072.6 63.5 1074.8T60.9 1077.4" stroke="#ee3020" stroke-width="1.2" stroke-opacity="0.3" fill="none"/><path d="M91.9 1085.8Q89.2 1088.2 87.0 1091.0T86.2 1094.5 86.1 1098.1 84.7 1101.5 83.2 1104.7 81.4 1107.8M71.1 1067.6Q71.0 1071.2 70.5 1074.8T68.7 1077.9 66.0 1080.2 62.5 1081.2 58.9 1081.5M55.7 1065.9Q52.7 1064.0 50.3 1061.3T46.9 1060.2 44.3 1057.7 42.2 1054.8 39.2 1052.7 35.9 1051.4 32.6 1049.9" stroke="#ee3020" stroke-width="1.2" stroke-opacity="0.4" fill="none"/><path d="M104.6 1077.8Q101.0 1077.7 97.5 1076.9T94.1 1078.2M48.4 1060.7Q45.1 1059.3 41.8 1058.0T38.5 1056.5 35.1 1055.2M111.2 1130.0Q112.3 1133.4 113.9 1136.6T117.0 1138.3 120.5 1139.2 123.6 1141.0 126.4 1143.3 129.8 1144.6 133.4 1144.2 136.9 1143.7 140.5 1143.5M63.6 1104.9Q66.5 1102.8 69.4 1100.6T71.0 1097.4 74.0 1095.4 77.3 1094.0 80.8 1093.0 84.2 1094.1 87.4 1095.8 90.7 1097.2 93.9 1098.9 97.2 1100.3 100.3 1102.1" stroke="#ee3020" stroke-width="1.2" stroke-opacity="0.5" fill="none"/><path d="M29.1 1066.9Q32.7 1067.2 36.3 1067.4T39.5 1069.0 42.6 1070.7 46.2 1071.2 49.6 1070.0 52.7 1068.1 55.3 1065.7 58.9 1065.1 62.5 1064.5 65.0 1062.0M102.3 1102.5Q100.1 1105.4 99.1 1108.9T97.3 1112.0" stroke="#ee3020" stroke-width="1.2" stroke-opacity="0.6" fill="none"/><path d="M109.3 1102.2Q112.8 1101.2 116.2 1100.2T119.6 1098.8 122.5 1096.7 125.6 1094.8 128.9 1093.6 132.5 1093.6 136.0 1092.7M102.4 1116.0Q104.5 1118.9 107.6 1120.8T110.9 1122.1 114.2 1123.6" stroke="#ee3020" stroke-width="1.3" stroke-opacity="0.3" fill="none"/><path d="M62.2 1074.1Q62.5 1077.7 63.3 1081.2T63.7 1084.8 63.2 1088.4 62.5 1091.9 63.6 1095.3 65.0 1098.6 65.4 1102.2 66.4 1105.7 66.6 1109.3M64.5 1074.3Q66.6 1071.3 67.5 1067.8T67.3 1064.2 67.1 1060.7 66.4 1057.1 65.5 1053.6 67.2 1050.5 69.6 1047.8 72.9 1046.3 76.2 1045.1 79.7 1044.0 83.0 1042.7M25.4 1070.6Q22.1 1072.1 18.5 1071.6T14.9 1071.0 11.7 1069.4 8.5 1067.8 5.2 1066.3 1.6 1066.0 -2.0 1066.1 -5.5 1066.8 -7.7 1069.6" stroke="#ee3020" stroke-width="1.3" stroke-opacity="0.4" fill="none"/><path d="M6.8 1090.4Q9.0 1093.3 12.3 1094.6T15.3 1096.6M45.1 1060.7Q48.5 1061.7 51.9 1062.9T55.5 1062.9 59.0 1061.9M105.7 1105.1Q106.6 1101.6 107.4 1098.1T107.5 1094.5 107.3 1090.9 107.8 1087.4 109.6 1084.2 112.0 1081.5 112.7 1078.0 115.6 1075.8M23.6 1058.4Q27.0 1059.4 30.6 1059.8T34.1 1058.9 37.5 1057.7 41.1 1057.5 44.4 1056.1 47.7 1054.6 50.8 1052.7 53.3 1050.2M104.7 1110.7Q107.4 1108.3 110.0 1105.8T112.0 1102.8" stroke="#ee3020" stroke-width="1.3" stroke-opacity="0.5" fill="none"/><path d="M61.1 1083.3Q63.4 1080.5 64.6 1077.1T64.2 1073.5 63.1 1070.1M27.0 1100.7Q30.4 1099.7 33.7 1098.1T36.3 1095.7 39.4 1093.8 42.3 1091.7 44.8 1089.1 48.1 1087.6 50.8 1085.2" stroke="#ee3020" stroke-width="1.4" stroke-opacity="0.4" fill="none"/><path d="M83.3 1079.8Q80.3 1081.7 76.9 1082.9T73.4 1083.4 69.9 1084.5 66.5 1085.4 63.4 1087.3 60.3 1089.2 57.2 1091.0" stroke="#ee3020" stroke-width="1.4" stroke-opacity="0.5" fill="none"/>
<path d="M157.43 1095.23C158.2 1095.76 160.17 1098.04 162.03 1098.45C163.89 1098.86 167 1096.78 168.61 1097.7C170.22 1098.62 170.08 1103.03 171.68 1103.97C173.28 1104.9 176.51 1102.6 178.21 1103.33C179.91 1104.06 180.5 1107.02 181.9 1108.36C183.3 1109.7 185 1110.43 186.6 1111.37C188.2 1112.31 190.68 1113.56 191.5 1113.99" stroke="#f03220" stroke-width="1.1" stroke-opacity="0.49" fill="none"/><path d="M161.06 1080.27C161.77 1081.38 163.18 1086.18 165.34 1086.95C167.5 1087.71 171.81 1084.17 174 1084.87C176.19 1085.56 176.83 1089.37 178.49 1091.13C180.15 1092.89 182.35 1093.57 183.97 1095.42C185.58 1097.27 186.4 1100.7 188.18 1102.23C189.96 1103.75 192.26 1104.22 194.63 1104.57C197 1104.91 201.09 1104.35 202.39 1104.3" stroke="#f03220" stroke-width="1.1" stroke-opacity="0.36" fill="none"/><path d="M147.98 1100.58C149.28 1101.02 153.03 1102.66 155.79 1103.23C158.55 1103.81 162 1103 164.54 1104.02C167.08 1105.04 168.42 1108.44 171.01 1109.35C173.61 1110.26 177.22 1109.12 180.09 1109.49C182.95 1109.86 185.7 1110.44 188.19 1111.57C190.67 1112.69 192.53 1115.07 195 1116.23C197.47 1117.39 201.66 1118.15 202.99 1118.53" stroke="#f03220" stroke-width="1.1" stroke-opacity="0.38" fill="none"/><path d="M168.07 1085.4C168.61 1086.23 169.68 1089.84 171.3 1090.42C172.93 1091 176.23 1088.22 177.82 1088.89C179.4 1089.55 179.34 1093.5 180.8 1094.41C182.26 1095.32 185.11 1093.44 186.56 1094.36C188.02 1095.29 188.02 1099.12 189.52 1099.94C191.03 1100.76 193.86 1098.91 195.6 1099.27C197.33 1099.63 199.21 1101.63 199.93 1102.1" stroke="#f03220" stroke-width="1.1" stroke-opacity="0.39" fill="none"/><path d="M155.81 1104.83C156.51 1105.44 158.38 1107.76 160.02 1108.52C161.66 1109.28 163.84 1108.95 165.66 1109.36C167.48 1109.76 169.21 1110.35 170.93 1110.94C172.65 1111.53 174.06 1112.76 176.01 1112.91C177.95 1113.07 180.77 1111.46 182.59 1111.86C184.42 1112.25 185.44 1114.25 186.93 1115.3C188.42 1116.36 190.77 1117.72 191.54 1118.21" stroke="#f03220" stroke-width="1.1" stroke-opacity="0.55" fill="none"/><path d="M166.91 1093.74C167.66 1094.35 170.07 1095.93 171.44 1097.44C172.81 1098.95 173.78 1101.27 175.14 1102.81C176.5 1104.35 178.45 1104.69 179.59 1106.68C180.72 1108.66 180.75 1112.86 181.94 1114.74C183.13 1116.62 185.46 1116.21 186.71 1117.96C187.96 1119.71 188.27 1123.35 189.45 1125.25C190.63 1127.15 193.07 1128.66 193.79 1129.34" stroke="#f03220" stroke-width="1.1" stroke-opacity="0.37" fill="none"/><path d="M163.24 1083.93C164.31 1084.54 167.84 1085.74 169.67 1087.59C171.5 1089.45 172.47 1093.01 174.2 1095.06C175.93 1097.12 178.22 1098.05 180.03 1099.94C181.84 1101.82 183.4 1104.21 185.09 1106.35C186.77 1108.5 188.33 1110.89 190.13 1112.79C191.94 1114.69 194.14 1115.79 195.91 1117.76C197.68 1119.73 199.95 1123.46 200.75 1124.6" stroke="#f03220" stroke-width="1.1" stroke-opacity="0.34" fill="none"/>
</g>
<g filter="url(#s07)"><circle cx="256.8" cy="913.8" r="2.6" fill="#ff4030" opacity="0.55"/><circle cx="179.3" cy="981.7" r="1.7" fill="#ff4030" opacity="0.55"/><circle cx="108.1" cy="1043.0" r="1.7" fill="#ff4030" opacity="0.55"/><circle cx="58.9" cy="1108.7" r="1.5" fill="#ff4030" opacity="0.55"/><circle cx="94.4" cy="1107.6" r="1.5" fill="#ff4030" opacity="0.55"/><circle cx="193.0" cy="1095.8" r="1.5" fill="#ff4030" opacity="0.55"/><circle cx="128.7" cy="1102.7" r="1.3" fill="#ff4030" opacity="0.55"/><circle cx="105.4" cy="1146.5" r="1.7" fill="#ff4030" opacity="0.55"/><circle cx="136.9" cy="1181.5" r="1.7" fill="#ff4030" opacity="0.55"/><circle cx="158.8" cy="990.4" r="1.1" fill="#ff4030" opacity="0.55"/><circle cx="167.0" cy="998.7" r="1.1" fill="#ff4030" opacity="0.55"/></g>
<ellipse cx="153.3" cy="1034.2" rx="3" ry="8" fill="#2a0204" opacity="0.7" transform="rotate(-25 153.3 1034.2)" filter="url(#s1)"/>
<path d="M284.59 1065.05C287.37 1063.58 301.92 1042.5 304.21 1058.04C306.5 1073.58 309.12 1181.88 304.21 1198.23C299.31 1214.59 268.04 1200.85 262.15 1198.23C256.27 1195.62 256.2 1179.56 253.74 1175.8C251.29 1172.04 243.42 1168.6 241.13 1165.99C238.84 1163.37 235.18 1156.48 234.12 1153.37C233.05 1150.26 232.18 1142.62 232.01 1139.35C231.85 1136.08 232.47 1128.28 232.71 1125.33C232.96 1122.39 233.3 1116.73 234.12 1114.12C234.93 1111.5 238.09 1105.03 239.72 1102.9C241.36 1100.77 245.85 1097.53 248.14 1095.89C250.43 1094.26 256.73 1090.84 259.35 1088.88C261.97 1086.92 268.11 1081.19 270.57 1079.07C273.02 1076.94 278.74 1072.29 280.38 1070.66C282.02 1069.02 281.81 1066.52 284.59 1065.05Z" fill="#440407" filter="url(#s1)"/>
<path d="M282.48 1062.52C280.52 1062.52 273.65 1064.29 270.57 1065.75C267.48 1067.21 262.34 1071.5 259.35 1073.46C256.36 1075.42 250.75 1078.88 248.14 1080.47C245.52 1082.06 241.78 1083.69 239.72 1085.38C237.67 1087.06 234.58 1090.94 232.71 1093.09C230.84 1095.24 227.11 1099.26 225.7 1101.5C224.3 1103.74 222.57 1107.85 222.2 1109.91C221.83 1111.97 223.18 1114.68 222.9 1116.92C222.62 1119.16 221.59 1123.93 220.1 1126.73C218.6 1129.54 213.74 1135.33 211.69 1137.95C209.63 1140.57 206.36 1143.56 204.68 1146.36C202.99 1149.16 200.75 1154.87 199.07 1158.98C197.39 1163.09 194.11 1171.97 192.06 1177.2C190 1182.44 173.93 1195.43 183.65 1198.23C193.37 1201.04 255.61 1201.22 264.96 1198.23C274.3 1195.24 256.92 1180.1 253.74 1175.8C250.57 1171.5 243.74 1168.98 241.13 1165.99C238.51 1163 235.33 1156.92 234.12 1153.37C232.9 1149.82 232.2 1143.09 232.01 1139.35C231.83 1135.61 232.43 1128.7 232.71 1125.33C232.99 1121.97 233.18 1117.11 234.12 1114.12C235.05 1111.13 237.85 1105.33 239.72 1102.9C241.59 1100.47 245.52 1097.76 248.14 1095.89C250.75 1094.02 256.36 1091.12 259.35 1088.88C262.34 1086.64 267.76 1081.5 270.57 1079.07C273.37 1076.64 278.42 1072.43 280.38 1070.66C282.34 1068.88 285.01 1066.83 285.29 1065.75C285.57 1064.67 284.45 1062.52 282.48 1062.52Z" fill="#120002" filter="url(#s1)"/>
</g>
<rect x="17" y="1156.9" width="47" height="12.8" fill="#fff"/>
<g transform="translate(570 140) scale(0.18359)" fill="none" stroke-linejoin="round" stroke-linecap="round">
<g>
<path d="M978 135C971.67 129.17 956.33 108.83 940 100C923.67 91.17 903.33 85.67 880 82C856.67 78.33 830 77 800 78C770 79 740 83.5 700 88C660 92.5 605 96.33 560 105C515 113.67 473.33 124.17 430 140C386.67 155.83 341.67 175 300 200C258.33 225 213.33 256.67 180 290C146.67 323.33 120.83 363.33 100 400C79.17 436.67 64.17 478.33 55 510C45.83 541.67 45 560 45 590C45 620 48.33 655 55 690C61.67 725 72.5 765 85 800C97.5 835 112.5 868.33 130 900C147.5 931.67 168.33 963.33 190 990C211.67 1016.67 235 1042.5 260 1060C285 1077.5 311.67 1087.5 340 1095C368.33 1102.5 400 1106.67 430 1105C460 1103.33 490 1094.17 520 1085C550 1075.83 585 1062.5 610 1050C635 1037.5 655 1022.5 670 1010C685 997.5 691.67 976.67 700 975C708.33 973.33 710 987.5 720 1000C730 1012.5 741.67 1035 760 1050C778.33 1065 806.67 1080.33 830 1090C853.33 1099.67 880 1103.83 900 1108C920 1112.17 937 1113 950 1115C963 1117 973.33 1119.17 978 1120" stroke="#7fc9dd" stroke-width="6"/>
<path d="M978 135V300" stroke="#9bd6e6" stroke-width="4"/>
<path d="M905 215C887.5 216.17 834.17 220.33 800 222C765.83 223.67 733.33 222.33 700 225C666.67 227.67 636.67 229.67 600 238C563.33 246.33 516.67 258 480 275C443.33 292 410 315.83 380 340C350 364.17 319.67 391.67 300 420C280.33 448.33 270.33 480 262 510C253.67 540 251.17 571.67 250 600C248.83 628.33 252 657.5 255 680C258 702.5 260.5 715 268 735C275.5 755 291.33 780.83 300 800C308.67 819.17 316.67 841.67 320 850" stroke="#9bd6e6" stroke-width="4.5"/>
<path d="M900 240C866.67 240.83 750 242 700 245C650 248 635 249.67 600 258C565 266.33 523.33 278.83 490 295C456.67 311.17 426.67 332.5 400 355C373.33 377.5 347.5 405.83 330 430C312.5 454.17 300.83 488.33 295 500" stroke="#9bd6e6" stroke-width="3.5"/>
<path d="M540 108L600 235M650 92L700 225M430 143L500 268M310 200L410 320M240 245L340 378M150 325L295 430M90 420L270 490M52 500L255 535M45 580L250 592M50 640L250 640M62 705L252 688M85 772L262 745M125 835L300 800M780 80L760 220M930 105L845 215" stroke="#bbe3ee" stroke-width="3"/>
<path d="M905 300C887.5 297.5 834.17 286.33 800 285C765.83 283.67 733.33 287.5 700 292C666.67 296.5 633.33 302 600 312C566.67 322 529.17 335.67 500 352C470.83 368.33 443.67 390.33 425 410C406.33 429.67 394.17 451.67 388 470C381.83 488.33 382.67 507.33 388 520C393.33 532.67 406.33 544.33 420 546C433.67 547.67 446.67 542.67 470 530C493.33 517.33 531.67 486.33 560 470C588.33 453.67 616.67 441.67 640 432C663.33 422.33 690 415.33 700 412" stroke="#bfe4f1" stroke-width="10"/>
<path d="M700 340C683.33 342.83 631.67 347.33 600 357C568.33 366.67 534.17 384.17 510 398C485.83 411.83 464.17 428 455 440C445.83 452 447.5 465.67 455 470C462.5 474.33 475.83 475.67 500 466C524.17 456.33 566.67 425.33 600 412C633.33 398.67 670 391.33 700 386C730 380.67 766.67 381 780 380" stroke="#9bd6e6" stroke-width="4"/>
<path d="M545 418C554.17 414.17 577.5 400.5 600 395C622.5 389.5 666.67 386.67 680 385" stroke="#bfe4f1" stroke-width="9"/>
<path d="M780 300C793.33 306.67 833.33 331.67 860 340C886.67 348.33 920.33 349.17 940 350C959.67 350.83 971.67 345.83 978 345" stroke="#bfe4f1" stroke-width="6"/>
<path d="M790 245C800 250.83 826.67 270.83 850 280C873.33 289.17 908.67 297 930 300C951.33 303 970 298.33 978 298" stroke="#9bd6e6" stroke-width="4"/>
<path d="M800 330C810 336.67 836.67 360.83 860 370C883.33 379.17 920.33 385 940 385C959.67 385 971.67 372.5 978 370" stroke="#9bd6e6" stroke-width="4"/>
<path d="M440 610C445 601.67 453.33 575 470 560C486.67 545 511.67 533.33 540 520C568.33 506.67 613.33 489.67 640 480C666.67 470.33 673.33 468.67 700 462C726.67 455.33 770 442 800 440C830 438 866.67 448.33 880 450" stroke="#9bd6e6" stroke-width="4"/>
<path d="M445 615C449.17 629.17 459.17 670.83 470 700C480.83 729.17 495 763.33 510 790C525 816.67 541.67 838.33 560 860C578.33 881.67 596.67 900.83 620 920C643.33 939.17 686.67 965.83 700 975" stroke="#9bd6e6" stroke-width="4"/>
<path d="M640 560C631.67 566.67 601.67 585 590 600C578.33 615 565 633.33 570 650C575 666.67 598.33 685.83 620 700C641.67 714.17 673.33 726.67 700 735C726.67 743.33 766.67 744.17 780 750C793.33 755.83 793.33 767.5 780 770C766.67 772.5 728.33 771.67 700 765C671.67 758.33 633.33 744.17 610 730C586.67 715.83 568.33 688.33 560 680" stroke="#9bd6e6" stroke-width="3.5"/>
<path d="M520 700C526.67 710 543.33 740 560 760C576.67 780 598.33 800 620 820C641.67 840 673.33 861.67 690 880C706.67 898.33 717.5 914.17 720 930C722.5 945.83 707.5 967.5 705 975" stroke="#9bd6e6" stroke-width="3.5"/>
<path d="M820 500C826.67 506.67 846.67 530 860 540C873.33 550 888.33 546.67 900 560C911.67 573.33 924.17 596.67 930 620C935.83 643.33 940 676.67 935 700C930 723.33 912.5 746.67 900 760C887.5 773.33 866.67 776.67 860 780" stroke="#bbe3ee" stroke-width="3"/>
<path d="M300 860C305 858.33 318.33 851.67 330 850C341.67 848.33 355 846.67 370 850C385 853.33 403.33 860.83 420 870C436.67 879.17 446.67 897.5 470 905C493.33 912.5 531.67 907.5 560 915C588.33 922.5 626.67 944.17 640 950" stroke="#bbe3ee" stroke-width="3"/>
<path d="M135 830C140.83 845 154.17 891.67 170 920C185.83 948.33 208.33 978.33 230 1000C251.67 1021.67 275 1037.5 300 1050C325 1062.5 366.67 1070.83 380 1075" stroke="#bbe3ee" stroke-width="3"/>
<path d="M300 890C303.33 901.67 306.67 941.67 320 960C333.33 978.33 355 993.33 380 1000C405 1006.67 440 1005 470 1000C500 995 531.67 978.33 560 970C588.33 961.67 626.67 953.33 640 950" stroke="#bbe3ee" stroke-width="3"/>
<ellipse cx="907" cy="668" rx="17" ry="31" stroke="#7fc9dd" stroke-width="4"/><ellipse cx="825" cy="1000" rx="14" ry="17" stroke="#7fc9dd" stroke-width="4"/><ellipse cx="870" cy="895" rx="16" ry="26" stroke="#7fc9dd" stroke-width="4"/><ellipse cx="945" cy="770" rx="9" ry="14" stroke="#7fc9dd" stroke-width="4"/><ellipse cx="760" cy="880" rx="22" ry="18" stroke="#7fc9dd" stroke-width="4"/><ellipse cx="820" cy="880" rx="18" ry="12" stroke="#7fc9dd" stroke-width="4"/>
<path d="M335 462C339.67 463.67 343 470.33 343 480C343 489.67 338.83 505 335 520C331.17 535 322.83 555 320 570C317.17 585 316.33 596.67 318 610C319.67 623.33 321.33 638.33 330 650C338.67 661.67 355 671.67 370 680C385 688.33 405.83 691.67 420 700C434.17 708.33 445 718.33 455 730C465 741.67 469.17 755 480 770C490.83 785 506.67 803.33 520 820C533.33 836.67 549.17 856.67 560 870C570.83 883.33 588.33 894.17 585 900C581.67 905.83 555.83 905 540 905C524.17 905 505 904.17 490 900C475 895.83 461.67 887.5 450 880C438.33 872.5 433.33 860.83 420 855C406.67 849.17 380 852.5 370 845C360 837.5 365 824.17 360 810C355 795.83 348.33 775 340 760C331.67 745 319.17 731.67 310 720C300.83 708.33 291.67 700 285 690C278.33 680 269.17 670 270 660C270.83 650 287.5 641.67 290 630C292.5 618.33 286.17 605 285 590C283.83 575 281.33 555 283 540C284.67 525 289.67 511.67 295 500C300.33 488.33 308.33 476.33 315 470C321.67 463.67 330.33 460.33 335 462Z" fill="#3c9fd2" stroke="none"/>
</g>
<g transform="translate(1956 0) scale(-1 1)">
<path d="M978 135C971.67 129.17 956.33 108.83 940 100C923.67 91.17 903.33 85.67 880 82C856.67 78.33 830 77 800 78C770 79 740 83.5 700 88C660 92.5 605 96.33 560 105C515 113.67 473.33 124.17 430 140C386.67 155.83 341.67 175 300 200C258.33 225 213.33 256.67 180 290C146.67 323.33 120.83 363.33 100 400C79.17 436.67 64.17 478.33 55 510C45.83 541.67 45 560 45 590C45 620 48.33 655 55 690C61.67 725 72.5 765 85 800C97.5 835 112.5 868.33 130 900C147.5 931.67 168.33 963.33 190 990C211.67 1016.67 235 1042.5 260 1060C285 1077.5 311.67 1087.5 340 1095C368.33 1102.5 400 1106.67 430 1105C460 1103.33 490 1094.17 520 1085C550 1075.83 585 1062.5 610 1050C635 1037.5 655 1022.5 670 1010C685 997.5 691.67 976.67 700 975C708.33 973.33 710 987.5 720 1000C730 1012.5 741.67 1035 760 1050C778.33 1065 806.67 1080.33 830 1090C853.33 1099.67 880 1103.83 900 1108C920 1112.17 937 1113 950 1115C963 1117 973.33 1119.17 978 1120" stroke="#7fc9dd" stroke-width="6"/>
<path d="M978 135V300" stroke="#9bd6e6" stroke-width="4"/>
<path d="M905 215C887.5 216.17 834.17 220.33 800 222C765.83 223.67 733.33 222.33 700 225C666.67 227.67 636.67 229.67 600 238C563.33 246.33 516.67 258 480 275C443.33 292 410 315.83 380 340C350 364.17 319.67 391.67 300 420C280.33 448.33 270.33 480 262 510C253.67 540 251.17 571.67 250 600C248.83 628.33 252 657.5 255 680C258 702.5 260.5 715 268 735C275.5 755 291.33 780.83 300 800C308.67 819.17 316.67 841.67 320 850" stroke="#9bd6e6" stroke-width="4.5"/>
<path d="M900 240C866.67 240.83 750 242 700 245C650 248 635 249.67 600 258C565 266.33 523.33 278.83 490 295C456.67 311.17 426.67 332.5 400 355C373.33 377.5 347.5 405.83 330 430C312.5 454.17 300.83 488.33 295 500" stroke="#9bd6e6" stroke-width="3.5"/>
<path d="M540 108L600 235M650 92L700 225M430 143L500 268M310 200L410 320M240 245L340 378M150 325L295 430M90 420L270 490M52 500L255 535M45 580L250 592M50 640L250 640M62 705L252 688M85 772L262 745M125 835L300 800M780 80L760 220M930 105L845 215" stroke="#bbe3ee" stroke-width="3"/>
<path d="M905 300C887.5 297.5 834.17 286.33 800 285C765.83 283.67 733.33 287.5 700 292C666.67 296.5 633.33 302 600 312C566.67 322 529.17 335.67 500 352C470.83 368.33 443.67 390.33 425 410C406.33 429.67 394.17 451.67 388 470C381.83 488.33 382.67 507.33 388 520C393.33 532.67 406.33 544.33 420 546C433.67 547.67 446.67 542.67 470 530C493.33 517.33 531.67 486.33 560 470C588.33 453.67 616.67 441.67 640 432C663.33 422.33 690 415.33 700 412" stroke="#bfe4f1" stroke-width="10"/>
<path d="M700 340C683.33 342.83 631.67 347.33 600 357C568.33 366.67 534.17 384.17 510 398C485.83 411.83 464.17 428 455 440C445.83 452 447.5 465.67 455 470C462.5 474.33 475.83 475.67 500 466C524.17 456.33 566.67 425.33 600 412C633.33 398.67 670 391.33 700 386C730 380.67 766.67 381 780 380" stroke="#9bd6e6" stroke-width="4"/>
<path d="M545 418C554.17 414.17 577.5 400.5 600 395C622.5 389.5 666.67 386.67 680 385" stroke="#bfe4f1" stroke-width="9"/>
<path d="M780 300C793.33 306.67 833.33 331.67 860 340C886.67 348.33 920.33 349.17 940 350C959.67 350.83 971.67 345.83 978 345" stroke="#bfe4f1" stroke-width="6"/>
<path d="M790 245C800 250.83 826.67 270.83 850 280C873.33 289.17 908.67 297 930 300C951.33 303 970 298.33 978 298" stroke="#9bd6e6" stroke-width="4"/>
<path d="M800 330C810 336.67 836.67 360.83 860 370C883.33 379.17 920.33 385 940 385C959.67 385 971.67 372.5 978 370" stroke="#9bd6e6" stroke-width="4"/>
<path d="M440 610C445 601.67 453.33 575 470 560C486.67 545 511.67 533.33 540 520C568.33 506.67 613.33 489.67 640 480C666.67 470.33 673.33 468.67 700 462C726.67 455.33 770 442 800 440C830 438 866.67 448.33 880 450" stroke="#9bd6e6" stroke-width="4"/>
<path d="M445 615C449.17 629.17 459.17 670.83 470 700C480.83 729.17 495 763.33 510 790C525 816.67 541.67 838.33 560 860C578.33 881.67 596.67 900.83 620 920C643.33 939.17 686.67 965.83 700 975" stroke="#9bd6e6" stroke-width="4"/>
<path d="M640 560C631.67 566.67 601.67 585 590 600C578.33 615 565 633.33 570 650C575 666.67 598.33 685.83 620 700C641.67 714.17 673.33 726.67 700 735C726.67 743.33 766.67 744.17 780 750C793.33 755.83 793.33 767.5 780 770C766.67 772.5 728.33 771.67 700 765C671.67 758.33 633.33 744.17 610 730C586.67 715.83 568.33 688.33 560 680" stroke="#9bd6e6" stroke-width="3.5"/>
<path d="M520 700C526.67 710 543.33 740 560 760C576.67 780 598.33 800 620 820C641.67 840 673.33 861.67 690 880C706.67 898.33 717.5 914.17 720 930C722.5 945.83 707.5 967.5 705 975" stroke="#9bd6e6" stroke-width="3.5"/>
<path d="M820 500C826.67 506.67 846.67 530 860 540C873.33 550 888.33 546.67 900 560C911.67 573.33 924.17 596.67 930 620C935.83 643.33 940 676.67 935 700C930 723.33 912.5 746.67 900 760C887.5 773.33 866.67 776.67 860 780" stroke="#bbe3ee" stroke-width="3"/>
<path d="M300 860C305 858.33 318.33 851.67 330 850C341.67 848.33 355 846.67 370 850C385 853.33 403.33 860.83 420 870C436.67 879.17 446.67 897.5 470 905C493.33 912.5 531.67 907.5 560 915C588.33 922.5 626.67 944.17 640 950" stroke="#bbe3ee" stroke-width="3"/>
<path d="M135 830C140.83 845 154.17 891.67 170 920C185.83 948.33 208.33 978.33 230 1000C251.67 1021.67 275 1037.5 300 1050C325 1062.5 366.67 1070.83 380 1075" stroke="#bbe3ee" stroke-width="3"/>
<path d="M300 890C303.33 901.67 306.67 941.67 320 960C333.33 978.33 355 993.33 380 1000C405 1006.67 440 1005 470 1000C500 995 531.67 978.33 560 970C588.33 961.67 626.67 953.33 640 950" stroke="#bbe3ee" stroke-width="3"/>
<ellipse cx="907" cy="668" rx="17" ry="31" stroke="#7fc9dd" stroke-width="4"/><ellipse cx="825" cy="1000" rx="14" ry="17" stroke="#7fc9dd" stroke-width="4"/><ellipse cx="870" cy="895" rx="16" ry="26" stroke="#7fc9dd" stroke-width="4"/><ellipse cx="945" cy="770" rx="9" ry="14" stroke="#7fc9dd" stroke-width="4"/><ellipse cx="760" cy="880" rx="22" ry="18" stroke="#7fc9dd" stroke-width="4"/><ellipse cx="820" cy="880" rx="18" ry="12" stroke="#7fc9dd" stroke-width="4"/>
</g>
<path d="M1569.25 425.75C1573.64 426.85 1592.32 437.84 1602.21 449.49C1612.1 461.14 1621.55 478.06 1628.59 495.64C1635.62 513.22 1641.56 534.1 1644.41 554.98C1647.27 575.86 1647.27 601.14 1645.73 620.92C1644.19 640.7 1639.58 658.28 1635.18 673.67C1630.79 689.05 1621.12 700.04 1619.36 713.23C1617.6 726.41 1629.69 738.5 1624.63 752.79C1619.58 767.07 1601.55 782.46 1589.03 798.94C1576.5 815.43 1564.85 836.96 1549.47 851.69C1534.08 866.41 1516.5 879.6 1496.72 887.29C1476.94 894.99 1451.66 893.45 1430.78 897.84C1409.9 902.24 1375.84 916.31 1371.44 913.67C1367.05 911.03 1391.22 893.45 1404.41 882.02C1417.6 870.59 1436.72 861.14 1450.56 845.1C1464.41 829.05 1476.94 807.73 1487.49 785.75C1498.04 763.78 1503.53 734.11 1513.86 713.23C1524.19 692.35 1538.04 678.06 1549.47 660.48C1560.89 642.9 1574.08 627.51 1582.43 607.73C1590.79 587.95 1597.82 562.68 1599.58 541.8C1601.33 520.92 1596.94 498.94 1592.98 482.45C1589.03 465.97 1579.8 452.34 1575.84 442.89C1571.88 433.44 1564.85 424.65 1569.25 425.75Z" fill="#3c9fd2" stroke="none"/>
<path d="M915 455Q978 470 1041 455L1022 490Q978 478 934 490Z" fill="#3c9fd2" stroke="none"/>
<path d="M958 512Q978 506 998 512L980 562Z" fill="#3c9fd2" stroke="none"/>
<path d="M980 958L1003 1025L980 1097L957 1025Z" fill="#3c9fd2" stroke="none"/>
<path d="M978 790V850" stroke="#3c9fd2" stroke-width="5"/>
<ellipse cx="978" cy="1110" rx="22" ry="9" stroke="#7fc9dd" stroke-width="4" fill="#fff"/>
</g>
<g transform="translate(935 130) scale(0.18779)" fill="none" stroke-linejoin="round" stroke-linecap="round">
<g>
<path d="M811 82C805.83 78.33 795.17 65 780 60C764.83 55 746.67 53.67 720 52C693.33 50.33 653.33 47.83 620 50C586.67 52.17 556.67 55.83 520 65C483.33 74.17 440 87.5 400 105C360 122.5 318.33 142.5 280 170C241.67 197.5 200.83 233.33 170 270C139.17 306.67 114.17 350 95 390C75.83 430 63.33 470 55 510C46.67 550 45 591.67 45 630C45 668.33 47.5 703.33 55 740C62.5 776.67 74.17 815 90 850C105.83 885 126.67 918.33 150 950C173.33 981.67 203.33 1015 230 1040C256.67 1065 285 1085.83 310 1100C335 1114.17 358.33 1119.17 380 1125C401.67 1130.83 420 1130.83 440 1135C460 1139.17 480 1149.17 500 1150C520 1150.83 536.67 1145 560 1140C583.33 1135 616.67 1125 640 1120C663.33 1115 680 1114.17 700 1110C720 1105.83 741.5 1102.5 760 1095C778.5 1087.5 802.5 1070 811 1065" stroke="#7fc9dd" stroke-width="6"/>
<path d="M811 82V335" stroke="#9bd6e6" stroke-width="4"/>
<path d="M235 680C237.5 665 240.83 620 250 590C259.17 560 273.33 527.5 290 500C306.67 472.5 323.33 448.67 350 425C376.67 401.33 415 376.33 450 358C485 339.67 526.67 326 560 315C593.33 304 620 296.17 650 292C680 287.83 725 290.33 740 290" stroke="#7fc9dd" stroke-width="4.5"/>
<path d="M243 660C246.17 646.67 251.67 606.67 262 580C272.33 553.33 285.33 526.67 305 500C324.67 473.33 352.5 441.67 380 420C407.5 398.33 443.33 381.67 470 370C496.67 358.33 520 354.17 540 350C560 345.83 581.67 345.83 590 345" stroke="#9bd6e6" stroke-width="4"/>
<path d="M700 350C706.67 353 721.5 363.33 740 368C758.5 372.67 799.17 376.33 811 378" stroke="#9bd6e6" stroke-width="4"/>
<path d="M720 395C728.33 397.5 754.83 404.17 770 410C785.17 415.83 804.17 426.67 811 430" stroke="#9bd6e6" stroke-width="3.5"/>
<path d="M540 68L578 292M450 93L512 312M290 165L395 368M315 150L425 350M135 335L320 445M85 445L280 522M50 680L235 660M68 740L222 712M88 795L215 762M130 862L200 832M640 52L640 290M800 95L700 225M800 220L710 265" stroke="#bbe3ee" stroke-width="3"/>
<path d="M410 922C420 915.33 445 897 470 882C495 867 530 847 560 832C590 817 620 803.67 650 792C680 780.33 713.17 768.67 740 762C766.83 755.33 799.17 753.67 811 752" stroke="#7fc9dd" stroke-width="4.5"/>
<path d="M410 924C425 921.67 468.33 918.67 500 910C531.67 901.33 566.67 882 600 872C633.33 862 664.83 854.33 700 850C735.17 845.67 792.5 846.67 811 846" stroke="#7fc9dd" stroke-width="4.5"/>
<path d="M715 848C716.17 842.5 714.5 823.83 722 815C729.5 806.17 745.17 799.17 760 795C774.83 790.83 802.5 790.83 811 790" stroke="#7fc9dd" stroke-width="4"/>
<path d="M760 690C760.83 675 761.67 628.33 765 600C768.33 571.67 773.33 540 780 520C786.67 500 799.83 487.33 805 480C810.17 472.67 810 476.67 811 476" stroke="#9bd6e6" stroke-width="3.5"/>
<path d="M790 700C790.83 686.67 792.5 643.33 795 620C797.5 596.67 802.33 572.5 805 560C807.67 547.5 810 547.5 811 545" stroke="#9bd6e6" stroke-width="3.5"/>
<path d="M760 690C762.5 695 770 718.33 775 720C780 721.67 785.83 700 790 700C794.17 700 796.5 720 800 720C803.5 720 809.17 703.33 811 700" stroke="#9bd6e6" stroke-width="3.5"/>
<path d="M235 680C230 686.67 209.17 700 205 720C200.83 740 204.17 773.33 210 800C215.83 826.67 225 860 240 880C255 900 276.67 912.5 300 920C323.33 927.5 366.67 924.17 380 925" stroke="#bbe3ee" stroke-width="3"/>
<path d="M150 870C160 885 186.67 933.33 210 960C233.33 986.67 261.67 1010 290 1030C318.33 1050 350 1068.33 380 1080C410 1091.67 455 1096.67 470 1100" stroke="#bbe3ee" stroke-width="3"/>
<path d="M340 930C350 941.67 378.33 980 400 1000C421.67 1020 443.33 1036.67 470 1050C496.67 1063.33 531.67 1073.33 560 1080C588.33 1086.67 626.67 1088.33 640 1090" stroke="#bbe3ee" stroke-width="3"/>
<path d="M520 900C523.33 916.67 533.33 966.67 540 1000C546.67 1033.33 556.67 1083.33 560 1100" stroke="#bbe3ee" stroke-width="3"/>
<path d="M620 870C623.33 888.33 635 941.67 640 980C645 1018.33 648.33 1080 650 1100" stroke="#bbe3ee" stroke-width="3"/>
<ellipse cx="600" cy="700" rx="12" ry="50" stroke="#9bd6e6" stroke-width="3"/><ellipse cx="640" cy="730" rx="12" ry="40" stroke="#9bd6e6" stroke-width="3"/><ellipse cx="780" cy="1000" rx="22" ry="55" stroke="#9bd6e6" stroke-width="3"/><ellipse cx="715" cy="1120" rx="30" ry="10" stroke="#9bd6e6" stroke-width="3"/><ellipse cx="460" cy="1040" rx="60" ry="22" stroke="#9bd6e6" stroke-width="3"/>
<path d="M583 345C585.5 339.17 595.5 335.83 605 335C614.5 334.17 625.83 334.5 640 340C654.17 345.5 676.33 360.5 690 368C703.67 375.5 717.33 376.33 722 385C726.67 393.67 721.67 408.33 718 420C714.33 431.67 706.33 443.33 700 455C693.67 466.67 685 472.5 680 490C675 507.5 672 535 670 560C668 585 667.67 618.33 668 640C668.33 661.67 674.17 686.67 672 690C669.83 693.33 659.5 675 655 660C650.5 645 647.5 623.33 645 600C642.5 576.67 642.5 543.33 640 520C637.5 496.67 635 478.33 630 460C625 441.67 616.67 425 610 410C603.33 395 594.5 380.83 590 370C585.5 359.17 580.5 350.83 583 345Z" fill="#3c9fd2" stroke="none"/>
</g>
<g transform="translate(1622 0) scale(-1 1)">
<path d="M811 82C805.83 78.33 795.17 65 780 60C764.83 55 746.67 53.67 720 52C693.33 50.33 653.33 47.83 620 50C586.67 52.17 556.67 55.83 520 65C483.33 74.17 440 87.5 400 105C360 122.5 318.33 142.5 280 170C241.67 197.5 200.83 233.33 170 270C139.17 306.67 114.17 350 95 390C75.83 430 63.33 470 55 510C46.67 550 45 591.67 45 630C45 668.33 47.5 703.33 55 740C62.5 776.67 74.17 815 90 850C105.83 885 126.67 918.33 150 950C173.33 981.67 203.33 1015 230 1040C256.67 1065 285 1085.83 310 1100C335 1114.17 358.33 1119.17 380 1125C401.67 1130.83 420 1130.83 440 1135C460 1139.17 480 1149.17 500 1150C520 1150.83 536.67 1145 560 1140C583.33 1135 616.67 1125 640 1120C663.33 1115 680 1114.17 700 1110C720 1105.83 741.5 1102.5 760 1095C778.5 1087.5 802.5 1070 811 1065" stroke="#7fc9dd" stroke-width="6"/>
<path d="M811 82V335" stroke="#9bd6e6" stroke-width="4"/>
<path d="M235 680C237.5 665 240.83 620 250 590C259.17 560 273.33 527.5 290 500C306.67 472.5 323.33 448.67 350 425C376.67 401.33 415 376.33 450 358C485 339.67 526.67 326 560 315C593.33 304 620 296.17 650 292C680 287.83 725 290.33 740 290" stroke="#7fc9dd" stroke-width="4.5"/>
<path d="M243 660C246.17 646.67 251.67 606.67 262 580C272.33 553.33 285.33 526.67 305 500C324.67 473.33 352.5 441.67 380 420C407.5 398.33 443.33 381.67 470 370C496.67 358.33 520 354.17 540 350C560 345.83 581.67 345.83 590 345" stroke="#9bd6e6" stroke-width="4"/>
<path d="M700 350C706.67 353 721.5 363.33 740 368C758.5 372.67 799.17 376.33 811 378" stroke="#9bd6e6" stroke-width="4"/>
<path d="M720 395C728.33 397.5 754.83 404.17 770 410C785.17 415.83 804.17 426.67 811 430" stroke="#9bd6e6" stroke-width="3.5"/>
<path d="M540 68L578 292M450 93L512 312M290 165L395 368M315 150L425 350M135 335L320 445M85 445L280 522M50 680L235 660M68 740L222 712M88 795L215 762M130 862L200 832M640 52L640 290M800 95L700 225M800 220L710 265" stroke="#bbe3ee" stroke-width="3"/>
<path d="M410 922C420 915.33 445 897 470 882C495 867 530 847 560 832C590 817 620 803.67 650 792C680 780.33 713.17 768.67 740 762C766.83 755.33 799.17 753.67 811 752" stroke="#7fc9dd" stroke-width="4.5"/>
<path d="M410 924C425 921.67 468.33 918.67 500 910C531.67 901.33 566.67 882 600 872C633.33 862 664.83 854.33 700 850C735.17 845.67 792.5 846.67 811 846" stroke="#7fc9dd" stroke-width="4.5"/>
<path d="M715 848C716.17 842.5 714.5 823.83 722 815C729.5 806.17 745.17 799.17 760 795C774.83 790.83 802.5 790.83 811 790" stroke="#7fc9dd" stroke-width="4"/>
<path d="M760 690C760.83 675 761.67 628.33 765 600C768.33 571.67 773.33 540 780 520C786.67 500 799.83 487.33 805 480C810.17 472.67 810 476.67 811 476" stroke="#9bd6e6" stroke-width="3.5"/>
<path d="M790 700C790.83 686.67 792.5 643.33 795 620C797.5 596.67 802.33 572.5 805 560C807.67 547.5 810 547.5 811 545" stroke="#9bd6e6" stroke-width="3.5"/>
<path d="M760 690C762.5 695 770 718.33 775 720C780 721.67 785.83 700 790 700C794.17 700 796.5 720 800 720C803.5 720 809.17 703.33 811 700" stroke="#9bd6e6" stroke-width="3.5"/>
<path d="M235 680C230 686.67 209.17 700 205 720C200.83 740 204.17 773.33 210 800C215.83 826.67 225 860 240 880C255 900 276.67 912.5 300 920C323.33 927.5 366.67 924.17 380 925" stroke="#bbe3ee" stroke-width="3"/>
<path d="M150 870C160 885 186.67 933.33 210 960C233.33 986.67 261.67 1010 290 1030C318.33 1050 350 1068.33 380 1080C410 1091.67 455 1096.67 470 1100" stroke="#bbe3ee" stroke-width="3"/>
<path d="M340 930C350 941.67 378.33 980 400 1000C421.67 1020 443.33 1036.67 470 1050C496.67 1063.33 531.67 1073.33 560 1080C588.33 1086.67 626.67 1088.33 640 1090" stroke="#bbe3ee" stroke-width="3"/>
<path d="M520 900C523.33 916.67 533.33 966.67 540 1000C546.67 1033.33 556.67 1083.33 560 1100" stroke="#bbe3ee" stroke-width="3"/>
<path d="M620 870C623.33 888.33 635 941.67 640 980C645 1018.33 648.33 1080 650 1100" stroke="#bbe3ee" stroke-width="3"/>
<ellipse cx="600" cy="700" rx="12" ry="50" stroke="#9bd6e6" stroke-width="3"/><ellipse cx="640" cy="730" rx="12" ry="40" stroke="#9bd6e6" stroke-width="3"/><ellipse cx="780" cy="1000" rx="22" ry="55" stroke="#9bd6e6" stroke-width="3"/><ellipse cx="715" cy="1120" rx="30" ry="10" stroke="#9bd6e6" stroke-width="3"/><ellipse cx="460" cy="1040" rx="60" ry="22" stroke="#9bd6e6" stroke-width="3"/>
</g>
</g>
<g transform="translate(930 70) scale(0.24207)"><path d="M715 560C715.83 551.67 730.5 545.33 740 540C749.5 534.67 766.17 524.67 772 528C777.83 531.33 775.33 548 775 560C774.67 572 770.5 586.67 770 600C769.5 613.33 771.17 623.33 772 640C772.83 656.67 775 680 775 700C775 720 774.17 745 772 760C769.83 775 765.33 786.67 762 790C758.67 793.33 752.33 790 752 780C751.67 770 758.67 746.67 760 730C761.33 713.33 761.33 696.67 760 680C758.67 663.33 756.17 645 752 630C747.83 615 741.17 601.67 735 590C728.83 578.33 714.17 568.33 715 560Z" fill="#3c9fd2"/><path d="M650 935V1060l-6 14h12l-6 -14" stroke="#3c9fd2" stroke-width="5" fill="#3c9fd2"/></g>
<g><rect x="705.65" y="247.4" width="1.5" height="57.4" fill="#5c5e60"/><rect x="704.9" y="86.2" width="3" height="31.9" fill="#b4b6b8" stroke="#8a8c8e" stroke-width="0.8"/><rect x="700.7" y="83.8" width="11.4" height="4.8" rx="2.4" fill="#9c9ea0" stroke="#7f8183" stroke-width="0.8"/><rect x="700.2" y="120.9" width="12.4" height="114.7" fill="#f3f3f3" stroke="#a3a5a7" stroke-width="1.1"/><rect x="704.7" y="121.9" width="3.4" height="113.7" fill="#dedfdf" stroke="#c2c3c4" stroke-width="0.5"/><rect x="708.1" y="150.89" width="3.6" height="84.71" fill="#d3d4d5"/><path d="M708.1 154.15h3.6M708.1 160.67h3.6M708.1 167.18h3.6M708.1 173.7h3.6M708.1 180.21h3.6M708.1 186.73h3.6M708.1 193.25h3.6M708.1 199.76h3.6M708.1 206.28h3.6M708.1 212.79h3.6M708.1 219.31h3.6M708.1 225.83h3.6M708.1 232.34h3.6" stroke="#b0b1b2" stroke-width="0.6" fill="none"/><rect x="704.8" y="224.1" width="3.2" height="11.5" fill="#a6d8ee"/><rect x="696.98" y="115.1" width="18.85" height="6.8" rx="3.2" fill="#f0f0f0" stroke="#b5b7b9" stroke-width="0.9"/><ellipse cx="706.4" cy="117.7" rx="2.2" ry="1" fill="#8d8f91"/><rect x="700.4" y="235.1" width="12" height="7.94" fill="#858789" stroke="#6e7072" stroke-width="0.6"/><rect x="701.5" y="242.64" width="9.8" height="5.76" rx="1" fill="#97999b" stroke="#6e7072" stroke-width="0.6"/></g>
<g><rect x="795.25" y="247.4" width="1.5" height="57.4" fill="#5c5e60"/><rect x="794.5" y="86.2" width="3" height="31.9" fill="#b4b6b8" stroke="#8a8c8e" stroke-width="0.8"/><rect x="790.3" y="83.8" width="11.4" height="4.8" rx="2.4" fill="#9c9ea0" stroke="#7f8183" stroke-width="0.8"/><rect x="789.8" y="120.9" width="12.4" height="114.7" fill="#f3f3f3" stroke="#a3a5a7" stroke-width="1.1"/><rect x="794.3" y="121.9" width="3.4" height="113.7" fill="#dedfdf" stroke="#c2c3c4" stroke-width="0.5"/><rect x="797.7" y="150.89" width="3.6" height="84.71" fill="#d3d4d5"/><path d="M797.7 154.15h3.6M797.7 160.67h3.6M797.7 167.18h3.6M797.7 173.7h3.6M797.7 180.21h3.6M797.7 186.73h3.6M797.7 193.25h3.6M797.7 199.76h3.6M797.7 206.28h3.6M797.7 212.79h3.6M797.7 219.31h3.6M797.7 225.83h3.6M797.7 232.34h3.6" stroke="#b0b1b2" stroke-width="0.6" fill="none"/><rect x="794.4" y="224.1" width="3.2" height="11.5" fill="#a6d8ee"/><rect x="786.58" y="115.1" width="18.85" height="6.8" rx="3.2" fill="#f0f0f0" stroke="#b5b7b9" stroke-width="0.9"/><ellipse cx="796" cy="117.7" rx="2.2" ry="1" fill="#8d8f91"/><rect x="790" y="235.1" width="12" height="7.94" fill="#858789" stroke="#6e7072" stroke-width="0.6"/><rect x="791.1" y="242.64" width="9.8" height="5.76" rx="1" fill="#97999b" stroke="#6e7072" stroke-width="0.6"/></g>
<g><rect x="1060.25" y="222.7" width="1.5" height="49.4" fill="#5c5e60"/><rect x="1059.62" y="81.6" width="2.76" height="28.6" fill="#b4b6b8" stroke="#8a8c8e" stroke-width="0.8"/><rect x="1055.76" y="79.39" width="10.49" height="4.42" rx="2.21" fill="#9c9ea0" stroke="#7f8183" stroke-width="0.8"/><rect x="1055.3" y="112.8" width="11.4" height="100" fill="#f3f3f3" stroke="#a3a5a7" stroke-width="1.1"/><rect x="1059.44" y="113.8" width="3.13" height="99" fill="#dedfdf" stroke="#c2c3c4" stroke-width="0.5"/><rect x="1062.56" y="139.05" width="3.24" height="73.75" fill="#d3d4d5"/><path d="M1062.56 141.88h3.24M1062.56 147.56h3.24M1062.56 153.23h3.24M1062.56 158.9h3.24M1062.56 164.58h3.24M1062.56 170.25h3.24M1062.56 175.92h3.24M1062.56 181.6h3.24M1062.56 187.27h3.24M1062.56 192.94h3.24M1062.56 198.62h3.24M1062.56 204.29h3.24M1062.56 209.96h3.24" stroke="#b0b1b2" stroke-width="0.6" fill="none"/><rect x="1059.53" y="202.22" width="2.94" height="10.58" fill="#a6d8ee"/><rect x="1052.34" y="107.2" width="17.33" height="6.6" rx="3.2" fill="#f0f0f0" stroke="#b5b7b9" stroke-width="0.9"/><ellipse cx="1061" cy="109.8" rx="2.2" ry="1" fill="#8d8f91"/><rect x="1055.5" y="212.3" width="11" height="6.76" fill="#858789" stroke="#6e7072" stroke-width="0.6"/><rect x="1056.6" y="218.79" width="8.8" height="4.9" rx="1" fill="#97999b" stroke="#6e7072" stroke-width="0.6"/></g>
<g><rect x="1120.75" y="224.4" width="1.5" height="50.1" fill="#5c5e60"/><rect x="1120.12" y="84.5" width="2.76" height="28.5" fill="#b4b6b8" stroke="#8a8c8e" stroke-width="0.8"/><rect x="1116.26" y="82.29" width="10.49" height="4.42" rx="2.21" fill="#9c9ea0" stroke="#7f8183" stroke-width="0.8"/><rect x="1115.8" y="115.5" width="11.4" height="99" fill="#f3f3f3" stroke="#a3a5a7" stroke-width="1.1"/><rect x="1119.94" y="116.5" width="3.13" height="98" fill="#dedfdf" stroke="#c2c3c4" stroke-width="0.5"/><rect x="1123.06" y="141.49" width="3.24" height="73.01" fill="#d3d4d5"/><path d="M1123.06 144.3h3.24M1123.06 149.91h3.24M1123.06 155.53h3.24M1123.06 161.15h3.24M1123.06 166.76h3.24M1123.06 172.38h3.24M1123.06 178h3.24M1123.06 183.61h3.24M1123.06 189.23h3.24M1123.06 194.84h3.24M1123.06 200.46h3.24M1123.06 206.08h3.24M1123.06 211.69h3.24" stroke="#b0b1b2" stroke-width="0.6" fill="none"/><rect x="1120.03" y="203.92" width="2.94" height="10.58" fill="#a6d8ee"/><rect x="1112.84" y="110" width="17.33" height="6.5" rx="3.2" fill="#f0f0f0" stroke="#b5b7b9" stroke-width="0.9"/><ellipse cx="1121.5" cy="112.6" rx="2.2" ry="1" fill="#8d8f91"/><rect x="1116" y="214" width="11" height="6.76" fill="#858789" stroke="#6e7072" stroke-width="0.6"/><rect x="1117.1" y="220.5" width="8.8" height="4.91" rx="1" fill="#97999b" stroke="#6e7072" stroke-width="0.6"/></g>
<rect x="138.6" y="174.1" width="54.2" height="50.3" fill="#86847c"/>
<rect x="138.6" y="242.2" width="54.2" height="50.4" fill="#343434"/>
<text x="125.6" y="136.3" class="b" style="font-size:25.3px">A</text>
<text x="254" y="209.9" class="b" style="font-size:28.3px">hM3Dq + Vehicle</text>
<text x="253.1" y="278.1" class="b" style="font-size:28.3px">hM3Dq + CNO</text>
<text x="581.7" y="68.5" class="b" style="font-size:25px">INTRSECT-hM3Dq-mCherry</text>
<text x="1055.8" y="39.8" class="b" style="font-size:25px">BNST</text>
<text x="1034" y="69.2" class="b" style="font-size:25px">Retro-Flp</text>
<text y="397.2" class="r"><tspan x="755" style="font-size:25.4px">Tac1-Cre OR</tspan><tspan x="909.9" font-style="italic" style="font-size:24.6px">Crh</tspan><tspan x="949.2" style="font-size:24.5px">-Cre mice</tspan></text>
<text x="311.8" y="466.7" class="b" style="font-size:25.3px">B</text>
<text x="1192.2" y="474" class="b" style="font-size:25.3px">C</text>
<text x="314.7" y="851.3" class="b" style="font-size:25.3px">D</text>
<text x="1199" y="851.3" class="b" style="font-size:25.3px">E</text>
<text x="600.4" y="469.9" class="b" style="font-size:25px">24 h Food Deprivation – Chow</text>
<text x="1480.3" y="465.7" class="b" style="font-size:25px">4 h Water Deprivation – Water</text>
<text x="91.2" y="474.2" class="b" style="font-size:25.3px">PSTN<tspan x="159.4" y="467" font-style="italic" style="font-size:16.6px">Tac1</tspan></text>
<text x="97" y="859.2" class="b" style="font-size:25.3px">PSTN<tspan x="164.4" y="852" font-style="italic" style="font-size:16.6px">Crh</tspan></text>
<g>
<rect x="502.5" y="711.8" width="55.4" height="95.5" fill="#86857b" stroke="#000" stroke-width="2.2"/>
<rect x="617.9" y="721.6" width="55.6" height="85.7" fill="#333333" stroke="#000" stroke-width="2.2"/>
<path d="M443.5 524.8 V807.3 H730.9" fill="none" stroke="#000" stroke-width="2.2" stroke-linecap="square"/>
<path d="M436.2 807.3 H443.5" stroke="#000" stroke-width="2.2"/>
<text x="434.3" y="814.3" text-anchor="end" class="tk" style="font-size:20.6px">0</text>
<path d="M436.2 713.2 H443.5" stroke="#000" stroke-width="2.2"/>
<text x="434.3" y="720.2" text-anchor="end" class="tk" style="font-size:20.6px">50</text>
<path d="M436.2 619 H443.5" stroke="#000" stroke-width="2.2"/>
<text x="434.3" y="626" text-anchor="end" class="tk" style="font-size:20.6px">100</text>
<path d="M436.2 524.8 H443.5" stroke="#000" stroke-width="2.2"/>
<text x="434.3" y="531.8" text-anchor="end" class="tk" style="font-size:20.6px">150</text>
<path d="M530 604.15L645.6 675.29M530 660.28L645.6 732.97M530 695.98L645.6 731.68M530 703.48L645.6 700.89M530 708.65L645.6 740.47M530 729.87L645.6 654.59M530 745.9L645.6 720.29M530 747.2L645.6 723.66M530 749.01L645.6 740.47M530 759.35L645.6 780.05" fill="none" stroke="#000" stroke-width="1.5"/>
<circle cx="530" cy="604.2" r="2.9"/>
<circle cx="530" cy="660.3" r="2.9"/>
<circle cx="530" cy="696" r="2.9"/>
<circle cx="530" cy="703.5" r="2.9"/>
<circle cx="530" cy="708.7" r="2.9"/>
<circle cx="530" cy="729.9" r="2.9"/>
<circle cx="530" cy="745.9" r="2.9"/>
<circle cx="530" cy="747.2" r="2.9"/>
<circle cx="530" cy="749" r="2.9"/>
<circle cx="530" cy="759.4" r="2.9"/>
<circle cx="645.6" cy="654.6" r="2.9"/>
<circle cx="645.6" cy="675.3" r="2.9"/>
<circle cx="645.6" cy="700.9" r="2.9"/>
<circle cx="645.6" cy="720.3" r="2.9"/>
<circle cx="645.6" cy="723.7" r="2.9"/>
<circle cx="645.6" cy="731.7" r="2.9"/>
<circle cx="645.6" cy="733" r="2.9"/>
<circle cx="645.6" cy="740.5" r="2.9"/>
<circle cx="645.6" cy="780" r="2.9"/>
<text transform="translate(386.8 649.9) rotate(-90)" text-anchor="middle" class="yl" style="font-size:19.7px">Latency to Bite (s)</text>
</g>
<g>
<rect x="940.6" y="689" width="58.1" height="118" fill="#86857b" stroke="#000" stroke-width="2.2"/>
<rect x="1060.3" y="676.9" width="57.8" height="130.1" fill="#333333" stroke="#000" stroke-width="2.2"/>
<path d="M879.8 513.9 V807 H1177.5" fill="none" stroke="#000" stroke-width="2.2" stroke-linecap="square"/>
<path d="M872.5 807 H879.8" stroke="#000" stroke-width="2.2"/>
<text x="870.6" y="814" text-anchor="end" class="tk" style="font-size:21px">0.0</text>
<path d="M872.5 710 H879.8" stroke="#000" stroke-width="2.2"/>
<text x="870.6" y="717" text-anchor="end" class="tk" style="font-size:21px">0.5</text>
<path d="M872.5 612.2 H879.8" stroke="#000" stroke-width="2.2"/>
<text x="870.6" y="619.2" text-anchor="end" class="tk" style="font-size:21px">1.0</text>
<path d="M872.5 513.9 H879.8" stroke="#000" stroke-width="2.2"/>
<text x="870.6" y="520.9" text-anchor="end" class="tk" style="font-size:21px">1.5</text>
<path d="M969.5 639.19L1089.2 629.84M969.5 666.18L1089.2 631.71M969.5 669.12L1089.2 649.08M969.5 672.32L1089.2 654.96M969.5 678.2L1089.2 731.1M969.5 690.22L1089.2 672.32M969.5 692.89L1089.2 678.2M969.5 694.5L1089.2 695.83M969.5 709.72L1089.2 690.22M969.5 764.49L1089.2 723.08" fill="none" stroke="#000" stroke-width="1.5"/>
<circle cx="969.5" cy="639.2" r="2.9"/>
<circle cx="969.5" cy="666.2" r="2.9"/>
<circle cx="969.5" cy="669.1" r="2.9"/>
<circle cx="969.5" cy="672.3" r="2.9"/>
<circle cx="969.5" cy="678.2" r="2.9"/>
<circle cx="969.5" cy="690.2" r="2.9"/>
<circle cx="969.5" cy="692.9" r="2.9"/>
<circle cx="969.5" cy="694.5" r="2.9"/>
<circle cx="969.5" cy="709.7" r="2.9"/>
<circle cx="969.5" cy="764.5" r="2.9"/>
<circle cx="1089.2" cy="629.8" r="2.9"/>
<circle cx="1089.2" cy="631.7" r="2.9"/>
<circle cx="1089.2" cy="649.1" r="2.9"/>
<circle cx="1089.2" cy="655" r="2.9"/>
<circle cx="1089.2" cy="672.3" r="2.9"/>
<circle cx="1089.2" cy="678.2" r="2.9"/>
<circle cx="1089.2" cy="690.2" r="2.9"/>
<circle cx="1089.2" cy="695.8" r="2.9"/>
<circle cx="1089.2" cy="723.1" r="2.9"/>
<circle cx="1089.2" cy="731.1" r="2.9"/>
<text transform="translate(812.2 655.2) rotate(-90)" text-anchor="middle" class="yl" style="font-size:20.45px">Chow Consumed (g) - 30m</text>
</g>
<g>
<rect x="1368" y="725.3" width="55.7" height="81.7" fill="#86857b" stroke="#000" stroke-width="2.2"/>
<rect x="1483.6" y="725.6" width="55.7" height="81.4" fill="#333333" stroke="#000" stroke-width="2.2"/>
<path d="M1309.6 525 V807 H1596.9" fill="none" stroke="#000" stroke-width="2.2" stroke-linecap="square"/>
<path d="M1302.3 807 H1309.6" stroke="#000" stroke-width="2.2"/>
<text x="1300.4" y="814" text-anchor="end" class="tk" style="font-size:21.9px">0</text>
<path d="M1302.3 736.6 H1309.6" stroke="#000" stroke-width="2.2"/>
<text x="1300.4" y="743.6" text-anchor="end" class="tk" style="font-size:21.9px">50</text>
<path d="M1302.3 666 H1309.6" stroke="#000" stroke-width="2.2"/>
<text x="1300.4" y="673" text-anchor="end" class="tk" style="font-size:21.9px">100</text>
<path d="M1302.3 595.4 H1309.6" stroke="#000" stroke-width="2.2"/>
<text x="1300.4" y="602.4" text-anchor="end" class="tk" style="font-size:21.9px">150</text>
<path d="M1302.3 525 H1309.6" stroke="#000" stroke-width="2.2"/>
<text x="1300.4" y="532" text-anchor="end" class="tk" style="font-size:21.9px">200</text>
<path d="M1396 552.68L1511.6 641.4M1396 697.79L1511.6 721.59M1396 702.19L1511.6 785.48M1396 731.16L1511.6 647.35M1396 744.61L1511.6 747.97M1396 746.68L1513 759.87M1396 750.04L1511.6 795.83M1396 764.79L1511.6 607.78M1396 763.49L1511.6 777.72M1396 783.15L1506 758.32" fill="none" stroke="#000" stroke-width="1.5"/>
<circle cx="1396" cy="552.7" r="2.9"/>
<circle cx="1396" cy="697.8" r="2.9"/>
<circle cx="1396" cy="702.2" r="2.9"/>
<circle cx="1396" cy="731.2" r="2.9"/>
<circle cx="1396" cy="744.6" r="2.9"/>
<circle cx="1396" cy="746.7" r="2.9"/>
<circle cx="1396" cy="750" r="2.9"/>
<circle cx="1396" cy="763.5" r="2.9"/>
<circle cx="1396" cy="764.8" r="2.9"/>
<circle cx="1396" cy="768.1" r="2.9"/>
<circle cx="1396" cy="783.2" r="2.9"/>
<circle cx="1506" cy="758.3" r="2.9"/>
<circle cx="1511.6" cy="607.8" r="2.9"/>
<circle cx="1511.6" cy="641.4" r="2.9"/>
<circle cx="1511.6" cy="647.4" r="2.9"/>
<circle cx="1511.6" cy="721.6" r="2.9"/>
<circle cx="1511.6" cy="748" r="2.9"/>
<circle cx="1511.6" cy="777.7" r="2.9"/>
<circle cx="1511.6" cy="785.5" r="2.9"/>
<circle cx="1511.6" cy="795.8" r="2.9"/>
<circle cx="1517.2" cy="760.1" r="2.9"/>
<text transform="translate(1238.5 637.3) rotate(-90)" text-anchor="middle" class="yl" style="font-size:19.7px">Latency to Lick (s)</text>
</g>
<g>
<rect x="1797.3" y="716" width="54.4" height="91.1" fill="#86857b" stroke="#000" stroke-width="2.2"/>
<rect x="1909.8" y="719.1" width="54.7" height="88" fill="#333333" stroke="#000" stroke-width="2.2"/>
<path d="M1739.6 530.2 V807.1 H2020.8" fill="none" stroke="#000" stroke-width="2.2" stroke-linecap="square"/>
<path d="M1732.3 807.1 H1739.6" stroke="#000" stroke-width="2.2"/>
<text x="1730.4" y="814.1" text-anchor="end" class="tk" style="font-size:21.4px">0.0</text>
<path d="M1732.3 752.2 H1739.6" stroke="#000" stroke-width="2.2"/>
<text x="1730.4" y="759.2" text-anchor="end" class="tk" style="font-size:21.4px">0.2</text>
<path d="M1732.3 696.8 H1739.6" stroke="#000" stroke-width="2.2"/>
<text x="1730.4" y="703.8" text-anchor="end" class="tk" style="font-size:21.4px">0.4</text>
<path d="M1732.3 641.5 H1739.6" stroke="#000" stroke-width="2.2"/>
<text x="1730.4" y="648.5" text-anchor="end" class="tk" style="font-size:21.4px">0.6</text>
<path d="M1732.3 586.1 H1739.6" stroke="#000" stroke-width="2.2"/>
<text x="1730.4" y="593.1" text-anchor="end" class="tk" style="font-size:21.4px">0.8</text>
<path d="M1732.3 530.2 H1739.6" stroke="#000" stroke-width="2.2"/>
<text x="1730.4" y="537.2" text-anchor="end" class="tk" style="font-size:21.4px">1.0</text>
<path d="M1824.5 574.68L1937 607.8M1824.5 610.65L1937 721.64M1824.5 616.34L1937 632.9M1824.5 657.99L1937 627.21M1824.5 751.91L1937 793.31M1824.5 762.78L1937 768.47M1824.5 768.47L1937 782.19M1824.5 795.9L1937 790.47M1824.5 797.71L1937 762.78M1824.5 804.44L1937 691.11" fill="none" stroke="#000" stroke-width="1.5"/>
<circle cx="1824.5" cy="574.7" r="2.9"/>
<circle cx="1824.5" cy="610.6" r="2.9"/>
<circle cx="1824.5" cy="616.3" r="2.9"/>
<circle cx="1824.5" cy="658" r="2.9"/>
<circle cx="1824.5" cy="751.9" r="2.9"/>
<circle cx="1824.5" cy="762.8" r="2.9"/>
<circle cx="1824.5" cy="768.5" r="2.9"/>
<circle cx="1824.5" cy="795.9" r="2.9"/>
<circle cx="1824.5" cy="797.7" r="2.9"/>
<circle cx="1824.5" cy="804.4" r="2.9"/>
<circle cx="1937" cy="607.8" r="2.9"/>
<circle cx="1937" cy="627.2" r="2.9"/>
<circle cx="1937" cy="632.9" r="2.9"/>
<circle cx="1937" cy="691.1" r="2.9"/>
<circle cx="1937" cy="721.6" r="2.9"/>
<circle cx="1937" cy="762.8" r="2.9"/>
<circle cx="1937" cy="768.5" r="2.9"/>
<circle cx="1937" cy="782.2" r="2.9"/>
<circle cx="1937" cy="790.5" r="2.9"/>
<circle cx="1937" cy="793.3" r="2.9"/>
<text transform="translate(1659.7 652.7) rotate(-90)" text-anchor="middle" class="yl" style="font-size:19.5px">30-min intake (g)</text>
</g>
<g>
<rect x="502.5" y="1096.6" width="55.4" height="90.2" fill="#86857b" stroke="#000" stroke-width="2.2"/>
<rect x="617.9" y="1075.1" width="55.6" height="111.7" fill="#333333" stroke="#000" stroke-width="2.2"/>
<path d="M443.5 903.8 V1186.8 H730.9" fill="none" stroke="#000" stroke-width="2.2" stroke-linecap="square"/>
<path d="M436.2 1186.8 H443.5" stroke="#000" stroke-width="2.2"/>
<text x="434.3" y="1193.8" text-anchor="end" class="tk" style="font-size:20.7px">0</text>
<path d="M436.2 1092.6 H443.5" stroke="#000" stroke-width="2.2"/>
<text x="434.3" y="1099.6" text-anchor="end" class="tk" style="font-size:20.7px">50</text>
<path d="M436.2 998.5 H443.5" stroke="#000" stroke-width="2.2"/>
<text x="434.3" y="1005.5" text-anchor="end" class="tk" style="font-size:20.7px">100</text>
<path d="M436.2 903.8 H443.5" stroke="#000" stroke-width="2.2"/>
<text x="434.3" y="910.8" text-anchor="end" class="tk" style="font-size:20.7px">150</text>
<path d="M530 1032.59L645.6 1031.3M530 1045.01L645.6 1094.93M530 1090.28L645.6 1068.03M530 1093.64L645.6 1075.02M530 1102.69L645.6 997.93M530 1103.99L645.6 1042.68M530 1110.45L645.6 1098.04M530 1120.02L645.6 1091.57M530 1122.09L645.6 1120.8M530 1124.68L645.6 1116.14M530 1128.04L645.6 1120.8" fill="none" stroke="#000" stroke-width="1.5"/>
<circle cx="530" cy="1032.6" r="2.9"/>
<circle cx="530" cy="1045" r="2.9"/>
<circle cx="530" cy="1090.3" r="2.9"/>
<circle cx="530" cy="1093.6" r="2.9"/>
<circle cx="530" cy="1102.7" r="2.9"/>
<circle cx="530" cy="1104" r="2.9"/>
<circle cx="530" cy="1110.5" r="2.9"/>
<circle cx="530" cy="1120" r="2.9"/>
<circle cx="530" cy="1122.1" r="2.9"/>
<circle cx="530" cy="1124.7" r="2.9"/>
<circle cx="530" cy="1128" r="2.9"/>
<circle cx="645.6" cy="997.9" r="2.9"/>
<circle cx="645.6" cy="1031.3" r="2.9"/>
<circle cx="645.6" cy="1042.7" r="2.9"/>
<circle cx="645.6" cy="1068" r="2.9"/>
<circle cx="645.6" cy="1075" r="2.9"/>
<circle cx="645.6" cy="1091.6" r="2.9"/>
<circle cx="645.6" cy="1094.9" r="2.9"/>
<circle cx="645.6" cy="1098" r="2.9"/>
<circle cx="645.6" cy="1116.1" r="2.9"/>
<circle cx="645.6" cy="1120.8" r="2.9"/>
<text transform="translate(385.8 1029.2) rotate(-90)" text-anchor="middle" class="yl" style="font-size:19.7px">Latency to Bite (s)</text>
</g>
<g>
<rect x="941.7" y="1068.8" width="58.1" height="118.1" fill="#86857b" stroke="#000" stroke-width="2.2"/>
<rect x="1063.5" y="1065.1" width="57.8" height="121.8" fill="#333333" stroke="#000" stroke-width="2.2"/>
<path d="M879.8 889.8 V1186.9 H1181.8" fill="none" stroke="#000" stroke-width="2.2" stroke-linecap="square"/>
<path d="M872.5 1186.9 H879.8" stroke="#000" stroke-width="2.2"/>
<text x="870.6" y="1193.9" text-anchor="end" class="tk" style="font-size:21px">0.0</text>
<path d="M872.5 1088 H879.8" stroke="#000" stroke-width="2.2"/>
<text x="870.6" y="1095" text-anchor="end" class="tk" style="font-size:21px">0.5</text>
<path d="M872.5 988.9 H879.8" stroke="#000" stroke-width="2.2"/>
<text x="870.6" y="995.9" text-anchor="end" class="tk" style="font-size:21px">1.0</text>
<path d="M872.5 889.8 H879.8" stroke="#000" stroke-width="2.2"/>
<text x="870.6" y="896.8" text-anchor="end" class="tk" style="font-size:21px">1.5</text>
<path d="M970.9 1048.18L1092.2 1078.11M970.9 1053.79L1092.2 1064.21M970.9 1057.54L1092.2 1058.07M970.9 1065.82L1092.2 1040.44M970.9 1068.22L1092.2 1040.44M970.9 1070.89L1092.2 1068.22M970.9 1074.37L1092.2 1093.87M970.9 1101.88L1092.2 1083.98M970.9 1069.82L1092.2 1064.21" fill="none" stroke="#000" stroke-width="1.5"/>
<circle cx="970.9" cy="1048.2" r="2.9"/>
<circle cx="970.9" cy="1053.8" r="2.9"/>
<circle cx="970.9" cy="1057.5" r="2.9"/>
<circle cx="970.9" cy="1065.8" r="2.9"/>
<circle cx="970.9" cy="1068.2" r="2.9"/>
<circle cx="970.9" cy="1069.8" r="2.9"/>
<circle cx="970.9" cy="1070.9" r="2.9"/>
<circle cx="970.9" cy="1074.4" r="2.9"/>
<circle cx="970.9" cy="1101.9" r="2.9"/>
<circle cx="1092.2" cy="1040.4" r="2.9"/>
<circle cx="1092.2" cy="1058.1" r="2.9"/>
<circle cx="1092.2" cy="1064.2" r="2.9"/>
<circle cx="1092.2" cy="1068.2" r="2.9"/>
<circle cx="1092.2" cy="1078.1" r="2.9"/>
<circle cx="1092.2" cy="1084" r="2.9"/>
<circle cx="1092.2" cy="1093.9" r="2.9"/>
<text transform="translate(805.2 1011.3) rotate(-90)" text-anchor="middle" class="yl" style="font-size:20.7px">Chow Consumed (g) - 30m</text>
</g>
<g>
<rect x="1366.7" y="1032.2" width="55.9" height="154.1" fill="#86857b" stroke="#000" stroke-width="2.2"/>
<rect x="1482.4" y="1126.6" width="55.9" height="59.7" fill="#333333" stroke="#000" stroke-width="2.2"/>
<path d="M1308.6 903.8 V1186.3 H1595.4" fill="none" stroke="#000" stroke-width="2.2" stroke-linecap="square"/>
<path d="M1301.3 1186.3 H1308.6" stroke="#000" stroke-width="2.2"/>
<text x="1299.4" y="1193.3" text-anchor="end" class="tk" style="font-size:21.9px">0</text>
<path d="M1301.3 1115.9 H1308.6" stroke="#000" stroke-width="2.2"/>
<text x="1299.4" y="1122.9" text-anchor="end" class="tk" style="font-size:21.9px">50</text>
<path d="M1301.3 1045 H1308.6" stroke="#000" stroke-width="2.2"/>
<text x="1299.4" y="1052" text-anchor="end" class="tk" style="font-size:21.9px">100</text>
<path d="M1301.3 974.2 H1308.6" stroke="#000" stroke-width="2.2"/>
<text x="1299.4" y="981.2" text-anchor="end" class="tk" style="font-size:21.9px">150</text>
<path d="M1301.3 903.8 H1308.6" stroke="#000" stroke-width="2.2"/>
<text x="1299.4" y="910.8" text-anchor="end" class="tk" style="font-size:21.9px">200</text>
<path d="M1394.7 931.97L1510 1072.17M1394.7 932.49L1510 1109.93M1394.7 933.78L1510 1128.56M1394.7 1043.98L1510 1073.46M1394.7 1046.56L1510 1131.15M1394.7 1048.89L1510 1138.91M1394.7 1088.72L1510 1125.45M1394.7 1092.09L1510 1145.63M1394.7 1094.93L1510 1158.56M1394.7 1097.78L1510 1167.36" fill="none" stroke="#000" stroke-width="1.5"/>
<circle cx="1394.7" cy="932" r="2.9"/>
<circle cx="1394.7" cy="932.5" r="2.9"/>
<circle cx="1394.7" cy="933.8" r="2.9"/>
<circle cx="1394.7" cy="1044" r="2.9"/>
<circle cx="1394.7" cy="1046.6" r="2.9"/>
<circle cx="1394.7" cy="1048.9" r="2.9"/>
<circle cx="1394.7" cy="1088.7" r="2.9"/>
<circle cx="1394.7" cy="1092.1" r="2.9"/>
<circle cx="1394.7" cy="1094.9" r="2.9"/>
<circle cx="1394.7" cy="1097.8" r="2.9"/>
<circle cx="1510" cy="1072.2" r="2.9"/>
<circle cx="1510" cy="1073.5" r="2.9"/>
<circle cx="1510" cy="1109.9" r="2.9"/>
<circle cx="1510" cy="1125.5" r="2.9"/>
<circle cx="1510" cy="1128.6" r="2.9"/>
<circle cx="1510" cy="1131.1" r="2.9"/>
<circle cx="1510" cy="1138.9" r="2.9"/>
<circle cx="1510" cy="1145.6" r="2.9"/>
<circle cx="1510" cy="1158.6" r="2.9"/>
<circle cx="1510" cy="1167.4" r="2.9"/>
<text transform="translate(1239.5 1016.5) rotate(-90)" text-anchor="middle" class="yl" style="font-size:19.7px">Latency to Lick (s)</text>
</g>
<path d="M1394.7 923.4V914.7H1510V923.4" fill="none" stroke="#000" stroke-width="1.8" stroke-linejoin="round" stroke-linecap="round"/>
<text x="1452.6" y="914.8" text-anchor="middle" class="tk" style="font-size:22.6px">***</text>
<g>
<rect x="1792.9" y="1120.9" width="55.1" height="65.4" fill="#86857b" stroke="#000" stroke-width="2.2"/>
<rect x="1908" y="1114.5" width="55.4" height="71.8" fill="#333333" stroke="#000" stroke-width="2.2"/>
<path d="M1733.1 903.8 V1186.3 H2020.8" fill="none" stroke="#000" stroke-width="2.2" stroke-linecap="square"/>
<path d="M1725.8 1186.3 H1733.1" stroke="#000" stroke-width="2.2"/>
<text x="1723.9" y="1193.3" text-anchor="end" class="tk" style="font-size:21.4px">0.0</text>
<path d="M1725.8 1116 H1733.1" stroke="#000" stroke-width="2.2"/>
<text x="1723.9" y="1123" text-anchor="end" class="tk" style="font-size:21.4px">0.2</text>
<path d="M1725.8 1045.3 H1733.1" stroke="#000" stroke-width="2.2"/>
<text x="1723.9" y="1052.3" text-anchor="end" class="tk" style="font-size:21.4px">0.4</text>
<path d="M1725.8 974.5 H1733.1" stroke="#000" stroke-width="2.2"/>
<text x="1723.9" y="981.5" text-anchor="end" class="tk" style="font-size:21.4px">0.6</text>
<path d="M1725.8 903.8 H1733.1" stroke="#000" stroke-width="2.2"/>
<text x="1723.9" y="910.8" text-anchor="end" class="tk" style="font-size:21.4px">0.8</text>
<path d="M1820.3 1002.62L1937.5 1144.14M1820.3 1009.86L1935.5 1038.06M1820.3 1087.48L1938.5 1141.04M1820.3 1125.52L1935.5 978.04M1820.3 1126.55L1935.5 1172.09M1820.3 1136.9L1935.5 1133.02M1820.3 1172.09L1938.5 1148.28M1820.3 1175.19L1929.8 1154.49M1820.3 1186.32L1935.5 1066.53" fill="none" stroke="#000" stroke-width="1.5"/>
<circle cx="1820.3" cy="1002.6" r="2.9"/>
<circle cx="1820.3" cy="1009.9" r="2.9"/>
<circle cx="1820.3" cy="1087.5" r="2.9"/>
<circle cx="1820.3" cy="1125.5" r="2.9"/>
<circle cx="1820.3" cy="1126.6" r="2.9"/>
<circle cx="1820.3" cy="1136.9" r="2.9"/>
<circle cx="1820.3" cy="1172.1" r="2.9"/>
<circle cx="1820.3" cy="1175.2" r="2.9"/>
<circle cx="1820.3" cy="1186.3" r="2.9"/>
<circle cx="1929.8" cy="1143.9" r="2.9"/>
<circle cx="1929.8" cy="1154.5" r="2.9"/>
<circle cx="1935.5" cy="978" r="2.9"/>
<circle cx="1935.5" cy="1038.1" r="2.9"/>
<circle cx="1935.5" cy="1066.5" r="2.9"/>
<circle cx="1935.5" cy="1133" r="2.9"/>
<circle cx="1935.5" cy="1172.1" r="2.9"/>
<circle cx="1941.2" cy="1140.3" r="2.9"/>
<circle cx="1941.2" cy="1147.2" r="2.9"/>
<circle cx="1941.2" cy="1154.5" r="2.9"/>
<text transform="translate(1664.9 1018.8) rotate(-90)" text-anchor="middle" class="yl" style="font-size:19.6px">30-min intake (g)</text>
</g>
</svg></body></html>
